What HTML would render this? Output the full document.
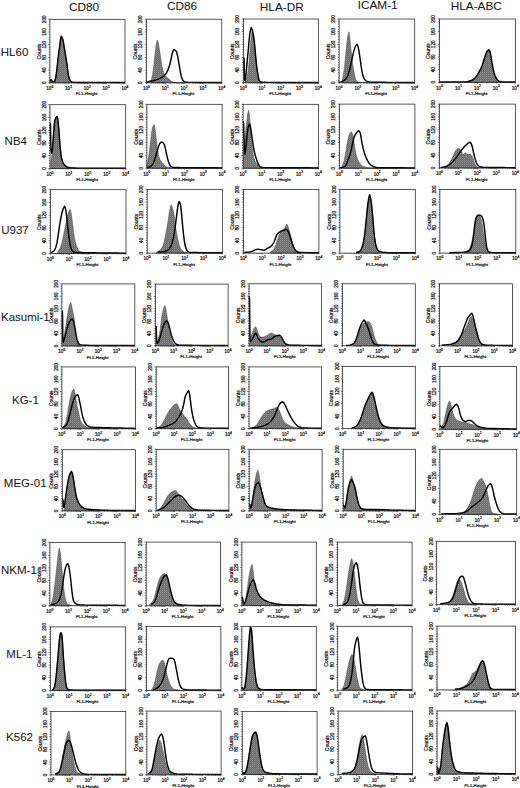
<!DOCTYPE html>
<html><head><meta charset="utf-8"><style>
html,body{margin:0;padding:0;background:#fff;width:520px;height:788px;overflow:hidden}
svg{display:block}
svg text{font-family:"Liberation Sans",sans-serif}
</style></head><body>
<svg width="520" height="788" viewBox="0 0 520 788">
<defs><pattern id="gp" width="2" height="2" patternUnits="userSpaceOnUse"><rect width="2" height="2" fill="#6e6e6e"/><rect width="1" height="1" fill="#8a8a8a"/><rect x="1" y="1" width="1" height="1" fill="#7a7a7a"/></pattern></defs>
<rect width="520" height="788" fill="#fff"/>
<g font-family="Liberation Sans" font-size="11.8" fill="#111" text-anchor="middle">
<text x="84" y="10.5">CD80</text>
<text x="182.1" y="9.7">CD86</text>
<text x="281.8" y="10.9">HLA-DR</text>
<text x="377.7" y="9.4">ICAM-1</text>
<text x="476.3" y="9.9">HLA-ABC</text>
</g>
<g font-family="Liberation Sans" font-size="11.5" fill="#111">
<text x="0.8" y="56">HL60</text>
<text x="4.6" y="145.3">NB4</text>
<text x="1.2" y="233.5">U937</text>
<text x="1" y="321">Kasumi-1</text>
<text x="12" y="403.7">KG-1</text>
<text x="3.8" y="487.3">MEG-01</text>
<text x="1" y="573.7">NKM-1</text>
<text x="6.3" y="657.8">ML-1</text>
<text x="6.1" y="741.3">K562</text>
</g>
<g><path d="M49.9 82.8L49.9 80.26L50.65 80.06L51.4 79.94L51.97 80.89L52.53 81.85L53.66 81.69L54.78 81.21L55.53 78.75L56.28 74.23L57.13 67.23L57.97 59.3L58.82 52.58L59.66 46.29L60.41 39.86L61.16 36.13L62.01 37.23L62.85 39.62L63.7 43.93L64.54 49.46L65.76 56.65L66.99 64.38L67.74 70.6L68.49 75.81L69.33 78.83L70.18 80.58L71.3 81.67L72.43 82.16L75.25 82.36L78.06 82.42L81 82.43L83.93 82.44L86.86 82.44L89.8 82.45L92.73 82.45L95.66 82.46L98.6 82.46L101.53 82.46L104.46 82.47L107.4 82.47L110.33 82.47L113.27 82.47L116.2 82.47L119.13 82.48L122.07 82.48L125 82.48L125 82.8Z" fill="url(#gp)" stroke="#444" stroke-width="0.5"/><path d="M49.9 80.26L50.65 80.06L51.4 79.94L51.97 80.89L52.53 81.85L53.66 81.69L54.78 81.21L55.53 78.75L56.28 74.23L57.13 67.23L57.97 59.3L58.82 52.58L59.66 46.29L60.41 39.86L61.16 36.13L62.01 37.23L62.85 39.62L63.7 43.93L64.54 49.46L65.76 56.65L66.99 64.38L67.74 70.6L68.49 75.81L69.33 78.83L70.18 80.58L71.3 81.67L72.43 82.16L75.25 82.36L78.06 82.42L81 82.43L83.93 82.44L86.86 82.44L89.8 82.45L92.73 82.45L95.66 82.46L98.6 82.46L101.53 82.46L104.46 82.47L107.4 82.47L110.33 82.47L113.27 82.47L116.2 82.47L119.13 82.48L122.07 82.48L125 82.48" fill="none" stroke="#000" stroke-width="1.45" stroke-linejoin="round"/><path d="M146.5 82.8L146.5 82.48L147.91 82.22L149.32 81.85L150.36 81.09L151.39 79.62L152.71 73.52L154.03 63.72L154.97 54.53L155.91 46.23L156.67 42.17L157.42 40.19L158.17 42.27L158.92 46.23L159.87 52.33L160.81 58.95L161.75 64.69L162.69 69.44L163.44 72.21L164.2 74.21L165.23 75.91L166.27 77.08L167.68 78.07L169.09 78.98L170.41 80.36L171.73 81.53L173.23 82.18L174.74 82.48L177.68 82.51L180.62 82.53L183.56 82.55L186.5 82.56L189.44 82.57L192.39 82.58L195.33 82.59L198.27 82.6L201.21 82.6L204.15 82.61L207.09 82.61L210.03 82.61L212.98 82.62L215.92 82.62L218.86 82.63L221.8 82.64L221.8 82.8Z" fill="url(#gp)" stroke="#444" stroke-width="0.5"/><path d="M146.5 82.48L146.78 82.31L147.06 82.16L150.01 81.29L152.96 80.7L155.91 79.94L158.67 78.95L161.43 77.65L164.2 75.8L166.08 73.58L167.96 70.08L169.47 65.45L170.97 59.59L172.1 54.17L173.23 50.36L173.8 49.92L174.36 49.73L175.49 50.38L176.62 51.95L177.84 57.07L179.07 64.36L180.29 71.68L181.51 77.39L182.74 80.13L183.96 81.53L185.94 82.11L187.92 82.32L191 82.36L194.08 82.38L197.16 82.4L200.24 82.42L203.32 82.43L206.4 82.44L209.48 82.45L212.56 82.45L215.64 82.46L218.72 82.47L221.8 82.48" fill="none" stroke="#000" stroke-width="1.45" stroke-linejoin="round"/><path d="M244.9 82.8L244.9 82.16L245.65 81.04L246.4 79.61L247.34 75.9L248.28 70.04L249.12 61.32L249.96 50.9L250.62 42.98L251.28 36.55L251.84 32.9L252.4 31.12L252.87 32.18L253.34 34.31L253.81 37.19L254.28 41.01L255.03 49.28L255.78 57.92L256.62 65.66L257.46 71.95L258.31 77.06L259.15 80.25L260.37 81.85L261.59 82.48L264.58 82.5L267.57 82.52L270.56 82.54L273.55 82.55L276.54 82.57L279.53 82.58L282.52 82.58L285.51 82.59L288.5 82.6L291.49 82.6L294.48 82.6L297.47 82.61L300.46 82.61L303.45 82.61L306.44 82.62L309.43 82.62L312.42 82.63L315.41 82.63L318.4 82.64L318.4 82.8Z" fill="url(#gp)" stroke="#444" stroke-width="0.5"/><path d="M243.4 58.24L243.73 58.24L244.06 58.24L244.29 69.11L244.53 80.25L244.81 80.73L245.09 80.89L245.93 75.44L246.78 65.89L247.62 56.91L248.46 47.71L249.21 39.53L249.96 33.04L250.62 29.38L251.28 27.61L252.03 29.24L252.78 32.4L253.53 36.05L254.28 41.01L255.03 49.09L255.78 57.92L256.62 65.66L257.46 71.95L258.31 77.08L259.15 80.25L260.37 81.74L261.59 82.32L264.58 82.34L267.57 82.36L270.56 82.38L273.55 82.39L276.54 82.41L279.53 82.42L282.52 82.42L285.51 82.43L288.5 82.44L291.49 82.44L294.48 82.44L297.47 82.45L300.46 82.45L303.45 82.45L306.44 82.46L309.43 82.46L312.42 82.47L315.41 82.47L318.4 82.48" fill="none" stroke="#000" stroke-width="1.45" stroke-linejoin="round"/><path d="M341.94 82.8L341.94 82.48L343.16 75.78L344.39 68.13L345.62 55.59L346.85 43.24L347.89 35.66L348.93 31.76L349.87 38L350.82 48.35L351.67 56.06L352.52 63.02L353.37 68.38L354.22 72.91L354.98 76.87L355.73 79.61L356.96 81.42L358.19 82.16L361.33 82.23L364.47 82.29L367.61 82.34L370.75 82.39L373.89 82.42L377.03 82.45L380.17 82.48L383.31 82.5L386.44 82.51L389.58 82.52L392.72 82.54L395.86 82.55L399 82.56L402.14 82.57L405.28 82.58L408.42 82.6L411.56 82.62L414.7 82.64L414.7 82.8Z" fill="url(#gp)" stroke="#444" stroke-width="0.5"/><path d="M339.1 81.52L339.57 81.92L340.05 82.16L342.22 81.57L344.39 80.25L346 78.67L347.61 76.1L349.21 71.23L350.82 64.62L352.05 58.82L353.28 53.13L354.13 49.89L354.98 47.39L356.02 45.24L357.06 44.2L357.91 46.12L358.76 49.94L359.61 55.23L360.46 61.43L361.21 66.75L361.97 71.32L363.01 75.81L364.05 78.65L365.65 80.59L367.26 81.52L369.72 81.98L372.18 82.16L375.21 82.21L378.25 82.26L381.29 82.29L384.32 82.32L387.36 82.35L390.4 82.36L393.44 82.38L396.48 82.39L399.51 82.41L402.55 82.42L405.59 82.43L408.62 82.44L411.66 82.46L414.7 82.48" fill="none" stroke="#000" stroke-width="1.45" stroke-linejoin="round"/><path d="M465.56 82.3L465.56 81.98L467.65 81.54L469.73 81.03L471.34 80.51L472.95 79.77L474.56 78.46L476.17 76.6L477.88 74.02L479.58 70.91L480.82 68.58L482.05 65.84L483.28 62.02L484.51 57.93L485.55 54.75L486.6 52.23L487.64 50.53L488.68 49.7L489.53 50.66L490.39 52.87L491.14 57.28L491.9 62.68L492.94 68.11L493.99 72.49L495.03 75.81L496.07 78.19L497.3 79.97L498.53 81.03L500.24 81.59L501.95 81.98L501.95 82.3Z" fill="url(#gp)" stroke="#444" stroke-width="0.5"/><path d="M439.6 81.98L442.48 81.98L445.37 81.98L448.25 81.98L451.14 81.98L454.02 81.98L456.91 81.98L459.79 81.98L462.68 81.98L465.56 81.98L467.65 81.66L469.73 81.03L471.34 80.51L472.95 79.77L474.56 78.46L476.17 76.6L477.88 74.02L479.58 70.91L480.82 68.58L482.05 65.84L483.28 62.02L484.51 57.93L485.55 54.75L486.6 52.23L487.64 50.53L488.68 49.7L489.53 50.66L490.39 52.87L491.14 57.28L491.9 62.68L492.94 68.11L493.99 72.49L495.03 75.81L496.07 78.19L497.3 79.97L498.53 81.03L500.24 81.71L501.95 81.98L504.64 81.98L507.33 81.98L510.02 81.98L512.71 81.98L515.4 81.98" fill="none" stroke="#000" stroke-width="1.45" stroke-linejoin="round"/><path d="M50.76 168.5L50.76 162.12L51.61 156.47L52.46 149.68L53.03 141.75L53.6 133.09L54.16 125.58L54.73 120.65L55.87 117.61L57 116.5L57.57 118.13L58.14 121.61L58.8 129.05L59.46 138.19L60.22 147.52L60.98 154.78L61.83 159.31L62.68 162.12L63.91 164.28L65.14 165.63L66.37 166.63L67.6 167.22L70.06 167.64L72.52 167.86L75.45 168.07L78.39 168.18L81.34 168.2L84.3 168.22L87.26 168.24L90.22 168.25L93.17 168.26L96.13 168.27L99.09 168.28L102.04 168.29L105 168.3L107.96 168.3L110.91 168.31L113.87 168.31L116.83 168.32L119.79 168.32L122.74 168.33L125.7 168.34L125.7 168.5Z" fill="url(#gp)" stroke="#444" stroke-width="0.5"/><path d="M50 123.2L50.24 123.45L50.47 123.84L50.71 136.17L50.95 149.36L51.32 152.21L51.7 153.19L52.08 152.08L52.46 149.68L53.03 142.2L53.6 133.09L54.16 125.58L54.73 120.65L55.87 117.61L57 116.5L57.57 118.13L58.14 121.61L58.8 129.05L59.46 138.19L60.22 147.52L60.98 154.78L61.83 159.31L62.68 162.12L63.91 164.28L65.14 165.63L66.37 166.63L67.6 167.22L70.06 167.64L72.52 167.86L75.45 168.07L78.39 168.18L81.34 168.2L84.3 168.23L87.26 168.24L90.22 168.26L93.17 168.28L96.13 168.29L99.09 168.3L102.04 168.31L105 168.32L107.96 168.32L110.91 168.33L113.87 168.33L116.83 168.34L119.79 168.34L122.74 168.34L125.7 168.34L125.7 168.26L125.7 168.18" fill="none" stroke="#000" stroke-width="1.45" stroke-linejoin="round"/><path d="M146.9 168.2L146.9 165.64L147.18 164.22L147.46 162.77L148.22 158.84L148.97 154.46L149.81 148.04L150.66 141.04L151.51 133.48L152.35 127.94L153.29 125.47L154.23 124.43L154.89 127.38L155.55 132.74L156.39 140.36L157.24 147.75L158.09 153.19L158.93 157.02L160.15 159.89L161.38 161.81L162.97 163.77L164.57 165.32L165.79 166.48L167.02 167.24L169.18 167.7L171.34 167.88L174.33 167.9L177.31 167.92L180.3 167.94L183.28 167.96L186.27 167.97L189.26 167.98L192.24 167.98L195.23 167.99L198.21 168L201.2 168L204.18 168.01L207.17 168.01L210.16 168.01L213.14 168.02L216.13 168.02L219.11 168.03L222.1 168.04L222.1 168.2Z" fill="url(#gp)" stroke="#444" stroke-width="0.5"/><path d="M146.9 167.56L147.18 167.56L147.46 167.56L149.44 167.1L151.41 165.96L153.1 163.39L154.8 159.25L156.02 155.3L157.24 150.95L158.46 146.63L159.68 143.6L160.91 142.47L162.13 142L163.26 142.76L164.38 144.56L165.32 148.15L166.26 152.86L167.3 157.35L168.33 161.17L169.37 164.1L170.4 165.96L171.62 166.83L172.84 167.24L175.29 167.47L177.73 167.56L180.69 167.61L183.65 167.64L186.61 167.68L189.56 167.71L192.52 167.73L195.48 167.75L198.44 167.76L201.39 167.78L204.35 167.79L207.31 167.8L210.27 167.82L213.23 167.83L216.18 167.84L219.14 167.86L222.1 167.88" fill="none" stroke="#000" stroke-width="1.45" stroke-linejoin="round"/><path d="M243.48 168.2L243.48 155.42L243.66 152.23L243.85 149.35L244.7 140.27L245.55 132.74L246.39 124.94L247.24 118.04L247.9 112.88L248.56 110.05L249.12 112.75L249.69 118.04L250.25 124.96L250.82 132.74L251.48 140.96L252.14 147.75L252.98 153.63L253.83 157.66L255.05 161.16L256.28 163.41L257.97 165.35L259.67 166.6L260.8 167.21L261.93 167.56L264.75 167.79L267.57 167.88L270.56 167.9L273.55 167.92L276.54 167.94L279.53 167.95L282.52 167.96L285.51 167.97L288.5 167.98L291.49 167.99L294.48 167.99L297.47 168L300.46 168L303.45 168.01L306.44 168.01L309.43 168.02L312.42 168.02L315.41 168.03L318.4 168.04L318.4 168.2Z" fill="url(#gp)" stroke="#444" stroke-width="0.5"/><path d="M243.1 121.23L243.38 122.12L243.66 123.47L243.95 135.64L244.23 149.03L244.51 152.87L244.79 154.46L245.64 149.51L246.49 141.04L247.24 133.61L247.99 127.94L248.84 125.26L249.69 124.11L250.54 127.18L251.38 132.74L252.23 138.59L253.08 144.56L253.83 149.07L254.58 152.86L255.43 155.98L256.28 158.61L257.12 161.25L257.97 163.41L259.2 165.65L260.42 166.92L262.02 167.38L263.62 167.56L266.66 167.61L269.71 167.64L272.75 167.68L275.79 167.7L278.84 167.73L281.88 167.75L284.92 167.76L287.97 167.78L291.01 167.79L294.05 167.8L297.1 167.81L300.14 167.81L303.18 167.82L306.23 167.83L309.27 167.84L312.31 167.85L315.36 167.86L318.4 167.88" fill="none" stroke="#000" stroke-width="1.45" stroke-linejoin="round"/><path d="M341.48 168.2L341.48 167.24L342.71 164.64L343.93 161.47L345.15 155.5L346.38 148.33L347.6 141.26L348.82 135.83L350.05 132.97L351.27 131.66L352.12 133L352.97 135.83L353.81 140.62L354.66 146.41L355.41 150.96L356.17 154.74L357.39 158.73L358.61 161.47L360.31 164.03L362 165.64L363.98 166.64L365.95 167.24L368.4 167.68L370.85 167.88L373.79 167.91L376.72 167.93L379.66 167.94L382.6 167.96L385.53 167.97L388.47 167.98L391.41 167.99L394.34 167.99L397.28 168L400.22 168.01L403.15 168.01L406.09 168.02L409.03 168.02L411.96 168.03L414.9 168.04L414.9 168.2Z" fill="url(#gp)" stroke="#444" stroke-width="0.5"/><path d="M339.98 167.88L342.42 167.38L344.87 166.6L346.47 164.04L348.07 159.87L349.67 155.42L351.27 149.93L352.5 143.69L353.72 138.07L354.94 135.23L356.17 133.27L357.39 131.57L358.61 130.7L359.46 131.47L360.31 133.27L361.15 137.72L362 143.2L363.23 148.72L364.45 153.14L366.05 157.53L367.65 160.83L369.25 163.27L370.85 164.99L372.54 166.18L374.24 166.92L376.69 167.47L379.13 167.72L382.11 167.75L385.09 167.77L388.07 167.79L391.06 167.81L394.04 167.82L397.02 167.83L400 167.84L402.98 167.84L405.96 167.85L408.94 167.86L411.92 167.87L414.9 167.88" fill="none" stroke="#000" stroke-width="1.45" stroke-linejoin="round"/><path d="M444.05 168L444.05 167.04L446.05 166.06L448.04 164.81L449.27 163.3L450.51 161.29L451.74 159.03L452.97 156.5L454.3 153.13L455.63 150.43L457.24 148.87L458.85 148.19L460.09 149.31L461.32 151.39L462.18 153.31L463.03 154.58L464.26 153.78L465.5 152.98L466.73 153.78L467.96 154.58L469.2 154.26L470.43 153.94L471.66 155.38L472.9 158.1L474.13 161.67L475.36 164.81L476.6 166.27L477.83 167.04L480.49 167.44L483.14 167.68L483.14 168Z" fill="url(#gp)" stroke="#444" stroke-width="0.5"/><path d="M440.64 167.68L442.85 167.22L445.07 166.75L447.28 166.08L449.75 164.51L452.21 162.25L454.68 159.61L457.15 156.5L458.85 153.97L460.56 151.39L462.18 149.19L463.79 147.23L465.5 145.5L467.2 144.04L468.63 142.8L470.05 142.12L471.09 143.47L472.14 146.27L472.9 149.37L473.65 152.98L474.51 156.58L475.36 159.69L476.41 162.76L477.45 164.81L478.87 166.07L480.3 166.72L482.76 167.17L485.23 167.36L488.25 167.43L491.26 167.48L494.28 167.52L497.3 167.55L500.31 167.57L503.33 167.59L506.35 167.61L509.37 167.63L512.38 167.65L515.4 167.68" fill="none" stroke="#000" stroke-width="1.45" stroke-linejoin="round"/><path d="M57.77 253.5L57.77 251.91L59 250L60.23 247.76L61.46 244.16L62.69 239.46L63.91 233.42L65.14 227.02L65.99 223.3L66.84 219.69L67.6 216.05L68.35 212.99L69.21 210.63L70.06 209.48L70.72 211.19L71.38 214.58L72.13 219.83L72.89 226.07L73.65 232.46L74.4 237.87L75.54 242.74L76.67 246.16L77.9 249.15L79.13 250.95L81.49 252.05L83.85 252.54L86.56 252.78L89.27 252.94L91.98 253.02L95.07 253.08L98.17 253.12L101.26 253.16L104.35 253.19L107.44 253.21L110.54 253.23L113.63 253.25L116.72 253.27L119.81 253.29L122.91 253.31L126 253.34L126 253.5Z" fill="url(#gp)" stroke="#444" stroke-width="0.5"/><path d="M51.16 252.54L52.86 251.63L54.56 250.31L55.79 247.45L57.02 242.65L58.24 234.88L59.47 226.07L60.7 218.76L61.93 212.99L63.25 208.5L64.58 206.29L65.43 208.42L66.28 212.99L66.94 219.02L67.6 226.07L68.45 233.27L69.3 239.46L70.06 244.32L70.81 247.76L72.04 250.57L73.27 251.91L75.35 252.36L77.43 252.54L80.32 252.63L83.2 252.69L86.09 252.74L88.98 252.77L91.87 252.8L94.76 252.83L97.65 252.86L100.48 252.9L103.32 252.93L106.16 252.97L108.99 253L111.82 253.03L114.66 253.06L117.49 253.09L120.33 253.12L123.16 253.15L126 253.18" fill="none" stroke="#000" stroke-width="1.45" stroke-linejoin="round"/><path d="M156.22 253.1L156.22 252.14L157.92 251.45L159.61 250.55L161.3 248.77L162.99 245.76L164.21 241.43L165.44 235.56L166.66 229.42L167.88 222.48L168.73 216.52L169.57 210.99L170.32 207.02L171.08 204.93L171.92 206.31L172.77 209.08L173.61 212.64L174.46 217.37L175.31 224.07L176.15 230.77L177 235.21L177.84 239.06L178.6 242.79L179.35 245.76L180.66 248.72L181.98 250.55L183.2 251.58L184.42 252.14L187.43 252.53L190.44 252.78L190.44 253.1Z" fill="url(#gp)" stroke="#444" stroke-width="0.5"/><path d="M157.92 252.14L160.11 251.96L162.3 251.79L164.5 251.5L167.03 250.69L169.57 248.95L171.36 245.36L173.14 239.06L174.46 231.81L175.78 222.48L176.62 215.5L177.47 209.08L178.31 204.03L179.16 201.42L179.91 202.79L180.66 205.89L181.42 212.37L182.17 220.88L182.83 227.7L183.48 233.96L184.33 240.87L185.18 245.76L186.4 249.33L187.62 251.19L189.31 252.1L191 252.46L193.86 252.53L196.71 252.58L199.57 252.62L202.42 252.65L205.27 252.68L208.13 252.69L210.98 252.71L213.84 252.72L216.69 252.74L219.55 252.76L222.4 252.78" fill="none" stroke="#000" stroke-width="1.45" stroke-linejoin="round"/><path d="M270.46 253.1L270.46 251.83L272.15 250.73L273.85 249.28L275.45 245.75L277.05 241.02L278.28 237.5L279.5 234.34L280.73 231.92L281.95 230.2L283.18 229.41L284.4 228.61L285.63 226.1L286.85 224.16L287.7 225.47L288.55 227.98L289.4 230.94L290.25 234.34L291.1 237.77L291.94 241.02L293.17 245.13L294.39 248.33L295.62 250.52L296.85 251.83L298.45 252.39L300.05 252.78L300.05 253.1Z" fill="url(#gp)" stroke="#444" stroke-width="0.5"/><path d="M244.25 252.46L246.45 252.29L248.65 252.11L250.85 251.83L252.55 251.11L254.24 250.24L255.85 249.62L257.45 249.28L259.05 249.39L260.65 249.6L262.35 249.97L264.05 250.24L265.65 249.5L267.25 248.33L268.85 247.6L270.46 246.74L272.15 245.08L273.85 242.61L275.45 238.33L277.05 234.34L278.28 233.02L279.5 232.11L280.73 231.38L281.95 230.84L283.18 230.53L284.4 230.2L285.25 229.65L286.1 229.25L287.33 230.17L288.55 232.11L289.78 235.37L291 239.43L292.23 243.34L293.45 246.74L294.68 249.26L295.9 250.87L297.98 251.99L300.05 252.46L302.74 252.56L305.44 252.62L308.13 252.66L310.82 252.69L313.51 252.72L316.21 252.74L318.9 252.78" fill="none" stroke="#000" stroke-width="1.45" stroke-linejoin="round"/><path d="M356.3 253.1L356.3 252.46L357.9 252.07L359.5 251.51L360.73 250.15L361.95 247.69L363.09 243.76L364.22 237.81L365.16 230.32L366.1 221.25L366.95 212.46L367.8 204.69L368.74 198.14L369.68 194.81L370.53 197.53L371.38 203.1L372.23 211.3L373.08 221.25L373.83 230.23L374.58 237.81L375.43 243.17L376.28 246.73L377.32 249.41L378.35 250.87L380.43 251.74L382.5 252.14L384.64 252.38L386.77 252.55L388.91 252.62L391.84 252.66L394.77 252.68L397.71 252.7L400.64 252.72L403.57 252.73L406.5 252.74L409.44 252.75L412.37 252.77L415.3 252.78L415.3 253.1Z" fill="url(#gp)" stroke="#444" stroke-width="0.5"/><path d="M356.3 252.46L357.9 252.07L359.5 251.51L360.73 250.15L361.95 247.69L363.09 243.76L364.22 237.81L365.16 230.32L366.1 221.25L366.95 212.46L367.8 204.69L368.74 198.14L369.68 194.81L370.53 197.53L371.38 203.1L372.23 211.3L373.08 221.25L373.83 230.23L374.58 237.81L375.43 243.17L376.28 246.73L377.32 249.41L378.35 250.87L380.43 251.74L382.5 252.14L384.64 252.38L386.77 252.55L388.91 252.62L391.84 252.66L394.77 252.68L397.71 252.7L400.64 252.72L403.57 252.73L406.5 252.74L409.44 252.75L412.37 252.77L415.3 252.78" fill="none" stroke="#000" stroke-width="1.45" stroke-linejoin="round"/><path d="M462.48 253.1L462.48 252.14L464.95 251.63L467.41 250.87L469.03 249.2L470.64 246.09L471.87 241.76L473.11 235.58L473.96 230.07L474.81 224.44L475.57 220.1L476.33 217.11L477.38 215.31L478.42 214.56L479.46 215.33L480.51 217.11L481.46 220.7L482.4 226.03L483.26 231.91L484.11 237.81L485.16 243.44L486.2 247.69L487.05 250.12L487.91 251.51L489.52 252.09L491.13 252.46L491.13 253.1Z" fill="url(#gp)" stroke="#444" stroke-width="0.5"/><path d="M449.39 252.78L452.42 252.68L455.46 252.59L458.5 252.5L461.53 252.36L464.57 252.14L467.22 251.59L469.88 250.23L471.11 248.06L472.35 243.86L473.11 238.96L473.87 232.72L474.72 225.32L475.57 219.66L476.52 216.84L477.47 215.52L478.61 215.28L479.75 215.2L480.7 215.47L481.64 216.15L482.69 218.48L483.73 222.84L484.59 229.63L485.44 237.81L486.1 243.5L486.77 247.69L487.72 250.49L488.67 251.83L490.85 252.42L493.03 252.62L495.88 252.66L498.72 252.69L501.57 252.72L504.41 252.73L507.26 252.74L510.11 252.75L512.95 252.76L515.8 252.78" fill="none" stroke="#000" stroke-width="1.45" stroke-linejoin="round"/><path d="M62.63 345.9L62.63 343.11L63.72 337.87L64.82 332.26L66.09 323.71L67.37 315.52L69.01 306.78L70.65 302.19L71.47 304.72L72.29 309.01L73.02 311.96L73.75 315.52L74.57 322.93L75.39 330.71L76.21 336.01L77.03 339.7L78.3 343.02L79.58 344.66L82.59 345.25L85.59 345.59L85.59 345.9Z" fill="url(#gp)" stroke="#444" stroke-width="0.5"/><path d="M61.9 310.56L62.17 311.03L62.45 311.8L62.67 326.44L62.9 341.25L63.04 341.92L63.18 342.18L64 340.39L64.82 337.22L66.09 332.15L67.37 327.3L68.55 323.88L69.74 321.41L71.01 319.72L72.29 318.93L73.02 320.05L73.75 322.34L74.57 326.09L75.39 330.71L76.21 335.68L77.03 339.7L78.3 343.04L79.58 344.66L82.04 345.12L84.5 345.28L87.46 345.32L90.42 345.36L93.38 345.39L96.33 345.42L99.29 345.44L102.25 345.46L105.21 345.48L108.17 345.49L111.13 345.5L114.09 345.51L117.05 345.52L120.01 345.53L122.96 345.54L125.92 345.55L128.88 345.56L131.84 345.57L134.8 345.59" fill="none" stroke="#000" stroke-width="1.45" stroke-linejoin="round"/><path d="M156.49 345.8L156.49 343.95L158.04 339.56L159.58 334.08L160.76 325.09L161.94 315.88L163.4 308.82L164.85 305.39L165.67 308.03L166.49 312.79L167.3 317.55L168.12 322.66L168.94 327.84L169.76 332.53L170.76 337.18L171.76 340.56L173.03 343.17L174.3 344.57L176.66 345.14L179.03 345.49L179.03 345.8Z" fill="url(#gp)" stroke="#444" stroke-width="0.5"/><path d="M155.4 325.75L155.76 326.36L156.13 327.29L156.49 335.66L156.85 343.33L157.22 343.24L157.58 343.02L158.58 341.49L159.58 339.01L160.76 335.04L161.94 330.68L163.22 326.45L164.49 323.28L165.67 321.59L166.85 320.81L167.94 322.48L169.03 325.75L170.03 329.82L171.03 334.08L172.21 337.77L173.39 340.56L174.67 342.63L175.94 343.95L177.57 344.81L179.21 345.18L182.09 345.23L184.96 345.27L187.84 345.3L190.71 345.33L193.59 345.35L196.46 345.37L199.34 345.39L202.22 345.4L205.09 345.41L207.97 345.42L210.84 345.43L213.72 345.43L216.6 345.44L219.47 345.45L222.35 345.46L225.22 345.48L228.1 345.49" fill="none" stroke="#000" stroke-width="1.45" stroke-linejoin="round"/><path d="M249.82 345.8L249.82 341.46L251.09 336.61L252.36 332.47L253.99 328.54L255.62 326.58L256.44 328.11L257.26 330.61L258.52 334.18L259.79 336.5L261.06 336.95L262.33 337.12L263.51 336.91L264.69 336.5L266.41 335.64L268.13 334.64L269.76 333.66L271.39 333.09L273.02 333.72L274.66 334.64L276.29 335.09L277.92 335.57L279.19 336.18L280.46 337.12L281.63 339.16L282.81 341.46L284.08 343.17L285.35 344.25L287.43 344.88L289.52 345.18L291.75 345.32L293.99 345.4L296.23 345.49L296.23 345.8Z" fill="url(#gp)" stroke="#444" stroke-width="0.5"/><path d="M249.1 296.2L249.33 297.42L249.55 299.3L249.78 319.87L250.01 339.6L250.37 341.02L250.73 341.46L252 339.83L253.27 337.12L254.45 334.6L255.62 333.09L256.44 334.42L257.26 336.5L258.52 338.81L259.79 340.53L261.06 341.58L262.33 342.08L263.51 341.87L264.69 341.46L266.41 340.5L268.13 339.6L269.76 339.31L271.39 338.98L272.57 338.14L273.75 337.12L275.02 336.4L276.29 335.88L277.92 335.46L279.55 335.26L280.55 335.87L281.54 337.12L282.63 339.25L283.72 341.46L284.99 343.2L286.26 344.25L288.7 344.91L291.15 345.18L293.92 345.24L296.69 345.29L299.45 345.33L302.22 345.36L304.99 345.38L307.76 345.4L310.53 345.41L313.3 345.43L316.06 345.45L318.83 345.47L321.6 345.49" fill="none" stroke="#000" stroke-width="1.45" stroke-linejoin="round"/><path d="M353.15 345.8L353.15 344.56L354.43 343.48L355.7 342.08L356.98 338.8L358.26 334.64L359.9 329.56L361.54 325.65L363.18 323.67L364.82 322.55L366.91 321.89L369.01 321.62L370.28 322.88L371.56 325.65L372.38 328.8L373.2 332.47L374.48 336.99L375.75 340.53L376.94 342.86L378.12 344.25L380.31 345L382.5 345.49L382.5 345.8Z" fill="url(#gp)" stroke="#444" stroke-width="0.5"/><path d="M346.04 345.49L347.96 345.36L349.87 345.18L351.51 344.75L353.15 343.94L354.43 342.64L355.7 340.53L356.98 336.86L358.26 332.47L359.44 328.79L360.62 325.65L362.36 321.95L364.09 320.07L365.27 321.48L366.46 324.1L367.73 327.09L369.01 330.61L370.28 334.93L371.56 338.98L372.84 342.06L374.11 343.94L376.12 344.83L378.12 345.18L380.98 345.24L383.84 345.28L386.7 345.32L389.56 345.35L392.42 345.37L395.28 345.39L398.14 345.4L401 345.42L403.86 345.43L406.72 345.44L409.58 345.45L412.44 345.47L415.3 345.49" fill="none" stroke="#000" stroke-width="1.45" stroke-linejoin="round"/><path d="M451.36 345.8L451.36 343.94L453.83 342.85L456.29 341.46L457.93 339.54L459.57 337.12L461.22 334.83L462.86 332.47L464.5 330.17L466.14 327.51L467.33 324.65L468.52 321.62L469.8 318.44L471.07 316.66L471.99 317.13L472.9 318.21L473.99 321.31L475.09 325.65L476.18 329.86L477.28 334.02L478.28 337.65L479.29 340.53L480.47 342.67L481.66 343.94L484.3 344.87L486.95 345.49L486.95 345.8Z" fill="url(#gp)" stroke="#444" stroke-width="0.5"/><path d="M441.51 345.18L443.88 345L446.25 344.81L448.62 344.56L451.36 344.09L454.1 343.32L456.02 342.37L457.93 340.84L459.57 338.53L461.22 335.26L462.4 332.18L463.59 328.75L464.87 325.29L466.14 321.93L466.97 319.73L467.79 317.9L468.79 316.53L469.8 315.42L470.8 314.05L471.8 313.25L472.62 314.71L473.44 317.59L474.27 321.44L475.09 325.65L476.18 330.06L477.28 334.02L478.28 337.65L479.29 340.53L480.47 342.67L481.66 343.94L483.67 344.82L485.67 345.18L488.65 345.26L491.63 345.31L494.62 345.35L497.6 345.38L500.58 345.4L503.56 345.42L506.54 345.44L509.52 345.46L512.5 345.49" fill="none" stroke="#000" stroke-width="1.45" stroke-linejoin="round"/><path d="M63.19 428.7L63.19 427.46L64.48 425.29L65.76 422.52L66.96 416.82L68.16 409.54L69.35 402.23L70.55 396.25L72.2 391.19L73.86 388.84L74.69 391.49L75.52 396.25L76.34 401.19L77.17 406.14L78.28 411.49L79.38 416.03L80.3 419.4L81.22 421.9L82.88 424.39L84.53 425.92L86.19 426.89L87.84 427.46L90.24 427.86L92.63 428.12L95.02 428.24L97.91 428.28L100.8 428.32L103.69 428.36L106.59 428.39L109.48 428.41L112.37 428.43L115.26 428.44L118.15 428.46L121.04 428.47L123.93 428.48L126.83 428.49L129.72 428.51L132.61 428.53L135.5 428.55L135.5 428.7Z" fill="url(#gp)" stroke="#444" stroke-width="0.5"/><path d="M62.45 427.77L64.48 426.62L66.5 424.99L68.16 420.76L69.81 414.49L71.01 409.48L72.2 404.6L73.49 400.22L74.78 397.18L76.25 395.46L77.72 394.71L78.64 397L79.56 401.2L80.39 405.21L81.22 409.54L82.05 413.92L82.88 417.58L84.16 421.08L85.45 423.45L86.65 424.94L87.84 425.92L89.5 426.73L91.16 427.15L93.36 427.31L95.57 427.39L97.78 427.46L100.63 427.56L103.48 427.63L106.34 427.7L109.19 427.77L112.11 427.85L115.04 427.92L117.96 427.99L120.88 428.05L123.81 428.12L126.73 428.19L129.65 428.26L132.58 428.32L135.5 428.39" fill="none" stroke="#000" stroke-width="1.45" stroke-linejoin="round"/><path d="M158.19 428.6L158.19 427.67L159.81 426.4L161.44 424.9L163.07 422.41L164.7 419.35L166.32 416.04L167.95 412.87L169.67 410.2L171.38 407.93L173.01 405.97L174.64 404.54L175.81 403.91L176.99 403.61L178.25 406L179.52 409.47L180.78 411.29L182.05 412.87L183.22 414.41L184.4 415.95L185.66 417.61L186.93 419.35L188.19 421.41L189.46 423.36L191.08 425.34L192.71 426.75L194.34 427.55L195.97 427.98L198.68 428.17L201.39 428.29L201.39 428.6Z" fill="url(#gp)" stroke="#444" stroke-width="0.5"/><path d="M156.56 427.98L158.73 427.8L160.9 427.63L163.07 427.37L165.3 426.79L167.53 425.89L169.76 424.9L172.2 423.85L174.64 422.43L176.26 420.71L177.89 418.42L179.52 415.99L181.14 412.87L182.41 409.27L183.67 404.54L184.49 400.11L185.3 396.21L186.11 394.44L186.93 393.12L187.74 391.55L188.55 390.65L189.1 391.99L189.64 394.66L190.36 400.02L191.08 406.08L191.9 411.54L192.71 415.95L193.71 419.67L194.7 422.43L195.78 424.89L196.87 426.44L198.86 427.54L200.85 427.98L203.61 428.05L206.38 428.11L209.14 428.15L211.91 428.17L214.67 428.2L217.44 428.21L220.2 428.23L222.97 428.25L225.73 428.26L228.5 428.29" fill="none" stroke="#000" stroke-width="1.45" stroke-linejoin="round"/><path d="M253.27 428.6L253.27 427.67L254.9 426.56L256.53 425.21L258.16 422.66L259.79 419.65L261.43 417.03L263.06 414.72L264.69 412.77L266.32 411.32L268.04 410.43L269.76 409.78L271.39 409.31L273.02 408.86L275.11 407.92L277.19 407.31L278.37 408.72L279.55 411.32L280.82 414.53L282.09 417.8L283.27 420.28L284.44 422.12L286.17 423.57L287.89 424.59L289.52 425.44L291.15 426.13L293.6 427.05L296.04 427.67L298.52 427.94L301 428.12L303.48 428.29L303.48 428.6Z" fill="url(#gp)" stroke="#444" stroke-width="0.5"/><path d="M250.01 428.29L252.18 427.99L254.36 427.69L256.53 427.37L258.71 427.02L260.88 426.64L263.06 426.13L265.59 425.14L268.13 423.66L270.12 421.98L272.12 419.65L273.75 417.06L275.38 413.79L276.65 410.53L277.92 407.31L279.19 404.77L280.46 402.99L281.54 402.15L282.63 401.76L283.54 402.5L284.44 403.92L285.44 405.77L286.44 407.93L287.98 411.39L289.52 414.72L291.15 417.67L292.78 420.27L294.41 422.64L296.04 424.59L297.68 426.09L299.31 427.06L301.84 427.69L304.38 427.98L307.25 428.08L310.12 428.14L312.99 428.18L315.86 428.21L318.73 428.25L321.6 428.29" fill="none" stroke="#000" stroke-width="1.45" stroke-linejoin="round"/><path d="M351.77 428.6L351.77 427.98L353.41 427.58L355.04 427.05L356.68 425.74L358.31 423.62L359.94 420.4L361.58 416.16L362.76 412.48L363.94 408.7L365.21 405.26L366.48 402.17L367.66 399.54L368.84 397.19L370.38 393.99L371.92 392.21L372.92 393.9L373.92 397.19L374.83 400.97L375.73 405.27L376.82 410.18L377.91 414.61L379.18 418.89L380.45 422.07L382.09 424.65L383.72 426.11L386.53 426.92L389.35 427.36L391.52 427.63L393.7 427.85L395.88 427.98L398.65 428.05L401.43 428.11L404.2 428.15L406.98 428.19L409.75 428.22L412.53 428.25L415.3 428.29L415.3 428.6Z" fill="url(#gp)" stroke="#444" stroke-width="0.5"/><path d="M351.77 427.98L353.41 427.58L355.04 427.05L356.68 425.74L358.31 423.62L359.94 420.4L361.58 416.16L362.76 412.48L363.94 408.7L365.21 405.26L366.48 402.17L367.66 399.54L368.84 397.19L370.38 393.99L371.92 392.21L372.92 393.9L373.92 397.19L374.83 400.97L375.73 405.27L376.82 410.18L377.91 414.61L379.18 418.89L380.45 422.07L382.09 424.65L383.72 426.11L386.53 426.92L389.35 427.36L391.52 427.63L393.7 427.85L395.88 427.98L398.65 428.05L401.43 428.11L404.2 428.15L406.98 428.19L409.75 428.22L412.53 428.25L415.3 428.29" fill="none" stroke="#000" stroke-width="1.45" stroke-linejoin="round"/><path d="M440.86 429.3L440.86 428.36L442.39 425.38L443.92 421.76L445.17 416.33L446.41 410.15L447.27 406.44L448.13 403.55L448.9 401.86L449.67 401.04L450.53 403.09L451.39 406.69L452.25 410.3L453.11 413.6L454.26 416.57L455.41 418.62L456.66 419.98L457.9 420.82L459.53 421.36L461.16 421.76L462.78 422.26L464.41 422.71L466.14 423.02L467.86 423.33L469.49 423.77L471.11 424.28L473.51 425.03L475.9 425.85L478.39 426.87L480.88 427.73L483.05 428.15L485.22 428.48L487.39 428.67L489.88 428.78L492.37 428.86L494.86 428.92L497.35 428.99L497.35 429.3Z" fill="url(#gp)" stroke="#444" stroke-width="0.5"/><path d="M439.9 425.22L440.28 425.72L440.67 426.16L441.91 427.22L443.16 427.73L444.78 425.68L446.41 421.76L448.04 416.5L449.67 411.72L451.39 409.4L453.11 407.63L454.84 405.44L456.56 404.18L457.71 405.6L458.86 408.58L459.62 411.85L460.39 415.17L461.64 418.26L462.88 420.19L464.12 421.28L465.37 421.76L466.61 421.14L467.86 420.51L469.01 420.51L470.16 420.51L471.4 420.93L472.65 421.76L473.89 422.98L475.14 424.28L476.76 425.54L478.39 426.47L480.5 427.24L482.6 427.73L484.77 428.02L486.95 428.23L489.12 428.36L492.16 428.47L495.2 428.57L498.24 428.65L501.29 428.71L504.33 428.77L507.37 428.82L510.41 428.87L513.46 428.92L516.5 428.99" fill="none" stroke="#000" stroke-width="1.45" stroke-linejoin="round"/><path d="M63.95 510.9L63.95 507.23L64.77 502.44L65.59 497.44L66.42 491.49L67.24 485.81L68.25 480.19L69.25 476.02L70.35 472.91L71.45 471.43L72.27 473.27L73.1 476.93L73.92 481.99L74.74 487.64L75.66 493.09L76.57 497.44L77.86 501.27L79.14 503.86L80.69 505.89L82.25 507.23L84.35 508.39L86.46 509.06L88.59 509.34L90.73 509.53L92.86 509.68L95.7 509.87L98.53 510.06L101.37 510.2L104.21 510.29L107.05 510.34L109.9 510.38L112.74 510.41L115.59 510.44L118.43 510.46L121.28 510.49L124.12 510.51L126.97 510.53L129.81 510.55L132.66 510.57L135.5 510.59L135.5 510.9Z" fill="url(#gp)" stroke="#444" stroke-width="0.5"/><path d="M62.3 498.97L62.67 499.32L63.03 499.88L63.31 503.72L63.58 507.23L63.76 507.23L63.95 507.23L64.77 503.66L65.59 497.44L66.42 491.49L67.24 485.81L68.25 480.19L69.25 476.02L70.35 472.91L71.45 471.43L72.27 473.27L73.1 476.93L73.92 481.99L74.74 487.64L75.66 493.09L76.57 497.44L77.86 501.27L79.14 503.86L80.69 505.89L82.25 507.23L84.35 508.39L86.46 509.06L88.59 509.34L90.73 509.53L92.86 509.68L95.7 509.87L98.53 510.06L101.37 510.2L104.21 510.29L107.05 510.34L109.9 510.38L112.74 510.41L115.59 510.44L118.43 510.46L121.28 510.49L124.12 510.51L126.97 510.53L129.81 510.55L132.66 510.57L135.5 510.59" fill="none" stroke="#000" stroke-width="1.45" stroke-linejoin="round"/><path d="M157.29 510.8L157.29 510.49L159.38 508.97L161.47 507.11L163.11 504.46L164.74 501.27L166.29 498.32L167.83 495.73L169.47 493.75L171.1 492.35L173.38 491.09L175.65 490.5L177.1 491.73L178.56 493.89L179.74 495.57L180.92 497.27L182.55 499.29L184.19 501.27L185.83 503.55L187.46 505.57L189.1 506.96L190.73 508.03L192.37 508.94L194 509.57L196.91 510.1L199.82 510.49L199.82 510.8Z" fill="url(#gp)" stroke="#444" stroke-width="0.5"/><path d="M157.29 510.49L160.2 509.38L163.11 508.03L165.47 506.09L167.83 503.73L169.92 501.76L172.01 499.73L173.65 497.83L175.28 496.35L177.28 495.49L179.28 495.12L180.92 495.84L182.55 497.27L184.19 499.1L185.83 501.27L187.46 503.52L189.1 505.57L190.73 507.16L192.37 508.34L194 509.09L195.64 509.57L198 509.98L200.37 510.19L203.22 510.25L206.07 510.3L208.93 510.34L211.78 510.37L214.63 510.39L217.49 510.41L220.34 510.43L223.19 510.44L226.05 510.47L228.9 510.49" fill="none" stroke="#000" stroke-width="1.45" stroke-linejoin="round"/><path d="M249.93 510.8L249.93 506.19L250.38 507.34L250.84 508.03L251.66 504.7L252.48 498.81L253.76 489.31L255.03 480.67L256.49 473.5L257.95 469.9L258.95 473.86L259.95 480.67L260.77 485.74L261.59 490.5L262.6 495.03L263.6 498.81L264.6 502.27L265.6 504.65L267.24 506.22L268.88 507.11L270.98 507.85L273.07 508.34L275.26 508.73L277.45 509.03L279.64 509.26L282.1 509.47L284.56 509.64L287.02 509.78L289.48 509.88L292.44 509.97L295.41 510.04L298.37 510.11L301.34 510.16L304.31 510.22L307.27 510.26L310.24 510.31L313.2 510.35L316.17 510.39L319.13 510.44L322.1 510.49L322.1 510.8Z" fill="url(#gp)" stroke="#444" stroke-width="0.5"/><path d="M249.2 503.73L249.56 504.14L249.93 504.65L250.38 506.55L250.84 508.03L251.66 505.33L252.48 500.65L253.76 493.33L255.03 487.43L256.49 484.03L257.95 482.51L258.95 483.5L259.95 485.59L260.77 488.21L261.59 491.43L262.6 495.16L263.6 498.81L264.6 502.61L265.6 505.26L267.24 506.68L268.88 507.42L270.98 507.96L273.07 508.34L275.26 508.71L277.45 509.02L279.64 509.26L282.1 509.47L284.56 509.64L287.02 509.78L289.48 509.88L292.44 509.97L295.41 510.04L298.37 510.11L301.34 510.16L304.31 510.22L307.27 510.26L310.24 510.31L313.2 510.35L316.17 510.39L319.13 510.44L322.1 510.49" fill="none" stroke="#000" stroke-width="1.45" stroke-linejoin="round"/><path d="M343.92 510.8L343.92 507.11L344.37 507.69L344.83 508.03L345.64 505.43L346.45 500.65L347.45 493.9L348.44 487.43L350.07 479.64L351.7 475.75L352.51 478.42L353.32 482.51L354.14 484.91L354.95 487.43L355.76 491.44L356.58 495.73L357.57 500.15L358.56 503.73L359.56 506.44L360.55 508.03L362.63 508.92L364.71 509.26L367.31 509.37L369.91 509.43L372.52 509.47L375.12 509.51L377.72 509.57L380.43 509.66L383.15 509.77L385.86 509.89L388.57 510.01L391.28 510.11L393.99 510.19L396.68 510.24L399.37 510.28L402.06 510.32L404.75 510.36L407.43 510.39L410.12 510.42L412.81 510.46L415.5 510.49L415.5 510.8Z" fill="url(#gp)" stroke="#444" stroke-width="0.5"/><path d="M343.2 504.65L343.56 505.24L343.92 505.88L344.37 507.18L344.83 508.03L345.64 505.43L346.45 500.65L347.45 493.61L348.44 487.43L350.07 482.11L351.7 479.74L352.51 480.96L353.32 483.12L354.14 485.04L354.95 487.43L355.76 491.37L356.58 495.73L357.57 500.15L358.56 503.73L359.56 506.44L360.55 508.03L362.63 508.92L364.71 509.26L367.31 509.37L369.91 509.43L372.52 509.47L375.12 509.51L377.72 509.57L380.43 509.66L383.15 509.77L385.86 509.89L388.57 510.01L391.28 510.11L393.99 510.19L396.68 510.24L399.37 510.28L402.06 510.32L404.75 510.36L407.43 510.39L410.12 510.42L412.81 510.46L415.5 510.49" fill="none" stroke="#000" stroke-width="1.45" stroke-linejoin="round"/><path d="M459.29 514.3L459.29 513.65L461.79 512.81L464.28 511.7L466.3 509.77L468.32 506.82L470.04 503.26L471.77 498.7L473.02 494.72L474.27 490.57L475.42 486.96L476.57 484.07L479.07 480.06L481.56 478.22L482.43 479.14L483.29 480.82L484.06 482.33L484.83 484.07L485.69 486.27L486.56 488.95L487.42 492.7L488.28 497.07L489.05 501.25L489.82 505.2L490.68 509.11L491.55 511.7L492.8 513.04L494.04 513.65L495.77 513.85L497.5 513.97L497.5 514.3Z" fill="url(#gp)" stroke="#444" stroke-width="0.5"/><path d="M441.24 513.97L444.25 513.88L447.26 513.8L450.27 513.73L453.28 513.63L456.28 513.51L459.29 513.32L461.53 513.02L463.77 512.47L466.01 511.7L468.41 509.99L470.81 507.8L472.92 506.17L475.04 504.55L477.05 502.98L479.07 501.3L480.7 499.86L482.33 498.05L484.06 494.61L485.79 490.57L487.04 487.87L488.28 485.7L489.44 484.39L490.59 483.75L491.45 484.92L492.32 487.32L493.18 491.13L494.04 495.45L495.2 499.82L496.35 503.57L497.6 507.26L498.84 510.07L500.09 511.91L501.34 513L503.45 513.7L505.56 513.97L508.35 513.97L511.13 513.97L513.92 513.97L516.7 513.97" fill="none" stroke="#000" stroke-width="1.45" stroke-linejoin="round"/><path d="M51.22 605.7L51.22 604.12L52.16 600.76L53.1 596.87L54.13 590.27L55.16 582.04L56.2 572.23L57.23 562.48L58.27 553.14L59.3 547.96L60.15 551.9L60.99 559.32L61.84 567.92L62.68 577.31L63.44 585.18L64.19 591.82L65.03 597.06L65.88 600.65L66.82 603.14L67.76 604.44L70.11 605.04L72.46 605.38L72.46 605.7Z" fill="url(#gp)" stroke="#444" stroke-width="0.5"/><path d="M50.65 604.75L53.57 604.12L56.48 603.18L58.08 601.74L59.68 599.07L60.9 594.9L62.12 588.66L63.15 581.23L64.19 573.83L65.03 569.59L65.88 566.58L66.82 564.43L67.76 563.42L68.61 565.49L69.45 569.73L70.3 575.96L71.14 583.62L71.9 590.92L72.65 596.87L73.49 600.51L74.34 602.55L75.94 603.85L77.54 604.44L79.73 604.77L81.92 604.98L84.12 605.07L87.04 605.12L89.97 605.16L92.9 605.19L95.83 605.22L98.75 605.24L101.68 605.26L104.61 605.28L107.54 605.29L110.46 605.31L113.39 605.32L116.32 605.33L119.25 605.35L122.17 605.36L125.1 605.38" fill="none" stroke="#000" stroke-width="1.45" stroke-linejoin="round"/><path d="M149.72 605.8L149.72 604.53L151.39 602.85L153.06 600.7L154.27 597.58L155.47 593.38L156.68 588.36L157.89 583.5L159.09 579.79L160.3 577.13L162.34 574.49L164.38 573.31L165.21 573.92L166.05 575.22L166.88 577.37L167.72 580.32L168.65 584.31L169.57 588.6L170.59 593.17L171.61 596.88L172.91 599.71L174.21 601.66L175.79 603.46L177.36 604.53L180.33 605.1L183.3 605.48L183.3 605.8Z" fill="url(#gp)" stroke="#444" stroke-width="0.5"/><path d="M151.39 604.53L153.06 603.3L154.73 601.66L156.31 597.39L157.89 591.79L159.56 586.43L161.23 581.91L163.64 577.02L166.05 574.59L166.98 575.98L167.9 578.73L169.02 583.36L170.13 588.6L171.34 593.47L172.54 597.52L173.75 600.63L174.95 602.62L176.99 603.89L179.03 604.53L181.69 604.93L184.35 605.21L187.01 605.32L190.05 605.35L193.08 605.38L196.12 605.4L199.15 605.41L202.19 605.42L205.22 605.43L208.26 605.44L211.29 605.45L214.33 605.46L217.36 605.47L220.4 605.48" fill="none" stroke="#000" stroke-width="1.45" stroke-linejoin="round"/><path d="M242.64 605.5L242.64 599.16L243.02 601.42L243.39 602.96L243.85 603.42L244.32 603.6L245.16 601.32L245.99 596.94L246.83 591.56L247.67 585.53L248.69 578.49L249.71 572.53L250.92 567.06L252.13 564.29L252.87 568.76L253.62 575.7L254.46 581.17L255.29 585.53L256.41 589.41L257.52 592.19L259.11 594.96L260.69 596.94L262.73 598.76L264.78 600.11L267.2 601.38L269.61 602.33L271.85 602.99L274.08 603.52L276.31 603.91L278.73 604.25L281.15 604.54L283.56 604.75L285.98 604.87L289.01 604.93L292.05 604.97L295.08 605.01L298.11 605.04L301.14 605.07L304.17 605.09L307.2 605.11L310.24 605.13L313.27 605.15L316.3 605.18L316.3 605.5Z" fill="url(#gp)" stroke="#444" stroke-width="0.5"/><path d="M241.9 596.94L242.27 597.34L242.64 597.89L243.11 600.9L243.57 603.6L243.95 603.83L244.32 603.91L245.53 601.41L246.74 596.94L248.04 591.82L249.34 587.11L251.2 582.25L253.06 579.82L253.9 580.87L254.73 582.99L255.48 585.75L256.22 588.7L257.25 591.57L258.27 593.77L259.85 596.16L261.43 597.89L263.48 599.53L265.52 600.75L267.57 601.64L269.61 602.33L271.85 602.97L274.08 603.51L276.31 603.91L278.73 604.25L281.15 604.54L283.56 604.75L285.98 604.87L289.01 604.93L292.05 604.97L295.08 605.01L298.11 605.04L301.14 605.07L304.17 605.09L307.2 605.11L310.24 605.13L313.27 605.15L316.3 605.18" fill="none" stroke="#000" stroke-width="1.45" stroke-linejoin="round"/><path d="M341.88 605.5L341.88 604.87L343.1 602.79L344.31 600.11L345.52 593.86L346.74 585.53L347.95 576.95L349.17 569.05L350.38 562.21L351.59 558.58L352.43 560.41L353.27 564.29L354.11 570.76L354.95 578.87L355.7 585.93L356.45 592.19L357.29 597.57L358.13 601.06L359.34 603.19L360.56 604.23L362.98 604.81L365.41 605.18L365.41 605.5Z" fill="url(#gp)" stroke="#444" stroke-width="0.5"/><path d="M343.38 604.87L345.43 603.71L347.48 602.01L348.7 598.89L349.91 593.77L351.13 586.12L352.34 577.29L353.18 571.31L354.02 566.83L355.14 563.95L356.26 562.71L357.2 564.72L358.13 569.05L358.97 575.8L359.81 583.94L360.65 591.15L361.49 596.94L362.42 601.28L363.36 603.6L365.69 604.56L368.03 604.87L370.97 604.92L373.9 604.96L376.84 605L379.78 605.02L382.72 605.05L385.66 605.07L388.59 605.08L391.53 605.09L394.47 605.11L397.41 605.12L400.35 605.13L403.29 605.14L406.22 605.15L409.16 605.16L412.1 605.18" fill="none" stroke="#000" stroke-width="1.45" stroke-linejoin="round"/><path d="M446.93 604.65L446.93 604.02L448.6 603.07L450.28 601.8L451.46 599.72L452.64 596.73L453.92 592.85L455.19 588.5L456.18 584.71L457.16 581.84L458.44 580.28L459.72 579.63L460.7 581.09L461.69 583.74L462.77 586.72L463.85 590.08L464.84 593.5L465.82 596.73L466.9 599.73L467.98 601.8L469.46 603.05L470.93 603.7L473.49 604.08L476.05 604.33L476.05 604.65Z" fill="url(#gp)" stroke="#444" stroke-width="0.5"/><path d="M440.24 603.7L443 603.36L445.75 603.02L448.5 602.43L450.57 601.01L452.64 598.31L454.31 594.06L455.98 588.5L457.26 584.12L458.54 580.26L459.52 578.09L460.51 576.78L461.59 576.32L462.67 576.14L463.46 577.34L464.25 579.63L465.03 582.29L465.82 585.33L466.9 589.6L467.98 593.56L469.16 597.17L470.34 599.9L471.82 602.16L473.3 603.38L475.75 603.84L478.21 604.02L481.31 604.07L484.41 604.12L487.51 604.16L490.61 604.19L493.71 604.21L496.81 604.23L499.91 604.25L503 604.26L506.1 604.28L509.2 604.29L512.3 604.31L515.4 604.33" fill="none" stroke="#000" stroke-width="1.45" stroke-linejoin="round"/><path d="M52.28 690.5L52.28 690.18L53.41 688.88L54.54 687L55.29 683.14L56.05 677.14L56.89 668.73L57.74 659.02L58.59 648.27L59.44 639.3L60.09 634.82L60.75 632.62L61.32 633.35L61.88 635.17L62.45 641.56L63.01 650.75L63.67 660.19L64.33 668.88L64.99 676.22L65.65 681.91L66.31 685.96L66.97 688.27L68.19 689.42L69.41 689.86L72.49 690.05L75.56 690.15L78.64 690.18L81.58 690.18L84.52 690.18L87.46 690.18L90.4 690.18L93.34 690.18L96.29 690.18L99.23 690.18L102.17 690.18L105.11 690.18L108.05 690.18L110.99 690.18L113.93 690.18L116.88 690.18L119.82 690.18L122.76 690.18L125.7 690.18L125.7 690.5Z" fill="url(#gp)" stroke="#444" stroke-width="0.5"/><path d="M52.28 690.18L53.41 688.88L54.54 687L55.29 683.14L56.05 677.14L56.89 668.73L57.74 659.02L58.59 648.27L59.44 639.3L60.09 634.82L60.75 632.62L61.32 633.35L61.88 635.17L62.45 641.56L63.01 650.75L63.67 660.19L64.33 668.88L64.99 676.22L65.65 681.91L66.31 685.96L66.97 688.27L68.19 689.42L69.41 689.86L72.49 690.05L75.56 690.15L78.64 690.18L81.58 690.18L84.52 690.18L87.46 690.18L90.4 690.18L93.34 690.18L96.29 690.18L99.23 690.18L102.17 690.18L105.11 690.18L108.05 690.18L110.99 690.18L113.93 690.18L116.88 690.18L119.82 690.18L122.76 690.18L125.7 690.18" fill="none" stroke="#000" stroke-width="1.45" stroke-linejoin="round"/><path d="M151.34 690.5L151.34 689.86L152.54 688.15L153.75 686.02L155.06 681.18L156.36 675.14L157.57 669.66L158.78 665.22L159.99 662.64L161.19 661.06L162.12 660.4L163.05 660.1L163.89 661.51L164.73 664.26L165.56 667.87L166.4 671.94L167.43 676.43L168.45 680.26L169.66 683.63L170.87 686.02L172.54 688.08L174.21 689.22L177.1 689.8L179.98 690.18L179.98 690.5Z" fill="url(#gp)" stroke="#444" stroke-width="0.5"/><path d="M153.01 689.86L155.43 688.88L157.85 687.62L159.52 685.96L161.19 683.46L162.78 679.91L164.36 675.14L165.56 670.25L166.77 665.22L167.89 660.96L169.01 658.5L170.4 658.26L171.8 658.18L173 658.62L174.21 659.78L175.05 662.57L175.89 666.82L176.82 671.8L177.75 676.74L178.77 681.52L179.79 685.06L181.1 687.57L182.4 688.9L184.82 689.59L187.23 689.86L190.29 689.92L193.36 689.98L196.42 690.02L199.48 690.05L202.54 690.07L205.6 690.09L208.66 690.1L211.72 690.12L214.78 690.13L217.84 690.15L220.9 690.18" fill="none" stroke="#000" stroke-width="1.45" stroke-linejoin="round"/><path d="M241.9 690.2L241.9 687.65L242.27 687.8L242.64 687.97L243.3 688.7L243.95 689.24L244.69 687.4L245.43 683.51L246.27 676.48L247.11 666.95L247.94 655.51L248.78 644.02L249.62 633.15L250.46 627.14L251.01 628.19L251.57 630.64L252.22 638.45L252.87 648.8L253.71 659.36L254.55 668.54L255.39 676.22L256.22 681.92L257.06 685.55L257.9 687.65L259.11 688.75L260.31 689.24L263.2 689.6L266.08 689.72L269.03 689.74L271.99 689.76L274.94 689.78L277.9 689.79L280.85 689.81L283.8 689.81L286.76 689.82L289.71 689.83L292.67 689.84L295.62 689.84L298.58 689.85L301.53 689.85L304.48 689.85L307.44 689.86L310.39 689.87L313.35 689.87L316.3 689.88L316.3 690.2Z" fill="url(#gp)" stroke="#444" stroke-width="0.5"/><path d="M241.9 687.65L242.27 687.8L242.64 687.97L243.3 688.7L243.95 689.24L244.69 687.4L245.43 683.51L246.27 676.48L247.11 666.95L247.94 655.51L248.78 644.02L249.62 633.15L250.46 627.14L251.01 628.19L251.57 630.64L252.22 638.45L252.87 648.8L253.71 659.36L254.55 668.54L255.39 676.22L256.22 681.92L257.06 685.55L257.9 687.65L259.11 688.75L260.31 689.24L263.2 689.6L266.08 689.72L269.03 689.74L271.99 689.76L274.94 689.78L277.9 689.79L280.85 689.81L283.8 689.81L286.76 689.82L289.71 689.83L292.67 689.84L295.62 689.84L298.58 689.85L301.53 689.85L304.48 689.85L307.44 689.86L310.39 689.87L313.35 689.87L316.3 689.88" fill="none" stroke="#000" stroke-width="1.45" stroke-linejoin="round"/><path d="M341.79 690.2L341.79 689.24L343 687.41L344.21 685.09L345.42 680.01L346.63 673.59L347.84 667.46L349.05 662.08L350.44 657.03L351.84 654.42L352.67 655.19L353.51 656.97L354.25 660.51L355 665.28L355.83 670.3L356.67 675.18L357.51 679.76L358.35 683.49L359.37 686.78L360.39 688.6L363 689.41L365.6 689.88L365.6 690.2Z" fill="url(#gp)" stroke="#444" stroke-width="0.5"/><path d="M343.47 689.24L345.88 688.36L348.3 687L349.51 684.58L350.72 680.3L351.74 674.69L352.77 666.88L353.6 657.47L354.44 648.66L355.28 643.71L356.11 640.36L356.86 638.21L357.6 637.16L358.25 640L358.9 645.47L359.65 653.45L360.39 662.08L361.23 670.07L362.07 676.78L362.9 682.37L363.74 686.05L364.95 688.28L366.16 689.24L369.07 689.52L371.99 689.67L374.9 689.72L377.76 689.75L380.62 689.77L383.48 689.78L386.35 689.8L389.21 689.81L392.07 689.82L394.93 689.83L397.79 689.84L400.65 689.84L403.52 689.85L406.38 689.86L409.24 689.87L412.1 689.88" fill="none" stroke="#000" stroke-width="1.45" stroke-linejoin="round"/><path d="M456.48 689.9L456.48 689.26L459.02 688.54L461.57 687.67L464.02 686.37L466.46 684.48L468.13 682.46L469.79 679.69L471.06 676.44L472.33 673.63L473.41 672.74L474.49 672.04L475.47 671.32L476.45 670.44L477.72 668.23L478.99 665.66L480.65 662.4L482.32 660.55L483.39 662.29L484.47 665.66L485.45 669.36L486.43 673.63L487.41 677.99L488.39 681.92L489.46 685.41L490.54 687.67L492.2 688.8L493.87 689.58L493.87 689.9Z" fill="url(#gp)" stroke="#444" stroke-width="0.5"/><path d="M454.91 689.26L457.13 688.98L459.35 688.7L461.57 688.3L464.02 687.37L466.46 686.07L468.52 684.94L470.57 683.52L472.24 681.92L473.9 679.69L475.17 676.94L476.45 673.63L477.72 670.44L478.99 667.25L480.07 664.42L481.14 662.15L481.93 661.08L482.71 660.55L483.59 661.95L484.47 664.7L485.45 668.78L486.43 673.63L487.41 678.58L488.39 682.88L489.46 686.31L490.54 688.3L492.2 689.12L493.87 689.42L496.94 689.47L500.02 689.5L503.1 689.52L506.17 689.54L509.25 689.55L512.32 689.56L515.4 689.58" fill="none" stroke="#000" stroke-width="1.45" stroke-linejoin="round"/><path d="M55.86 774.9L55.86 774.26L57.55 772.94L59.23 771.09L60.44 767.36L61.66 761.88L62.87 755.55L64.09 748.87L65.31 742.68L66.52 737.43L67.74 733.05L68.95 730.77L69.79 735.03L70.64 742.2L71.48 748.25L72.32 753.94L73.07 758.19L73.81 761.88L74.66 765.66L75.5 768.55L76.71 771.15L77.93 772.68L80.36 773.81L82.79 774.58L82.79 774.9Z" fill="url(#gp)" stroke="#444" stroke-width="0.5"/><path d="M55.11 774.26L57.17 773.24L59.23 771.73L60.44 768.61L61.66 763.79L62.87 758.07L64.09 752.04L65.31 746.23L66.52 742.2L67.55 740.86L68.58 740.29L69.61 741.21L70.64 743.15L71.85 747.03L73.07 752.04L74.28 757.14L75.5 761.88L76.71 765.6L77.93 768.55L79.14 770.86L80.36 772.36L82.42 773.43L84.47 773.95L87.03 774.2L89.58 774.35L92.14 774.42L95.2 774.45L98.26 774.48L101.32 774.5L104.38 774.51L107.44 774.52L110.5 774.53L113.56 774.54L116.62 774.55L119.68 774.56L122.74 774.57L125.8 774.58" fill="none" stroke="#000" stroke-width="1.45" stroke-linejoin="round"/><path d="M148.2 774.8L148.2 774.16L149.87 772.83L151.54 770.98L152.74 767.16L153.95 761.74L155.15 755.86L156.36 750.28L158.03 743.61L159.7 740.08L160.91 742.38L162.11 746.77L163.22 751.57L164.34 756.96L165.26 761.42L166.19 765.25L167.4 768.7L168.6 770.98L170.27 772.61L171.94 773.53L174.26 774.08L176.58 774.48L176.58 774.8Z" fill="url(#gp)" stroke="#444" stroke-width="0.5"/><path d="M147.83 774.16L149.68 772.87L151.54 770.98L152.74 766.6L153.95 760.15L155.15 753.3L156.36 746.77L157.57 741.59L158.77 737.85L160.16 735.24L161.55 734.03L162.3 735.27L163.04 737.85L163.78 741.78L164.52 746.77L165.36 752.8L166.19 758.56L167.03 763.31L167.86 766.84L169.07 769.86L170.27 771.62L172.31 772.87L174.35 773.53L176.86 773.96L179.36 774.16L182.34 774.21L185.32 774.26L188.31 774.29L191.29 774.32L194.27 774.35L197.25 774.36L200.23 774.38L203.21 774.39L206.19 774.41L209.18 774.42L212.16 774.43L215.14 774.44L218.12 774.46L221.1 774.48" fill="none" stroke="#000" stroke-width="1.45" stroke-linejoin="round"/><path d="M242.3 774.4L242.3 773.14L242.67 772.95L243.05 772.83L243.89 773.14L244.73 773.46L245.95 771.3L247.16 766.85L248.47 759.39L249.78 750.5L251 742.5L252.21 736.66L253.8 733.34L255.39 731.94L256.23 733.12L257.07 735.72L257.91 740.81L258.76 747.35L259.6 753.18L260.44 758.67L261.19 763.33L261.94 766.85L263.24 770.18L264.55 771.88L266.98 772.73L269.42 773.14L271.6 773.44L273.78 773.66L275.96 773.77L278.9 773.82L281.84 773.86L284.78 773.89L287.71 773.92L290.65 773.95L293.59 773.96L296.53 773.98L299.47 773.99L302.41 774.01L305.35 774.02L308.28 774.03L311.22 774.05L314.16 774.07L317.1 774.09L317.1 774.4Z" fill="url(#gp)" stroke="#444" stroke-width="0.5"/><path d="M242.3 773.14L242.67 772.95L243.05 772.83L243.89 773.14L244.73 773.46L245.95 771.3L247.16 766.85L248.47 759.39L249.78 750.5L251 742.5L252.21 736.66L253.8 733.34L255.39 731.94L256.23 733.12L257.07 735.72L257.91 740.81L258.76 747.35L259.6 753.18L260.44 758.67L261.19 763.33L261.94 766.85L263.24 770.18L264.55 771.88L266.98 772.73L269.42 773.14L271.6 773.44L273.78 773.66L275.96 773.77L278.9 773.82L281.84 773.86L284.78 773.89L287.71 773.92L290.65 773.95L293.59 773.96L296.53 773.98L299.47 773.99L302.41 774.01L305.35 774.02L308.28 774.03L311.22 774.05L314.16 774.07L317.1 774.09" fill="none" stroke="#000" stroke-width="1.45" stroke-linejoin="round"/><path d="M349.9 774.4L349.9 773.45L351.57 772.52L353.25 771.24L354.45 768.9L355.66 765.22L356.68 760.87L357.7 755.41L358.73 748.64L359.75 742.43L360.95 737.16L362.16 734.52L363 736.67L363.83 740.85L364.67 746.25L365.51 752.25L366.34 757.53L367.18 762.06L368.2 766.35L369.22 769.34L370.61 771.59L372.01 772.82L374.61 773.58L377.21 774.08L377.21 774.4Z" fill="url(#gp)" stroke="#444" stroke-width="0.5"/><path d="M341.73 773.45L344.45 773.2L347.18 772.94L349.9 772.5L351.95 771.44L353.99 769.34L355.38 766.48L356.77 762.06L357.89 756.76L359 750.66L360.03 745.13L361.05 740.85L362.07 738.74L363.09 737.37L364.11 736.31L365.13 735.79L365.97 737.7L366.81 741.48L367.64 746.54L368.48 752.25L369.5 758.42L370.52 763.64L371.54 767.73L372.56 770.29L374.33 771.82L376.09 772.5L378.82 772.81L381.54 772.99L384.27 773.13L386.87 773.29L389.47 773.43L392.07 773.57L394.67 773.68L397.27 773.77L400.31 773.85L403.36 773.91L406.41 773.97L409.45 774.02L412.5 774.08" fill="none" stroke="#000" stroke-width="1.45" stroke-linejoin="round"/><path d="M437.1 774.1L437.1 767.15L437.49 767.69L437.88 768.41L438.27 770.87L438.67 772.84L439.74 770.49L440.82 765.25L441.6 757.87L442.39 749.14L443.46 740.03L444.54 732.7L445.71 726.03L446.89 722.59L447.57 724.82L448.26 729.23L449.04 736.27L449.82 744.08L450.7 751.2L451.59 757.04L452.56 761.72L453.54 765.25L454.62 768.37L455.7 770.31L457.36 771.34L459.02 771.89L461.96 772.51L464.9 772.84L467.34 772.95L469.79 773.03L472.24 773.09L474.68 773.15L477.7 773.23L480.71 773.3L483.73 773.36L486.74 773.42L489.76 773.47L492.96 773.52L496.17 773.56L499.37 773.6L502.58 773.64L505.78 773.67L508.99 773.71L512.19 773.75L515.4 773.78L515.4 774.1Z" fill="url(#gp)" stroke="#444" stroke-width="0.5"/><path d="M437.1 767.15L437.49 767.69L437.88 768.41L438.27 770.87L438.67 772.84L439.74 770.49L440.82 765.25L441.6 757.87L442.39 749.14L443.46 740.03L444.54 732.7L445.71 726.03L446.89 722.59L447.57 724.82L448.26 729.23L449.04 736.27L449.82 744.08L450.7 751.2L451.59 757.04L452.56 761.72L453.54 765.25L454.62 768.37L455.7 770.31L457.36 771.34L459.02 771.89L461.96 772.51L464.9 772.84L467.34 772.95L469.79 773.03L472.24 773.09L474.68 773.15L477.7 773.23L480.71 773.3L483.73 773.36L486.74 773.42L489.76 773.47L492.96 773.52L496.17 773.56L499.37 773.6L502.58 773.64L505.78 773.67L508.99 773.71L512.19 773.75L515.4 773.78" fill="none" stroke="#000" stroke-width="1.45" stroke-linejoin="round"/></g>
<g fill="none" stroke="#222" stroke-width="0.75"><rect x="49.9" y="19.3" width="75.1" height="63.5"/><rect x="146.5" y="19.2" width="75.3" height="63.6"/><rect x="243.4" y="19" width="75" height="63.8"/><rect x="339.1" y="19" width="75.6" height="63.8"/><rect x="439.6" y="19" width="75.8" height="63.3"/><rect x="50" y="104.7" width="75.7" height="63.8"/><rect x="146.9" y="104.3" width="75.2" height="63.9"/><rect x="243.1" y="104.3" width="75.3" height="63.9"/><rect x="339.6" y="104.1" width="75.3" height="64.1"/><rect x="439.5" y="104.1" width="75.9" height="63.9"/><rect x="50.4" y="189.7" width="75.6" height="63.8"/><rect x="147.2" y="189.3" width="75.2" height="63.8"/><rect x="243.5" y="189.5" width="75.4" height="63.6"/><rect x="339.9" y="189.4" width="75.4" height="63.7"/><rect x="439.9" y="189.4" width="75.9" height="63.7"/><rect x="61.9" y="283.9" width="72.9" height="62"/><rect x="155.4" y="284.1" width="72.7" height="61.7"/><rect x="249.1" y="283.8" width="72.5" height="62"/><rect x="342.4" y="283.8" width="72.9" height="62"/><rect x="439.5" y="283.8" width="73" height="62"/><rect x="61.9" y="366.9" width="73.6" height="61.8"/><rect x="156.2" y="366.9" width="72.3" height="61.7"/><rect x="249.1" y="366.9" width="72.5" height="61.7"/><rect x="342.7" y="366.4" width="72.6" height="62.2"/><rect x="439.9" y="366.5" width="76.6" height="62.8"/><rect x="62.3" y="449.7" width="73.2" height="61.2"/><rect x="156.2" y="449.3" width="72.7" height="61.5"/><rect x="249.2" y="449.3" width="72.9" height="61.5"/><rect x="343.2" y="449.3" width="72.3" height="61.5"/><rect x="439.9" y="449.3" width="76.8" height="65"/><rect x="49.9" y="542.6" width="75.2" height="63.1"/><rect x="146.2" y="542.1" width="74.2" height="63.7"/><rect x="241.9" y="542.1" width="74.4" height="63.4"/><rect x="337.4" y="542.1" width="74.7" height="63.4"/><rect x="436.7" y="541.3" width="78.7" height="63.35"/><rect x="50.4" y="626.9" width="75.3" height="63.6"/><rect x="146.5" y="626.5" width="74.4" height="64"/><rect x="241.9" y="626.5" width="74.4" height="63.7"/><rect x="337.7" y="626.3" width="74.4" height="63.9"/><rect x="437.1" y="626.1" width="78.3" height="63.8"/><rect x="51" y="711.4" width="74.8" height="63.5"/><rect x="146.9" y="711.1" width="74.2" height="63.7"/><rect x="242.3" y="711.5" width="74.8" height="62.9"/><rect x="338.2" y="711.1" width="74.3" height="63.3"/><rect x="437.1" y="710.9" width="78.3" height="63.2"/></g>
<g font-family="Liberation Sans" fill="#111" stroke="#111" stroke-width="0.22"><path d="M49.9 82.8h-1.7M49.9 80.26h-1.1M49.9 77.72h-1.1M49.9 75.18h-1.1M49.9 72.64h-1.1M49.9 70.1h-1.7M49.9 67.56h-1.1M49.9 65.02h-1.1M49.9 62.48h-1.1M49.9 59.94h-1.1M49.9 57.4h-1.7M49.9 54.86h-1.1M49.9 52.32h-1.1M49.9 49.78h-1.1M49.9 47.24h-1.1M49.9 44.7h-1.7M49.9 42.16h-1.1M49.9 39.62h-1.1M49.9 37.08h-1.1M49.9 34.54h-1.1M49.9 32h-1.7M49.9 29.46h-1.1M49.9 26.92h-1.1M49.9 24.38h-1.1M49.9 21.84h-1.1M49.9 19.3h-1.7M49.9 82.8v1.3M55.55 82.8v0.8M58.86 82.8v0.8M61.2 82.8v0.8M63.02 82.8v0.8M64.51 82.8v0.8M65.77 82.8v0.8M66.86 82.8v0.8M67.82 82.8v0.8M68.67 82.8v1.3M74.33 82.8v0.8M77.63 82.8v0.8M79.98 82.8v0.8M81.8 82.8v0.8M83.28 82.8v0.8M84.54 82.8v0.8M85.63 82.8v0.8M86.59 82.8v0.8M87.45 82.8v1.3M93.1 82.8v0.8M96.41 82.8v0.8M98.75 82.8v0.8M100.57 82.8v0.8M102.06 82.8v0.8M103.32 82.8v0.8M104.41 82.8v0.8M105.37 82.8v0.8M106.22 82.8v1.3M111.88 82.8v0.8M115.18 82.8v0.8M117.53 82.8v0.8M119.35 82.8v0.8M120.83 82.8v0.8M122.09 82.8v0.8M123.18 82.8v0.8M124.14 82.8v0.8M125 82.8v1.3" stroke="#222" stroke-width="0.65" fill="none"/><text transform="translate(45.7 82.8) rotate(-90)" text-anchor="middle" font-size="4.6">0</text><text transform="translate(45.7 70.1) rotate(-90)" text-anchor="middle" font-size="4.6">40</text><text transform="translate(45.7 57.4) rotate(-90)" text-anchor="middle" font-size="4.6">80</text><text transform="translate(45.7 44.7) rotate(-90)" text-anchor="middle" font-size="4.6">120</text><text transform="translate(45.7 32) rotate(-90)" text-anchor="middle" font-size="4.6">160</text><text transform="translate(45.7 19.3) rotate(-90)" text-anchor="middle" font-size="4.6">200</text><text transform="translate(40.5 51.55) rotate(-90)" text-anchor="middle" font-size="5">Counts</text><text x="48.8" y="90.1" font-size="4.5" text-anchor="middle">10</text><text x="51.5" y="87.8" font-size="3.2">0</text><text x="67.58" y="90.1" font-size="4.5" text-anchor="middle">10</text><text x="70.27" y="87.8" font-size="3.2">1</text><text x="86.35" y="90.1" font-size="4.5" text-anchor="middle">10</text><text x="89.05" y="87.8" font-size="3.2">2</text><text x="105.12" y="90.1" font-size="4.5" text-anchor="middle">10</text><text x="107.82" y="87.8" font-size="3.2">3</text><text x="123.9" y="90.1" font-size="4.5" text-anchor="middle">10</text><text x="126.6" y="87.8" font-size="3.2">4</text><text x="86.7" y="95.4" font-size="4.4" text-anchor="middle">FL1-Height</text><path d="M146.5 82.8h-1.7M146.5 80.26h-1.1M146.5 77.71h-1.1M146.5 75.17h-1.1M146.5 72.62h-1.1M146.5 70.08h-1.7M146.5 67.54h-1.1M146.5 64.99h-1.1M146.5 62.45h-1.1M146.5 59.9h-1.1M146.5 57.36h-1.7M146.5 54.82h-1.1M146.5 52.27h-1.1M146.5 49.73h-1.1M146.5 47.18h-1.1M146.5 44.64h-1.7M146.5 42.1h-1.1M146.5 39.55h-1.1M146.5 37.01h-1.1M146.5 34.46h-1.1M146.5 31.92h-1.7M146.5 29.38h-1.1M146.5 26.83h-1.1M146.5 24.29h-1.1M146.5 21.74h-1.1M146.5 19.2h-1.7M146.5 82.8v1.3M152.17 82.8v0.8M155.48 82.8v0.8M157.83 82.8v0.8M159.66 82.8v0.8M161.15 82.8v0.8M162.41 82.8v0.8M163.5 82.8v0.8M164.46 82.8v0.8M165.32 82.8v1.3M170.99 82.8v0.8M174.31 82.8v0.8M176.66 82.8v0.8M178.48 82.8v0.8M179.97 82.8v0.8M181.23 82.8v0.8M182.33 82.8v0.8M183.29 82.8v0.8M184.15 82.8v1.3M189.82 82.8v0.8M193.13 82.8v0.8M195.48 82.8v0.8M197.31 82.8v0.8M198.8 82.8v0.8M200.06 82.8v0.8M201.15 82.8v0.8M202.11 82.8v0.8M202.98 82.8v1.3M208.64 82.8v0.8M211.96 82.8v0.8M214.31 82.8v0.8M216.13 82.8v0.8M217.62 82.8v0.8M218.88 82.8v0.8M219.98 82.8v0.8M220.94 82.8v0.8M221.8 82.8v1.3" stroke="#222" stroke-width="0.65" fill="none"/><text transform="translate(142.3 82.8) rotate(-90)" text-anchor="middle" font-size="4.6">0</text><text transform="translate(142.3 70.08) rotate(-90)" text-anchor="middle" font-size="4.6">40</text><text transform="translate(142.3 57.36) rotate(-90)" text-anchor="middle" font-size="4.6">80</text><text transform="translate(142.3 44.64) rotate(-90)" text-anchor="middle" font-size="4.6">120</text><text transform="translate(142.3 31.92) rotate(-90)" text-anchor="middle" font-size="4.6">160</text><text transform="translate(142.3 19.2) rotate(-90)" text-anchor="middle" font-size="4.6">200</text><text transform="translate(137.1 51.5) rotate(-90)" text-anchor="middle" font-size="5">Counts</text><text x="145.4" y="90.1" font-size="4.5" text-anchor="middle">10</text><text x="148.1" y="87.8" font-size="3.2">0</text><text x="164.22" y="90.1" font-size="4.5" text-anchor="middle">10</text><text x="166.92" y="87.8" font-size="3.2">1</text><text x="183.05" y="90.1" font-size="4.5" text-anchor="middle">10</text><text x="185.75" y="87.8" font-size="3.2">2</text><text x="201.88" y="90.1" font-size="4.5" text-anchor="middle">10</text><text x="204.58" y="87.8" font-size="3.2">3</text><text x="220.7" y="90.1" font-size="4.5" text-anchor="middle">10</text><text x="223.4" y="87.8" font-size="3.2">4</text><text x="183.4" y="95.4" font-size="4.4" text-anchor="middle">FL1-Height</text><path d="M243.4 82.8h-1.7M243.4 80.25h-1.1M243.4 77.7h-1.1M243.4 75.14h-1.1M243.4 72.59h-1.1M243.4 70.04h-1.7M243.4 67.49h-1.1M243.4 64.94h-1.1M243.4 62.38h-1.1M243.4 59.83h-1.1M243.4 57.28h-1.7M243.4 54.73h-1.1M243.4 52.18h-1.1M243.4 49.62h-1.1M243.4 47.07h-1.1M243.4 44.52h-1.7M243.4 41.97h-1.1M243.4 39.42h-1.1M243.4 36.86h-1.1M243.4 34.31h-1.1M243.4 31.76h-1.7M243.4 29.21h-1.1M243.4 26.66h-1.1M243.4 24.1h-1.1M243.4 21.55h-1.1M243.4 19h-1.7M243.4 82.8v1.3M249.04 82.8v0.8M252.35 82.8v0.8M254.69 82.8v0.8M256.51 82.8v0.8M257.99 82.8v0.8M259.25 82.8v0.8M260.33 82.8v0.8M261.29 82.8v0.8M262.15 82.8v1.3M267.79 82.8v0.8M271.1 82.8v0.8M273.44 82.8v0.8M275.26 82.8v0.8M276.74 82.8v0.8M278 82.8v0.8M279.08 82.8v0.8M280.04 82.8v0.8M280.9 82.8v1.3M286.54 82.8v0.8M289.85 82.8v0.8M292.19 82.8v0.8M294.01 82.8v0.8M295.49 82.8v0.8M296.75 82.8v0.8M297.83 82.8v0.8M298.79 82.8v0.8M299.65 82.8v1.3M305.29 82.8v0.8M308.6 82.8v0.8M310.94 82.8v0.8M312.76 82.8v0.8M314.24 82.8v0.8M315.5 82.8v0.8M316.58 82.8v0.8M317.54 82.8v0.8M318.4 82.8v1.3" stroke="#222" stroke-width="0.65" fill="none"/><text transform="translate(239.2 82.8) rotate(-90)" text-anchor="middle" font-size="4.6">0</text><text transform="translate(239.2 70.04) rotate(-90)" text-anchor="middle" font-size="4.6">40</text><text transform="translate(239.2 57.28) rotate(-90)" text-anchor="middle" font-size="4.6">80</text><text transform="translate(239.2 44.52) rotate(-90)" text-anchor="middle" font-size="4.6">120</text><text transform="translate(239.2 31.76) rotate(-90)" text-anchor="middle" font-size="4.6">160</text><text transform="translate(239.2 19) rotate(-90)" text-anchor="middle" font-size="4.6">200</text><text transform="translate(234 51.4) rotate(-90)" text-anchor="middle" font-size="5">Counts</text><text x="242.3" y="90.1" font-size="4.5" text-anchor="middle">10</text><text x="245" y="87.8" font-size="3.2">0</text><text x="261.05" y="90.1" font-size="4.5" text-anchor="middle">10</text><text x="263.75" y="87.8" font-size="3.2">1</text><text x="279.8" y="90.1" font-size="4.5" text-anchor="middle">10</text><text x="282.5" y="87.8" font-size="3.2">2</text><text x="298.55" y="90.1" font-size="4.5" text-anchor="middle">10</text><text x="301.25" y="87.8" font-size="3.2">3</text><text x="317.3" y="90.1" font-size="4.5" text-anchor="middle">10</text><text x="320" y="87.8" font-size="3.2">4</text><text x="280.15" y="95.4" font-size="4.4" text-anchor="middle">FL1-Height</text><path d="M339.1 82.8h-1.7M339.1 80.25h-1.1M339.1 77.7h-1.1M339.1 75.14h-1.1M339.1 72.59h-1.1M339.1 70.04h-1.7M339.1 67.49h-1.1M339.1 64.94h-1.1M339.1 62.38h-1.1M339.1 59.83h-1.1M339.1 57.28h-1.7M339.1 54.73h-1.1M339.1 52.18h-1.1M339.1 49.62h-1.1M339.1 47.07h-1.1M339.1 44.52h-1.7M339.1 41.97h-1.1M339.1 39.42h-1.1M339.1 36.86h-1.1M339.1 34.31h-1.1M339.1 31.76h-1.7M339.1 29.21h-1.1M339.1 26.66h-1.1M339.1 24.1h-1.1M339.1 21.55h-1.1M339.1 19h-1.7M339.1 82.8v1.3M344.79 82.8v0.8M348.12 82.8v0.8M350.48 82.8v0.8M352.31 82.8v0.8M353.81 82.8v0.8M355.07 82.8v0.8M356.17 82.8v0.8M357.14 82.8v0.8M358 82.8v1.3M363.69 82.8v0.8M367.02 82.8v0.8M369.38 82.8v0.8M371.21 82.8v0.8M372.71 82.8v0.8M373.97 82.8v0.8M375.07 82.8v0.8M376.04 82.8v0.8M376.9 82.8v1.3M382.59 82.8v0.8M385.92 82.8v0.8M388.28 82.8v0.8M390.11 82.8v0.8M391.61 82.8v0.8M392.87 82.8v0.8M393.97 82.8v0.8M394.94 82.8v0.8M395.8 82.8v1.3M401.49 82.8v0.8M404.82 82.8v0.8M407.18 82.8v0.8M409.01 82.8v0.8M410.51 82.8v0.8M411.77 82.8v0.8M412.87 82.8v0.8M413.84 82.8v0.8M414.7 82.8v1.3" stroke="#222" stroke-width="0.65" fill="none"/><text transform="translate(334.9 82.8) rotate(-90)" text-anchor="middle" font-size="4.6">0</text><text transform="translate(334.9 70.04) rotate(-90)" text-anchor="middle" font-size="4.6">40</text><text transform="translate(334.9 57.28) rotate(-90)" text-anchor="middle" font-size="4.6">80</text><text transform="translate(334.9 44.52) rotate(-90)" text-anchor="middle" font-size="4.6">120</text><text transform="translate(334.9 31.76) rotate(-90)" text-anchor="middle" font-size="4.6">160</text><text transform="translate(334.9 19) rotate(-90)" text-anchor="middle" font-size="4.6">200</text><text transform="translate(329.7 51.4) rotate(-90)" text-anchor="middle" font-size="5">Counts</text><text x="338" y="90.1" font-size="4.5" text-anchor="middle">10</text><text x="340.7" y="87.8" font-size="3.2">0</text><text x="356.9" y="90.1" font-size="4.5" text-anchor="middle">10</text><text x="359.6" y="87.8" font-size="3.2">1</text><text x="375.8" y="90.1" font-size="4.5" text-anchor="middle">10</text><text x="378.5" y="87.8" font-size="3.2">2</text><text x="394.7" y="90.1" font-size="4.5" text-anchor="middle">10</text><text x="397.4" y="87.8" font-size="3.2">3</text><text x="413.6" y="90.1" font-size="4.5" text-anchor="middle">10</text><text x="416.3" y="87.8" font-size="3.2">4</text><text x="376.14" y="95.4" font-size="4.4" text-anchor="middle">FL1-Height</text><path d="M439.6 82.3h-1.7M439.6 79.77h-1.1M439.6 77.24h-1.1M439.6 74.7h-1.1M439.6 72.17h-1.1M439.6 69.64h-1.7M439.6 67.11h-1.1M439.6 64.58h-1.1M439.6 62.04h-1.1M439.6 59.51h-1.1M439.6 56.98h-1.7M439.6 54.45h-1.1M439.6 51.92h-1.1M439.6 49.38h-1.1M439.6 46.85h-1.1M439.6 44.32h-1.7M439.6 41.79h-1.1M439.6 39.26h-1.1M439.6 36.72h-1.1M439.6 34.19h-1.1M439.6 31.66h-1.7M439.6 29.13h-1.1M439.6 26.6h-1.1M439.6 24.06h-1.1M439.6 21.53h-1.1M439.6 19h-1.7M439.6 82.3v1.3M445.3 82.3v0.8M448.64 82.3v0.8M451.01 82.3v0.8M452.85 82.3v0.8M454.35 82.3v0.8M455.61 82.3v0.8M456.71 82.3v0.8M457.68 82.3v0.8M458.55 82.3v1.3M464.25 82.3v0.8M467.59 82.3v0.8M469.96 82.3v0.8M471.8 82.3v0.8M473.3 82.3v0.8M474.56 82.3v0.8M475.66 82.3v0.8M476.63 82.3v0.8M477.5 82.3v1.3M483.2 82.3v0.8M486.54 82.3v0.8M488.91 82.3v0.8M490.75 82.3v0.8M492.25 82.3v0.8M493.51 82.3v0.8M494.61 82.3v0.8M495.58 82.3v0.8M496.45 82.3v1.3M502.15 82.3v0.8M505.49 82.3v0.8M507.86 82.3v0.8M509.7 82.3v0.8M511.2 82.3v0.8M512.46 82.3v0.8M513.56 82.3v0.8M514.53 82.3v0.8M515.4 82.3v1.3" stroke="#222" stroke-width="0.65" fill="none"/><text transform="translate(435.4 82.3) rotate(-90)" text-anchor="middle" font-size="4.6">0</text><text transform="translate(435.4 69.64) rotate(-90)" text-anchor="middle" font-size="4.6">40</text><text transform="translate(435.4 56.98) rotate(-90)" text-anchor="middle" font-size="4.6">80</text><text transform="translate(435.4 44.32) rotate(-90)" text-anchor="middle" font-size="4.6">120</text><text transform="translate(435.4 31.66) rotate(-90)" text-anchor="middle" font-size="4.6">160</text><text transform="translate(435.4 19) rotate(-90)" text-anchor="middle" font-size="4.6">200</text><text transform="translate(430.2 51.15) rotate(-90)" text-anchor="middle" font-size="5">Counts</text><text x="438.5" y="89.6" font-size="4.5" text-anchor="middle">10</text><text x="441.2" y="87.3" font-size="3.2">0</text><text x="457.45" y="89.6" font-size="4.5" text-anchor="middle">10</text><text x="460.15" y="87.3" font-size="3.2">1</text><text x="476.4" y="89.6" font-size="4.5" text-anchor="middle">10</text><text x="479.1" y="87.3" font-size="3.2">2</text><text x="495.35" y="89.6" font-size="4.5" text-anchor="middle">10</text><text x="498.05" y="87.3" font-size="3.2">3</text><text x="514.3" y="89.6" font-size="4.5" text-anchor="middle">10</text><text x="517" y="87.3" font-size="3.2">4</text><text x="476.74" y="94.9" font-size="4.4" text-anchor="middle">FL1-Height</text><path d="M50 168.5h-1.7M50 165.95h-1.1M50 163.4h-1.1M50 160.84h-1.1M50 158.29h-1.1M50 155.74h-1.7M50 153.19h-1.1M50 150.64h-1.1M50 148.08h-1.1M50 145.53h-1.1M50 142.98h-1.7M50 140.43h-1.1M50 137.88h-1.1M50 135.32h-1.1M50 132.77h-1.1M50 130.22h-1.7M50 127.67h-1.1M50 125.12h-1.1M50 122.56h-1.1M50 120.01h-1.1M50 117.46h-1.7M50 114.91h-1.1M50 112.36h-1.1M50 109.8h-1.1M50 107.25h-1.1M50 104.7h-1.7M50 168.5v1.3M55.7 168.5v0.8M59.03 168.5v0.8M61.39 168.5v0.8M63.23 168.5v0.8M64.73 168.5v0.8M65.99 168.5v0.8M67.09 168.5v0.8M68.06 168.5v0.8M68.92 168.5v1.3M74.62 168.5v0.8M77.95 168.5v0.8M80.32 168.5v0.8M82.15 168.5v0.8M83.65 168.5v0.8M84.92 168.5v0.8M86.02 168.5v0.8M86.98 168.5v0.8M87.85 168.5v1.3M93.55 168.5v0.8M96.88 168.5v0.8M99.24 168.5v0.8M101.08 168.5v0.8M102.58 168.5v0.8M103.84 168.5v0.8M104.94 168.5v0.8M105.91 168.5v0.8M106.78 168.5v1.3M112.47 168.5v0.8M115.8 168.5v0.8M118.17 168.5v0.8M120 168.5v0.8M121.5 168.5v0.8M122.77 168.5v0.8M123.87 168.5v0.8M124.83 168.5v0.8M125.7 168.5v1.3" stroke="#222" stroke-width="0.65" fill="none"/><text transform="translate(45.8 168.5) rotate(-90)" text-anchor="middle" font-size="4.6">0</text><text transform="translate(45.8 155.74) rotate(-90)" text-anchor="middle" font-size="4.6">40</text><text transform="translate(45.8 142.98) rotate(-90)" text-anchor="middle" font-size="4.6">80</text><text transform="translate(45.8 130.22) rotate(-90)" text-anchor="middle" font-size="4.6">120</text><text transform="translate(45.8 117.46) rotate(-90)" text-anchor="middle" font-size="4.6">160</text><text transform="translate(45.8 104.7) rotate(-90)" text-anchor="middle" font-size="4.6">200</text><text transform="translate(40.6 137.1) rotate(-90)" text-anchor="middle" font-size="5">Counts</text><text x="48.9" y="175.8" font-size="4.5" text-anchor="middle">10</text><text x="51.6" y="173.5" font-size="3.2">0</text><text x="67.83" y="175.8" font-size="4.5" text-anchor="middle">10</text><text x="70.52" y="173.5" font-size="3.2">1</text><text x="86.75" y="175.8" font-size="4.5" text-anchor="middle">10</text><text x="89.45" y="173.5" font-size="3.2">2</text><text x="105.68" y="175.8" font-size="4.5" text-anchor="middle">10</text><text x="108.38" y="173.5" font-size="3.2">3</text><text x="124.6" y="175.8" font-size="4.5" text-anchor="middle">10</text><text x="127.3" y="173.5" font-size="3.2">4</text><text x="87.09" y="181.1" font-size="4.4" text-anchor="middle">FL1-Height</text><path d="M146.9 168.2h-1.7M146.9 165.64h-1.1M146.9 163.09h-1.1M146.9 160.53h-1.1M146.9 157.98h-1.1M146.9 155.42h-1.7M146.9 152.86h-1.1M146.9 150.31h-1.1M146.9 147.75h-1.1M146.9 145.2h-1.1M146.9 142.64h-1.7M146.9 140.08h-1.1M146.9 137.53h-1.1M146.9 134.97h-1.1M146.9 132.42h-1.1M146.9 129.86h-1.7M146.9 127.3h-1.1M146.9 124.75h-1.1M146.9 122.19h-1.1M146.9 119.64h-1.1M146.9 117.08h-1.7M146.9 114.52h-1.1M146.9 111.97h-1.1M146.9 109.41h-1.1M146.9 106.86h-1.1M146.9 104.3h-1.7M146.9 168.2v1.3M152.56 168.2v0.8M155.87 168.2v0.8M158.22 168.2v0.8M160.04 168.2v0.8M161.53 168.2v0.8M162.79 168.2v0.8M163.88 168.2v0.8M164.84 168.2v0.8M165.7 168.2v1.3M171.36 168.2v0.8M174.67 168.2v0.8M177.02 168.2v0.8M178.84 168.2v0.8M180.33 168.2v0.8M181.59 168.2v0.8M182.68 168.2v0.8M183.64 168.2v0.8M184.5 168.2v1.3M190.16 168.2v0.8M193.47 168.2v0.8M195.82 168.2v0.8M197.64 168.2v0.8M199.13 168.2v0.8M200.39 168.2v0.8M201.48 168.2v0.8M202.44 168.2v0.8M203.3 168.2v1.3M208.96 168.2v0.8M212.27 168.2v0.8M214.62 168.2v0.8M216.44 168.2v0.8M217.93 168.2v0.8M219.19 168.2v0.8M220.28 168.2v0.8M221.24 168.2v0.8M222.1 168.2v1.3" stroke="#222" stroke-width="0.65" fill="none"/><text transform="translate(142.7 168.2) rotate(-90)" text-anchor="middle" font-size="4.6">0</text><text transform="translate(142.7 155.42) rotate(-90)" text-anchor="middle" font-size="4.6">40</text><text transform="translate(142.7 142.64) rotate(-90)" text-anchor="middle" font-size="4.6">80</text><text transform="translate(142.7 129.86) rotate(-90)" text-anchor="middle" font-size="4.6">120</text><text transform="translate(142.7 117.08) rotate(-90)" text-anchor="middle" font-size="4.6">160</text><text transform="translate(142.7 104.3) rotate(-90)" text-anchor="middle" font-size="4.6">200</text><text transform="translate(137.5 136.75) rotate(-90)" text-anchor="middle" font-size="5">Counts</text><text x="145.8" y="175.5" font-size="4.5" text-anchor="middle">10</text><text x="148.5" y="173.2" font-size="3.2">0</text><text x="164.6" y="175.5" font-size="4.5" text-anchor="middle">10</text><text x="167.3" y="173.2" font-size="3.2">1</text><text x="183.4" y="175.5" font-size="4.5" text-anchor="middle">10</text><text x="186.1" y="173.2" font-size="3.2">2</text><text x="202.2" y="175.5" font-size="4.5" text-anchor="middle">10</text><text x="204.9" y="173.2" font-size="3.2">3</text><text x="221" y="175.5" font-size="4.5" text-anchor="middle">10</text><text x="223.7" y="173.2" font-size="3.2">4</text><text x="183.75" y="180.8" font-size="4.4" text-anchor="middle">FL1-Height</text><path d="M243.1 168.2h-1.7M243.1 165.64h-1.1M243.1 163.09h-1.1M243.1 160.53h-1.1M243.1 157.98h-1.1M243.1 155.42h-1.7M243.1 152.86h-1.1M243.1 150.31h-1.1M243.1 147.75h-1.1M243.1 145.2h-1.1M243.1 142.64h-1.7M243.1 140.08h-1.1M243.1 137.53h-1.1M243.1 134.97h-1.1M243.1 132.42h-1.1M243.1 129.86h-1.7M243.1 127.3h-1.1M243.1 124.75h-1.1M243.1 122.19h-1.1M243.1 119.64h-1.1M243.1 117.08h-1.7M243.1 114.52h-1.1M243.1 111.97h-1.1M243.1 109.41h-1.1M243.1 106.86h-1.1M243.1 104.3h-1.7M243.1 168.2v1.3M248.77 168.2v0.8M252.08 168.2v0.8M254.43 168.2v0.8M256.26 168.2v0.8M257.75 168.2v0.8M259.01 168.2v0.8M260.1 168.2v0.8M261.06 168.2v0.8M261.93 168.2v1.3M267.59 168.2v0.8M270.91 168.2v0.8M273.26 168.2v0.8M275.08 168.2v0.8M276.57 168.2v0.8M277.83 168.2v0.8M278.93 168.2v0.8M279.89 168.2v0.8M280.75 168.2v1.3M286.42 168.2v0.8M289.73 168.2v0.8M292.08 168.2v0.8M293.91 168.2v0.8M295.4 168.2v0.8M296.66 168.2v0.8M297.75 168.2v0.8M298.71 168.2v0.8M299.57 168.2v1.3M305.24 168.2v0.8M308.56 168.2v0.8M310.91 168.2v0.8M312.73 168.2v0.8M314.22 168.2v0.8M315.48 168.2v0.8M316.58 168.2v0.8M317.54 168.2v0.8M318.4 168.2v1.3" stroke="#222" stroke-width="0.65" fill="none"/><text transform="translate(238.9 168.2) rotate(-90)" text-anchor="middle" font-size="4.6">0</text><text transform="translate(238.9 155.42) rotate(-90)" text-anchor="middle" font-size="4.6">40</text><text transform="translate(238.9 142.64) rotate(-90)" text-anchor="middle" font-size="4.6">80</text><text transform="translate(238.9 129.86) rotate(-90)" text-anchor="middle" font-size="4.6">120</text><text transform="translate(238.9 117.08) rotate(-90)" text-anchor="middle" font-size="4.6">160</text><text transform="translate(238.9 104.3) rotate(-90)" text-anchor="middle" font-size="4.6">200</text><text transform="translate(233.7 136.75) rotate(-90)" text-anchor="middle" font-size="5">Counts</text><text x="242" y="175.5" font-size="4.5" text-anchor="middle">10</text><text x="244.7" y="173.2" font-size="3.2">0</text><text x="260.82" y="175.5" font-size="4.5" text-anchor="middle">10</text><text x="263.53" y="173.2" font-size="3.2">1</text><text x="279.65" y="175.5" font-size="4.5" text-anchor="middle">10</text><text x="282.35" y="173.2" font-size="3.2">2</text><text x="298.47" y="175.5" font-size="4.5" text-anchor="middle">10</text><text x="301.18" y="173.2" font-size="3.2">3</text><text x="317.3" y="175.5" font-size="4.5" text-anchor="middle">10</text><text x="320" y="173.2" font-size="3.2">4</text><text x="280" y="180.8" font-size="4.4" text-anchor="middle">FL1-Height</text><path d="M339.6 168.2h-1.7M339.6 165.64h-1.1M339.6 163.07h-1.1M339.6 160.51h-1.1M339.6 157.94h-1.1M339.6 155.38h-1.7M339.6 152.82h-1.1M339.6 150.25h-1.1M339.6 147.69h-1.1M339.6 145.12h-1.1M339.6 142.56h-1.7M339.6 140h-1.1M339.6 137.43h-1.1M339.6 134.87h-1.1M339.6 132.3h-1.1M339.6 129.74h-1.7M339.6 127.18h-1.1M339.6 124.61h-1.1M339.6 122.05h-1.1M339.6 119.48h-1.1M339.6 116.92h-1.7M339.6 114.36h-1.1M339.6 111.79h-1.1M339.6 109.23h-1.1M339.6 106.66h-1.1M339.6 104.1h-1.7M339.6 168.2v1.3M345.27 168.2v0.8M348.58 168.2v0.8M350.93 168.2v0.8M352.76 168.2v0.8M354.25 168.2v0.8M355.51 168.2v0.8M356.6 168.2v0.8M357.56 168.2v0.8M358.43 168.2v1.3M364.09 168.2v0.8M367.41 168.2v0.8M369.76 168.2v0.8M371.58 168.2v0.8M373.07 168.2v0.8M374.33 168.2v0.8M375.43 168.2v0.8M376.39 168.2v0.8M377.25 168.2v1.3M382.92 168.2v0.8M386.23 168.2v0.8M388.58 168.2v0.8M390.41 168.2v0.8M391.9 168.2v0.8M393.16 168.2v0.8M394.25 168.2v0.8M395.21 168.2v0.8M396.07 168.2v1.3M401.74 168.2v0.8M405.06 168.2v0.8M407.41 168.2v0.8M409.23 168.2v0.8M410.72 168.2v0.8M411.98 168.2v0.8M413.08 168.2v0.8M414.04 168.2v0.8M414.9 168.2v1.3" stroke="#222" stroke-width="0.65" fill="none"/><text transform="translate(335.4 168.2) rotate(-90)" text-anchor="middle" font-size="4.6">0</text><text transform="translate(335.4 155.38) rotate(-90)" text-anchor="middle" font-size="4.6">40</text><text transform="translate(335.4 142.56) rotate(-90)" text-anchor="middle" font-size="4.6">80</text><text transform="translate(335.4 129.74) rotate(-90)" text-anchor="middle" font-size="4.6">120</text><text transform="translate(335.4 116.92) rotate(-90)" text-anchor="middle" font-size="4.6">160</text><text transform="translate(335.4 104.1) rotate(-90)" text-anchor="middle" font-size="4.6">200</text><text transform="translate(330.2 136.65) rotate(-90)" text-anchor="middle" font-size="5">Counts</text><text x="338.5" y="175.5" font-size="4.5" text-anchor="middle">10</text><text x="341.2" y="173.2" font-size="3.2">0</text><text x="357.32" y="175.5" font-size="4.5" text-anchor="middle">10</text><text x="360.03" y="173.2" font-size="3.2">1</text><text x="376.15" y="175.5" font-size="4.5" text-anchor="middle">10</text><text x="378.85" y="173.2" font-size="3.2">2</text><text x="394.97" y="175.5" font-size="4.5" text-anchor="middle">10</text><text x="397.68" y="173.2" font-size="3.2">3</text><text x="413.8" y="175.5" font-size="4.5" text-anchor="middle">10</text><text x="416.5" y="173.2" font-size="3.2">4</text><text x="376.5" y="180.8" font-size="4.4" text-anchor="middle">FL1-Height</text><path d="M439.5 168h-1.7M439.5 165.44h-1.1M439.5 162.89h-1.1M439.5 160.33h-1.1M439.5 157.78h-1.1M439.5 155.22h-1.7M439.5 152.66h-1.1M439.5 150.11h-1.1M439.5 147.55h-1.1M439.5 145h-1.1M439.5 142.44h-1.7M439.5 139.88h-1.1M439.5 137.33h-1.1M439.5 134.77h-1.1M439.5 132.22h-1.1M439.5 129.66h-1.7M439.5 127.1h-1.1M439.5 124.55h-1.1M439.5 121.99h-1.1M439.5 119.44h-1.1M439.5 116.88h-1.7M439.5 114.32h-1.1M439.5 111.77h-1.1M439.5 109.21h-1.1M439.5 106.66h-1.1M439.5 104.1h-1.7M439.5 168v1.3M445.21 168v0.8M448.55 168v0.8M450.92 168v0.8M452.76 168v0.8M454.27 168v0.8M455.54 168v0.8M456.64 168v0.8M457.61 168v0.8M458.48 168v1.3M464.19 168v0.8M467.53 168v0.8M469.9 168v0.8M471.74 168v0.8M473.24 168v0.8M474.51 168v0.8M475.61 168v0.8M476.58 168v0.8M477.45 168v1.3M483.16 168v0.8M486.5 168v0.8M488.87 168v0.8M490.71 168v0.8M492.22 168v0.8M493.49 168v0.8M494.59 168v0.8M495.56 168v0.8M496.42 168v1.3M502.14 168v0.8M505.48 168v0.8M507.85 168v0.8M509.69 168v0.8M511.19 168v0.8M512.46 168v0.8M513.56 168v0.8M514.53 168v0.8M515.4 168v1.3" stroke="#222" stroke-width="0.65" fill="none"/><text transform="translate(435.3 168) rotate(-90)" text-anchor="middle" font-size="4.6">0</text><text transform="translate(435.3 155.22) rotate(-90)" text-anchor="middle" font-size="4.6">40</text><text transform="translate(435.3 142.44) rotate(-90)" text-anchor="middle" font-size="4.6">80</text><text transform="translate(435.3 129.66) rotate(-90)" text-anchor="middle" font-size="4.6">120</text><text transform="translate(435.3 116.88) rotate(-90)" text-anchor="middle" font-size="4.6">160</text><text transform="translate(435.3 104.1) rotate(-90)" text-anchor="middle" font-size="4.6">200</text><text transform="translate(430.1 136.55) rotate(-90)" text-anchor="middle" font-size="5">Counts</text><text x="438.4" y="175.3" font-size="4.5" text-anchor="middle">10</text><text x="441.1" y="173" font-size="3.2">0</text><text x="457.38" y="175.3" font-size="4.5" text-anchor="middle">10</text><text x="460.08" y="173" font-size="3.2">1</text><text x="476.35" y="175.3" font-size="4.5" text-anchor="middle">10</text><text x="479.05" y="173" font-size="3.2">2</text><text x="495.32" y="175.3" font-size="4.5" text-anchor="middle">10</text><text x="498.02" y="173" font-size="3.2">3</text><text x="514.3" y="175.3" font-size="4.5" text-anchor="middle">10</text><text x="517" y="173" font-size="3.2">4</text><text x="476.69" y="180.6" font-size="4.4" text-anchor="middle">FL1-Height</text><path d="M50.4 253.5h-1.7M50.4 250.95h-1.1M50.4 248.4h-1.1M50.4 245.84h-1.1M50.4 243.29h-1.1M50.4 240.74h-1.7M50.4 238.19h-1.1M50.4 235.64h-1.1M50.4 233.08h-1.1M50.4 230.53h-1.1M50.4 227.98h-1.7M50.4 225.43h-1.1M50.4 222.88h-1.1M50.4 220.32h-1.1M50.4 217.77h-1.1M50.4 215.22h-1.7M50.4 212.67h-1.1M50.4 210.12h-1.1M50.4 207.56h-1.1M50.4 205.01h-1.1M50.4 202.46h-1.7M50.4 199.91h-1.1M50.4 197.36h-1.1M50.4 194.8h-1.1M50.4 192.25h-1.1M50.4 189.7h-1.7M50.4 253.5v1.3M56.09 253.5v0.8M59.42 253.5v0.8M61.78 253.5v0.8M63.61 253.5v0.8M65.11 253.5v0.8M66.37 253.5v0.8M67.47 253.5v0.8M68.44 253.5v0.8M69.3 253.5v1.3M74.99 253.5v0.8M78.32 253.5v0.8M80.68 253.5v0.8M82.51 253.5v0.8M84.01 253.5v0.8M85.27 253.5v0.8M86.37 253.5v0.8M87.34 253.5v0.8M88.2 253.5v1.3M93.89 253.5v0.8M97.22 253.5v0.8M99.58 253.5v0.8M101.41 253.5v0.8M102.91 253.5v0.8M104.17 253.5v0.8M105.27 253.5v0.8M106.24 253.5v0.8M107.1 253.5v1.3M112.79 253.5v0.8M116.12 253.5v0.8M118.48 253.5v0.8M120.31 253.5v0.8M121.81 253.5v0.8M123.07 253.5v0.8M124.17 253.5v0.8M125.14 253.5v0.8M126 253.5v1.3" stroke="#222" stroke-width="0.65" fill="none"/><text transform="translate(46.2 253.5) rotate(-90)" text-anchor="middle" font-size="4.6">0</text><text transform="translate(46.2 240.74) rotate(-90)" text-anchor="middle" font-size="4.6">40</text><text transform="translate(46.2 227.98) rotate(-90)" text-anchor="middle" font-size="4.6">80</text><text transform="translate(46.2 215.22) rotate(-90)" text-anchor="middle" font-size="4.6">120</text><text transform="translate(46.2 202.46) rotate(-90)" text-anchor="middle" font-size="4.6">160</text><text transform="translate(46.2 189.7) rotate(-90)" text-anchor="middle" font-size="4.6">200</text><text transform="translate(41 222.1) rotate(-90)" text-anchor="middle" font-size="5">Counts</text><text x="49.3" y="260.8" font-size="4.5" text-anchor="middle">10</text><text x="52" y="258.5" font-size="3.2">0</text><text x="68.2" y="260.8" font-size="4.5" text-anchor="middle">10</text><text x="70.9" y="258.5" font-size="3.2">1</text><text x="87.1" y="260.8" font-size="4.5" text-anchor="middle">10</text><text x="89.8" y="258.5" font-size="3.2">2</text><text x="106" y="260.8" font-size="4.5" text-anchor="middle">10</text><text x="108.7" y="258.5" font-size="3.2">3</text><text x="124.9" y="260.8" font-size="4.5" text-anchor="middle">10</text><text x="127.6" y="258.5" font-size="3.2">4</text><text x="87.44" y="266.1" font-size="4.4" text-anchor="middle">FL1-Height</text><path d="M147.2 253.1h-1.7M147.2 250.55h-1.1M147.2 248h-1.1M147.2 245.44h-1.1M147.2 242.89h-1.1M147.2 240.34h-1.7M147.2 237.79h-1.1M147.2 235.24h-1.1M147.2 232.68h-1.1M147.2 230.13h-1.1M147.2 227.58h-1.7M147.2 225.03h-1.1M147.2 222.48h-1.1M147.2 219.92h-1.1M147.2 217.37h-1.1M147.2 214.82h-1.7M147.2 212.27h-1.1M147.2 209.72h-1.1M147.2 207.16h-1.1M147.2 204.61h-1.1M147.2 202.06h-1.7M147.2 199.51h-1.1M147.2 196.96h-1.1M147.2 194.4h-1.1M147.2 191.85h-1.1M147.2 189.3h-1.7M147.2 253.1v1.3M152.86 253.1v0.8M156.17 253.1v0.8M158.52 253.1v0.8M160.34 253.1v0.8M161.83 253.1v0.8M163.09 253.1v0.8M164.18 253.1v0.8M165.14 253.1v0.8M166 253.1v1.3M171.66 253.1v0.8M174.97 253.1v0.8M177.32 253.1v0.8M179.14 253.1v0.8M180.63 253.1v0.8M181.89 253.1v0.8M182.98 253.1v0.8M183.94 253.1v0.8M184.8 253.1v1.3M190.46 253.1v0.8M193.77 253.1v0.8M196.12 253.1v0.8M197.94 253.1v0.8M199.43 253.1v0.8M200.69 253.1v0.8M201.78 253.1v0.8M202.74 253.1v0.8M203.6 253.1v1.3M209.26 253.1v0.8M212.57 253.1v0.8M214.92 253.1v0.8M216.74 253.1v0.8M218.23 253.1v0.8M219.49 253.1v0.8M220.58 253.1v0.8M221.54 253.1v0.8M222.4 253.1v1.3" stroke="#222" stroke-width="0.65" fill="none"/><text transform="translate(143 253.1) rotate(-90)" text-anchor="middle" font-size="4.6">0</text><text transform="translate(143 240.34) rotate(-90)" text-anchor="middle" font-size="4.6">40</text><text transform="translate(143 227.58) rotate(-90)" text-anchor="middle" font-size="4.6">80</text><text transform="translate(143 214.82) rotate(-90)" text-anchor="middle" font-size="4.6">120</text><text transform="translate(143 202.06) rotate(-90)" text-anchor="middle" font-size="4.6">160</text><text transform="translate(143 189.3) rotate(-90)" text-anchor="middle" font-size="4.6">200</text><text transform="translate(137.8 221.7) rotate(-90)" text-anchor="middle" font-size="5">Counts</text><text x="146.1" y="260.4" font-size="4.5" text-anchor="middle">10</text><text x="148.8" y="258.1" font-size="3.2">0</text><text x="164.9" y="260.4" font-size="4.5" text-anchor="middle">10</text><text x="167.6" y="258.1" font-size="3.2">1</text><text x="183.7" y="260.4" font-size="4.5" text-anchor="middle">10</text><text x="186.4" y="258.1" font-size="3.2">2</text><text x="202.5" y="260.4" font-size="4.5" text-anchor="middle">10</text><text x="205.2" y="258.1" font-size="3.2">3</text><text x="221.3" y="260.4" font-size="4.5" text-anchor="middle">10</text><text x="224" y="258.1" font-size="3.2">4</text><text x="184.05" y="265.7" font-size="4.4" text-anchor="middle">FL1-Height</text><path d="M243.5 253.1h-1.7M243.5 250.56h-1.1M243.5 248.01h-1.1M243.5 245.47h-1.1M243.5 242.92h-1.1M243.5 240.38h-1.7M243.5 237.84h-1.1M243.5 235.29h-1.1M243.5 232.75h-1.1M243.5 230.2h-1.1M243.5 227.66h-1.7M243.5 225.12h-1.1M243.5 222.57h-1.1M243.5 220.03h-1.1M243.5 217.48h-1.1M243.5 214.94h-1.7M243.5 212.4h-1.1M243.5 209.85h-1.1M243.5 207.31h-1.1M243.5 204.76h-1.1M243.5 202.22h-1.7M243.5 199.68h-1.1M243.5 197.13h-1.1M243.5 194.59h-1.1M243.5 192.04h-1.1M243.5 189.5h-1.7M243.5 253.1v1.3M249.17 253.1v0.8M252.49 253.1v0.8M254.85 253.1v0.8M256.68 253.1v0.8M258.17 253.1v0.8M259.43 253.1v0.8M260.52 253.1v0.8M261.49 253.1v0.8M262.35 253.1v1.3M268.02 253.1v0.8M271.34 253.1v0.8M273.7 253.1v0.8M275.53 253.1v0.8M277.02 253.1v0.8M278.28 253.1v0.8M279.37 253.1v0.8M280.34 253.1v0.8M281.2 253.1v1.3M286.87 253.1v0.8M290.19 253.1v0.8M292.55 253.1v0.8M294.38 253.1v0.8M295.87 253.1v0.8M297.13 253.1v0.8M298.22 253.1v0.8M299.19 253.1v0.8M300.05 253.1v1.3M305.72 253.1v0.8M309.04 253.1v0.8M311.4 253.1v0.8M313.23 253.1v0.8M314.72 253.1v0.8M315.98 253.1v0.8M317.07 253.1v0.8M318.04 253.1v0.8M318.9 253.1v1.3" stroke="#222" stroke-width="0.65" fill="none"/><text transform="translate(239.3 253.1) rotate(-90)" text-anchor="middle" font-size="4.6">0</text><text transform="translate(239.3 240.38) rotate(-90)" text-anchor="middle" font-size="4.6">40</text><text transform="translate(239.3 227.66) rotate(-90)" text-anchor="middle" font-size="4.6">80</text><text transform="translate(239.3 214.94) rotate(-90)" text-anchor="middle" font-size="4.6">120</text><text transform="translate(239.3 202.22) rotate(-90)" text-anchor="middle" font-size="4.6">160</text><text transform="translate(239.3 189.5) rotate(-90)" text-anchor="middle" font-size="4.6">200</text><text transform="translate(234.1 221.8) rotate(-90)" text-anchor="middle" font-size="5">Counts</text><text x="242.4" y="260.4" font-size="4.5" text-anchor="middle">10</text><text x="245.1" y="258.1" font-size="3.2">0</text><text x="261.25" y="260.4" font-size="4.5" text-anchor="middle">10</text><text x="263.95" y="258.1" font-size="3.2">1</text><text x="280.1" y="260.4" font-size="4.5" text-anchor="middle">10</text><text x="282.8" y="258.1" font-size="3.2">2</text><text x="298.95" y="260.4" font-size="4.5" text-anchor="middle">10</text><text x="301.65" y="258.1" font-size="3.2">3</text><text x="317.8" y="260.4" font-size="4.5" text-anchor="middle">10</text><text x="320.5" y="258.1" font-size="3.2">4</text><text x="280.45" y="265.7" font-size="4.4" text-anchor="middle">FL1-Height</text><path d="M339.9 253.1h-1.7M339.9 250.55h-1.1M339.9 248h-1.1M339.9 245.46h-1.1M339.9 242.91h-1.1M339.9 240.36h-1.7M339.9 237.81h-1.1M339.9 235.26h-1.1M339.9 232.72h-1.1M339.9 230.17h-1.1M339.9 227.62h-1.7M339.9 225.07h-1.1M339.9 222.52h-1.1M339.9 219.98h-1.1M339.9 217.43h-1.1M339.9 214.88h-1.7M339.9 212.33h-1.1M339.9 209.78h-1.1M339.9 207.24h-1.1M339.9 204.69h-1.1M339.9 202.14h-1.7M339.9 199.59h-1.1M339.9 197.04h-1.1M339.9 194.5h-1.1M339.9 191.95h-1.1M339.9 189.4h-1.7M339.9 253.1v1.3M345.57 253.1v0.8M348.89 253.1v0.8M351.25 253.1v0.8M353.08 253.1v0.8M354.57 253.1v0.8M355.83 253.1v0.8M356.92 253.1v0.8M357.89 253.1v0.8M358.75 253.1v1.3M364.42 253.1v0.8M367.74 253.1v0.8M370.1 253.1v0.8M371.93 253.1v0.8M373.42 253.1v0.8M374.68 253.1v0.8M375.77 253.1v0.8M376.74 253.1v0.8M377.6 253.1v1.3M383.27 253.1v0.8M386.59 253.1v0.8M388.95 253.1v0.8M390.78 253.1v0.8M392.27 253.1v0.8M393.53 253.1v0.8M394.62 253.1v0.8M395.59 253.1v0.8M396.45 253.1v1.3M402.12 253.1v0.8M405.44 253.1v0.8M407.8 253.1v0.8M409.63 253.1v0.8M411.12 253.1v0.8M412.38 253.1v0.8M413.47 253.1v0.8M414.44 253.1v0.8M415.3 253.1v1.3" stroke="#222" stroke-width="0.65" fill="none"/><text transform="translate(335.7 253.1) rotate(-90)" text-anchor="middle" font-size="4.6">0</text><text transform="translate(335.7 240.36) rotate(-90)" text-anchor="middle" font-size="4.6">40</text><text transform="translate(335.7 227.62) rotate(-90)" text-anchor="middle" font-size="4.6">80</text><text transform="translate(335.7 214.88) rotate(-90)" text-anchor="middle" font-size="4.6">120</text><text transform="translate(335.7 202.14) rotate(-90)" text-anchor="middle" font-size="4.6">160</text><text transform="translate(335.7 189.4) rotate(-90)" text-anchor="middle" font-size="4.6">200</text><text transform="translate(330.5 221.75) rotate(-90)" text-anchor="middle" font-size="5">Counts</text><text x="338.8" y="260.4" font-size="4.5" text-anchor="middle">10</text><text x="341.5" y="258.1" font-size="3.2">0</text><text x="357.65" y="260.4" font-size="4.5" text-anchor="middle">10</text><text x="360.35" y="258.1" font-size="3.2">1</text><text x="376.5" y="260.4" font-size="4.5" text-anchor="middle">10</text><text x="379.2" y="258.1" font-size="3.2">2</text><text x="395.35" y="260.4" font-size="4.5" text-anchor="middle">10</text><text x="398.05" y="258.1" font-size="3.2">3</text><text x="414.2" y="260.4" font-size="4.5" text-anchor="middle">10</text><text x="416.9" y="258.1" font-size="3.2">4</text><text x="376.85" y="265.7" font-size="4.4" text-anchor="middle">FL1-Height</text><path d="M439.9 253.1h-1.7M439.9 250.55h-1.1M439.9 248h-1.1M439.9 245.46h-1.1M439.9 242.91h-1.1M439.9 240.36h-1.7M439.9 237.81h-1.1M439.9 235.26h-1.1M439.9 232.72h-1.1M439.9 230.17h-1.1M439.9 227.62h-1.7M439.9 225.07h-1.1M439.9 222.52h-1.1M439.9 219.98h-1.1M439.9 217.43h-1.1M439.9 214.88h-1.7M439.9 212.33h-1.1M439.9 209.78h-1.1M439.9 207.24h-1.1M439.9 204.69h-1.1M439.9 202.14h-1.7M439.9 199.59h-1.1M439.9 197.04h-1.1M439.9 194.5h-1.1M439.9 191.95h-1.1M439.9 189.4h-1.7M439.9 253.1v1.3M445.61 253.1v0.8M448.95 253.1v0.8M451.32 253.1v0.8M453.16 253.1v0.8M454.67 253.1v0.8M455.94 253.1v0.8M457.04 253.1v0.8M458.01 253.1v0.8M458.88 253.1v1.3M464.59 253.1v0.8M467.93 253.1v0.8M470.3 253.1v0.8M472.14 253.1v0.8M473.64 253.1v0.8M474.91 253.1v0.8M476.01 253.1v0.8M476.98 253.1v0.8M477.85 253.1v1.3M483.56 253.1v0.8M486.9 253.1v0.8M489.27 253.1v0.8M491.11 253.1v0.8M492.62 253.1v0.8M493.89 253.1v0.8M494.99 253.1v0.8M495.96 253.1v0.8M496.82 253.1v1.3M502.54 253.1v0.8M505.88 253.1v0.8M508.25 253.1v0.8M510.09 253.1v0.8M511.59 253.1v0.8M512.86 253.1v0.8M513.96 253.1v0.8M514.93 253.1v0.8M515.8 253.1v1.3" stroke="#222" stroke-width="0.65" fill="none"/><text transform="translate(435.7 253.1) rotate(-90)" text-anchor="middle" font-size="4.6">0</text><text transform="translate(435.7 240.36) rotate(-90)" text-anchor="middle" font-size="4.6">40</text><text transform="translate(435.7 227.62) rotate(-90)" text-anchor="middle" font-size="4.6">80</text><text transform="translate(435.7 214.88) rotate(-90)" text-anchor="middle" font-size="4.6">120</text><text transform="translate(435.7 202.14) rotate(-90)" text-anchor="middle" font-size="4.6">160</text><text transform="translate(435.7 189.4) rotate(-90)" text-anchor="middle" font-size="4.6">200</text><text transform="translate(430.5 221.75) rotate(-90)" text-anchor="middle" font-size="5">Counts</text><text x="438.8" y="260.4" font-size="4.5" text-anchor="middle">10</text><text x="441.5" y="258.1" font-size="3.2">0</text><text x="457.77" y="260.4" font-size="4.5" text-anchor="middle">10</text><text x="460.48" y="258.1" font-size="3.2">1</text><text x="476.75" y="260.4" font-size="4.5" text-anchor="middle">10</text><text x="479.45" y="258.1" font-size="3.2">2</text><text x="495.72" y="260.4" font-size="4.5" text-anchor="middle">10</text><text x="498.42" y="258.1" font-size="3.2">3</text><text x="514.7" y="260.4" font-size="4.5" text-anchor="middle">10</text><text x="517.4" y="258.1" font-size="3.2">4</text><text x="477.09" y="265.7" font-size="4.4" text-anchor="middle">FL1-Height</text><path d="M61.9 345.9h-1.7M61.9 343.42h-1.1M61.9 340.94h-1.1M61.9 338.46h-1.1M61.9 335.98h-1.1M61.9 333.5h-1.7M61.9 331.02h-1.1M61.9 328.54h-1.1M61.9 326.06h-1.1M61.9 323.58h-1.1M61.9 321.1h-1.7M61.9 318.62h-1.1M61.9 316.14h-1.1M61.9 313.66h-1.1M61.9 311.18h-1.1M61.9 308.7h-1.7M61.9 306.22h-1.1M61.9 303.74h-1.1M61.9 301.26h-1.1M61.9 298.78h-1.1M61.9 296.3h-1.7M61.9 293.82h-1.1M61.9 291.34h-1.1M61.9 288.86h-1.1M61.9 286.38h-1.1M61.9 283.9h-1.7M61.9 345.9v1.3M67.39 345.9v0.8M70.6 345.9v0.8M72.87 345.9v0.8M74.64 345.9v0.8M76.08 345.9v0.8M77.3 345.9v0.8M78.36 345.9v0.8M79.29 345.9v0.8M80.12 345.9v1.3M85.61 345.9v0.8M88.82 345.9v0.8M91.1 345.9v0.8M92.86 345.9v0.8M94.31 345.9v0.8M95.53 345.9v0.8M96.58 345.9v0.8M97.52 345.9v0.8M98.35 345.9v1.3M103.84 345.9v0.8M107.05 345.9v0.8M109.32 345.9v0.8M111.09 345.9v0.8M112.53 345.9v0.8M113.75 345.9v0.8M114.81 345.9v0.8M115.74 345.9v0.8M116.58 345.9v1.3M122.06 345.9v0.8M125.27 345.9v0.8M127.55 345.9v0.8M129.31 345.9v0.8M130.76 345.9v0.8M131.98 345.9v0.8M133.03 345.9v0.8M133.97 345.9v0.8M134.8 345.9v1.3" stroke="#222" stroke-width="0.65" fill="none"/><text transform="translate(57.7 345.9) rotate(-90)" text-anchor="middle" font-size="4.6">0</text><text transform="translate(57.7 333.5) rotate(-90)" text-anchor="middle" font-size="4.6">40</text><text transform="translate(57.7 321.1) rotate(-90)" text-anchor="middle" font-size="4.6">80</text><text transform="translate(57.7 308.7) rotate(-90)" text-anchor="middle" font-size="4.6">120</text><text transform="translate(57.7 296.3) rotate(-90)" text-anchor="middle" font-size="4.6">160</text><text transform="translate(57.7 283.9) rotate(-90)" text-anchor="middle" font-size="4.6">200</text><text transform="translate(52.5 315.4) rotate(-90)" text-anchor="middle" font-size="5">Counts</text><text x="60.8" y="353.2" font-size="4.5" text-anchor="middle">10</text><text x="63.5" y="350.9" font-size="3.2">0</text><text x="79.03" y="353.2" font-size="4.5" text-anchor="middle">10</text><text x="81.72" y="350.9" font-size="3.2">1</text><text x="97.25" y="353.2" font-size="4.5" text-anchor="middle">10</text><text x="99.95" y="350.9" font-size="3.2">2</text><text x="115.48" y="353.2" font-size="4.5" text-anchor="middle">10</text><text x="118.17" y="350.9" font-size="3.2">3</text><text x="133.7" y="353.2" font-size="4.5" text-anchor="middle">10</text><text x="136.4" y="350.9" font-size="3.2">4</text><text x="97.62" y="358.5" font-size="4.4" text-anchor="middle">FL1-Height</text><path d="M155.4 345.8h-1.7M155.4 343.33h-1.1M155.4 340.86h-1.1M155.4 338.4h-1.1M155.4 335.93h-1.1M155.4 333.46h-1.7M155.4 330.99h-1.1M155.4 328.52h-1.1M155.4 326.06h-1.1M155.4 323.59h-1.1M155.4 321.12h-1.7M155.4 318.65h-1.1M155.4 316.18h-1.1M155.4 313.72h-1.1M155.4 311.25h-1.1M155.4 308.78h-1.7M155.4 306.31h-1.1M155.4 303.84h-1.1M155.4 301.38h-1.1M155.4 298.91h-1.1M155.4 296.44h-1.7M155.4 293.97h-1.1M155.4 291.5h-1.1M155.4 289.04h-1.1M155.4 286.57h-1.1M155.4 284.1h-1.7M155.4 345.8v1.3M160.87 345.8v0.8M164.07 345.8v0.8M166.34 345.8v0.8M168.1 345.8v0.8M169.54 345.8v0.8M170.76 345.8v0.8M171.81 345.8v0.8M172.74 345.8v0.8M173.57 345.8v1.3M179.05 345.8v0.8M182.25 345.8v0.8M184.52 345.8v0.8M186.28 345.8v0.8M187.72 345.8v0.8M188.93 345.8v0.8M189.99 345.8v0.8M190.92 345.8v0.8M191.75 345.8v1.3M197.22 345.8v0.8M200.42 345.8v0.8M202.69 345.8v0.8M204.45 345.8v0.8M205.89 345.8v0.8M207.11 345.8v0.8M208.16 345.8v0.8M209.09 345.8v0.8M209.93 345.8v1.3M215.4 345.8v0.8M218.6 345.8v0.8M220.87 345.8v0.8M222.63 345.8v0.8M224.07 345.8v0.8M225.28 345.8v0.8M226.34 345.8v0.8M227.27 345.8v0.8M228.1 345.8v1.3" stroke="#222" stroke-width="0.65" fill="none"/><text transform="translate(151.2 345.8) rotate(-90)" text-anchor="middle" font-size="4.6">0</text><text transform="translate(151.2 333.46) rotate(-90)" text-anchor="middle" font-size="4.6">40</text><text transform="translate(151.2 321.12) rotate(-90)" text-anchor="middle" font-size="4.6">80</text><text transform="translate(151.2 308.78) rotate(-90)" text-anchor="middle" font-size="4.6">120</text><text transform="translate(151.2 296.44) rotate(-90)" text-anchor="middle" font-size="4.6">160</text><text transform="translate(151.2 284.1) rotate(-90)" text-anchor="middle" font-size="4.6">200</text><text transform="translate(146 315.45) rotate(-90)" text-anchor="middle" font-size="5">Counts</text><text x="154.3" y="353.1" font-size="4.5" text-anchor="middle">10</text><text x="157" y="350.8" font-size="3.2">0</text><text x="172.47" y="353.1" font-size="4.5" text-anchor="middle">10</text><text x="175.17" y="350.8" font-size="3.2">1</text><text x="190.65" y="353.1" font-size="4.5" text-anchor="middle">10</text><text x="193.35" y="350.8" font-size="3.2">2</text><text x="208.83" y="353.1" font-size="4.5" text-anchor="middle">10</text><text x="211.53" y="350.8" font-size="3.2">3</text><text x="227" y="353.1" font-size="4.5" text-anchor="middle">10</text><text x="229.7" y="350.8" font-size="3.2">4</text><text x="191.02" y="358.4" font-size="4.4" text-anchor="middle">FL1-Height</text><path d="M249.1 345.8h-1.7M249.1 343.32h-1.1M249.1 340.84h-1.1M249.1 338.36h-1.1M249.1 335.88h-1.1M249.1 333.4h-1.7M249.1 330.92h-1.1M249.1 328.44h-1.1M249.1 325.96h-1.1M249.1 323.48h-1.1M249.1 321h-1.7M249.1 318.52h-1.1M249.1 316.04h-1.1M249.1 313.56h-1.1M249.1 311.08h-1.1M249.1 308.6h-1.7M249.1 306.12h-1.1M249.1 303.64h-1.1M249.1 301.16h-1.1M249.1 298.68h-1.1M249.1 296.2h-1.7M249.1 293.72h-1.1M249.1 291.24h-1.1M249.1 288.76h-1.1M249.1 286.28h-1.1M249.1 283.8h-1.7M249.1 345.8v1.3M254.56 345.8v0.8M257.75 345.8v0.8M260.01 345.8v0.8M261.77 345.8v0.8M263.2 345.8v0.8M264.42 345.8v0.8M265.47 345.8v0.8M266.4 345.8v0.8M267.23 345.8v1.3M272.68 345.8v0.8M275.87 345.8v0.8M278.14 345.8v0.8M279.89 345.8v0.8M281.33 345.8v0.8M282.54 345.8v0.8M283.59 345.8v0.8M284.52 345.8v0.8M285.35 345.8v1.3M290.81 345.8v0.8M294 345.8v0.8M296.26 345.8v0.8M298.02 345.8v0.8M299.45 345.8v0.8M300.67 345.8v0.8M301.72 345.8v0.8M302.65 345.8v0.8M303.48 345.8v1.3M308.93 345.8v0.8M312.12 345.8v0.8M314.39 345.8v0.8M316.14 345.8v0.8M317.58 345.8v0.8M318.79 345.8v0.8M319.84 345.8v0.8M320.77 345.8v0.8M321.6 345.8v1.3" stroke="#222" stroke-width="0.65" fill="none"/><text transform="translate(244.9 345.8) rotate(-90)" text-anchor="middle" font-size="4.6">0</text><text transform="translate(244.9 333.4) rotate(-90)" text-anchor="middle" font-size="4.6">40</text><text transform="translate(244.9 321) rotate(-90)" text-anchor="middle" font-size="4.6">80</text><text transform="translate(244.9 308.6) rotate(-90)" text-anchor="middle" font-size="4.6">120</text><text transform="translate(244.9 296.2) rotate(-90)" text-anchor="middle" font-size="4.6">160</text><text transform="translate(244.9 283.8) rotate(-90)" text-anchor="middle" font-size="4.6">200</text><text transform="translate(239.7 315.3) rotate(-90)" text-anchor="middle" font-size="5">Counts</text><text x="248" y="353.1" font-size="4.5" text-anchor="middle">10</text><text x="250.7" y="350.8" font-size="3.2">0</text><text x="266.12" y="353.1" font-size="4.5" text-anchor="middle">10</text><text x="268.83" y="350.8" font-size="3.2">1</text><text x="284.25" y="353.1" font-size="4.5" text-anchor="middle">10</text><text x="286.95" y="350.8" font-size="3.2">2</text><text x="302.38" y="353.1" font-size="4.5" text-anchor="middle">10</text><text x="305.08" y="350.8" font-size="3.2">3</text><text x="320.5" y="353.1" font-size="4.5" text-anchor="middle">10</text><text x="323.2" y="350.8" font-size="3.2">4</text><text x="284.62" y="358.4" font-size="4.4" text-anchor="middle">FL1-Height</text><path d="M342.4 345.8h-1.7M342.4 343.32h-1.1M342.4 340.84h-1.1M342.4 338.36h-1.1M342.4 335.88h-1.1M342.4 333.4h-1.7M342.4 330.92h-1.1M342.4 328.44h-1.1M342.4 325.96h-1.1M342.4 323.48h-1.1M342.4 321h-1.7M342.4 318.52h-1.1M342.4 316.04h-1.1M342.4 313.56h-1.1M342.4 311.08h-1.1M342.4 308.6h-1.7M342.4 306.12h-1.1M342.4 303.64h-1.1M342.4 301.16h-1.1M342.4 298.68h-1.1M342.4 296.2h-1.7M342.4 293.72h-1.1M342.4 291.24h-1.1M342.4 288.76h-1.1M342.4 286.28h-1.1M342.4 283.8h-1.7M342.4 345.8v1.3M347.89 345.8v0.8M351.1 345.8v0.8M353.37 345.8v0.8M355.14 345.8v0.8M356.58 345.8v0.8M357.8 345.8v0.8M358.86 345.8v0.8M359.79 345.8v0.8M360.62 345.8v1.3M366.11 345.8v0.8M369.32 345.8v0.8M371.6 345.8v0.8M373.36 345.8v0.8M374.81 345.8v0.8M376.03 345.8v0.8M377.08 345.8v0.8M378.02 345.8v0.8M378.85 345.8v1.3M384.34 345.8v0.8M387.55 345.8v0.8M389.82 345.8v0.8M391.59 345.8v0.8M393.03 345.8v0.8M394.25 345.8v0.8M395.31 345.8v0.8M396.24 345.8v0.8M397.07 345.8v1.3M402.56 345.8v0.8M405.77 345.8v0.8M408.05 345.8v0.8M409.81 345.8v0.8M411.26 345.8v0.8M412.48 345.8v0.8M413.53 345.8v0.8M414.47 345.8v0.8M415.3 345.8v1.3" stroke="#222" stroke-width="0.65" fill="none"/><text transform="translate(338.2 345.8) rotate(-90)" text-anchor="middle" font-size="4.6">0</text><text transform="translate(338.2 333.4) rotate(-90)" text-anchor="middle" font-size="4.6">40</text><text transform="translate(338.2 321) rotate(-90)" text-anchor="middle" font-size="4.6">80</text><text transform="translate(338.2 308.6) rotate(-90)" text-anchor="middle" font-size="4.6">120</text><text transform="translate(338.2 296.2) rotate(-90)" text-anchor="middle" font-size="4.6">160</text><text transform="translate(338.2 283.8) rotate(-90)" text-anchor="middle" font-size="4.6">200</text><text transform="translate(333 315.3) rotate(-90)" text-anchor="middle" font-size="5">Counts</text><text x="341.3" y="353.1" font-size="4.5" text-anchor="middle">10</text><text x="344" y="350.8" font-size="3.2">0</text><text x="359.52" y="353.1" font-size="4.5" text-anchor="middle">10</text><text x="362.23" y="350.8" font-size="3.2">1</text><text x="377.75" y="353.1" font-size="4.5" text-anchor="middle">10</text><text x="380.45" y="350.8" font-size="3.2">2</text><text x="395.97" y="353.1" font-size="4.5" text-anchor="middle">10</text><text x="398.68" y="350.8" font-size="3.2">3</text><text x="414.2" y="353.1" font-size="4.5" text-anchor="middle">10</text><text x="416.9" y="350.8" font-size="3.2">4</text><text x="378.12" y="358.4" font-size="4.4" text-anchor="middle">FL1-Height</text><path d="M439.5 345.8h-1.7M439.5 343.32h-1.1M439.5 340.84h-1.1M439.5 338.36h-1.1M439.5 335.88h-1.1M439.5 333.4h-1.7M439.5 330.92h-1.1M439.5 328.44h-1.1M439.5 325.96h-1.1M439.5 323.48h-1.1M439.5 321h-1.7M439.5 318.52h-1.1M439.5 316.04h-1.1M439.5 313.56h-1.1M439.5 311.08h-1.1M439.5 308.6h-1.7M439.5 306.12h-1.1M439.5 303.64h-1.1M439.5 301.16h-1.1M439.5 298.68h-1.1M439.5 296.2h-1.7M439.5 293.72h-1.1M439.5 291.24h-1.1M439.5 288.76h-1.1M439.5 286.28h-1.1M439.5 283.8h-1.7M439.5 345.8v1.3M444.99 345.8v0.8M448.21 345.8v0.8M450.49 345.8v0.8M452.26 345.8v0.8M453.7 345.8v0.8M454.92 345.8v0.8M455.98 345.8v0.8M456.91 345.8v0.8M457.75 345.8v1.3M463.24 345.8v0.8M466.46 345.8v0.8M468.74 345.8v0.8M470.51 345.8v0.8M471.95 345.8v0.8M473.17 345.8v0.8M474.23 345.8v0.8M475.16 345.8v0.8M476 345.8v1.3M481.49 345.8v0.8M484.71 345.8v0.8M486.99 345.8v0.8M488.76 345.8v0.8M490.2 345.8v0.8M491.42 345.8v0.8M492.48 345.8v0.8M493.41 345.8v0.8M494.25 345.8v1.3M499.74 345.8v0.8M502.96 345.8v0.8M505.24 345.8v0.8M507.01 345.8v0.8M508.45 345.8v0.8M509.67 345.8v0.8M510.73 345.8v0.8M511.66 345.8v0.8M512.5 345.8v1.3" stroke="#222" stroke-width="0.65" fill="none"/><text transform="translate(435.3 345.8) rotate(-90)" text-anchor="middle" font-size="4.6">0</text><text transform="translate(435.3 333.4) rotate(-90)" text-anchor="middle" font-size="4.6">40</text><text transform="translate(435.3 321) rotate(-90)" text-anchor="middle" font-size="4.6">80</text><text transform="translate(435.3 308.6) rotate(-90)" text-anchor="middle" font-size="4.6">120</text><text transform="translate(435.3 296.2) rotate(-90)" text-anchor="middle" font-size="4.6">160</text><text transform="translate(435.3 283.8) rotate(-90)" text-anchor="middle" font-size="4.6">200</text><text transform="translate(430.1 315.3) rotate(-90)" text-anchor="middle" font-size="5">Counts</text><text x="438.4" y="353.1" font-size="4.5" text-anchor="middle">10</text><text x="441.1" y="350.8" font-size="3.2">0</text><text x="456.65" y="353.1" font-size="4.5" text-anchor="middle">10</text><text x="459.35" y="350.8" font-size="3.2">1</text><text x="474.9" y="353.1" font-size="4.5" text-anchor="middle">10</text><text x="477.6" y="350.8" font-size="3.2">2</text><text x="493.15" y="353.1" font-size="4.5" text-anchor="middle">10</text><text x="495.85" y="350.8" font-size="3.2">3</text><text x="511.4" y="353.1" font-size="4.5" text-anchor="middle">10</text><text x="514.1" y="350.8" font-size="3.2">4</text><text x="475.27" y="358.4" font-size="4.4" text-anchor="middle">FL1-Height</text><path d="M61.9 428.7h-1.7M61.9 426.23h-1.1M61.9 423.76h-1.1M61.9 421.28h-1.1M61.9 418.81h-1.1M61.9 416.34h-1.7M61.9 413.87h-1.1M61.9 411.4h-1.1M61.9 408.92h-1.1M61.9 406.45h-1.1M61.9 403.98h-1.7M61.9 401.51h-1.1M61.9 399.04h-1.1M61.9 396.56h-1.1M61.9 394.09h-1.1M61.9 391.62h-1.7M61.9 389.15h-1.1M61.9 386.68h-1.1M61.9 384.2h-1.1M61.9 381.73h-1.1M61.9 379.26h-1.7M61.9 376.79h-1.1M61.9 374.32h-1.1M61.9 371.84h-1.1M61.9 369.37h-1.1M61.9 366.9h-1.7M61.9 428.7v1.3M67.44 428.7v0.8M70.68 428.7v0.8M72.98 428.7v0.8M74.76 428.7v0.8M76.22 428.7v0.8M77.45 428.7v0.8M78.52 428.7v0.8M79.46 428.7v0.8M80.3 428.7v1.3M85.84 428.7v0.8M89.08 428.7v0.8M91.38 428.7v0.8M93.16 428.7v0.8M94.62 428.7v0.8M95.85 428.7v0.8M96.92 428.7v0.8M97.86 428.7v0.8M98.7 428.7v1.3M104.24 428.7v0.8M107.48 428.7v0.8M109.78 428.7v0.8M111.56 428.7v0.8M113.02 428.7v0.8M114.25 428.7v0.8M115.32 428.7v0.8M116.26 428.7v0.8M117.1 428.7v1.3M122.64 428.7v0.8M125.88 428.7v0.8M128.18 428.7v0.8M129.96 428.7v0.8M131.42 428.7v0.8M132.65 428.7v0.8M133.72 428.7v0.8M134.66 428.7v0.8M135.5 428.7v1.3" stroke="#222" stroke-width="0.65" fill="none"/><text transform="translate(57.7 428.7) rotate(-90)" text-anchor="middle" font-size="4.6">0</text><text transform="translate(57.7 416.34) rotate(-90)" text-anchor="middle" font-size="4.6">40</text><text transform="translate(57.7 403.98) rotate(-90)" text-anchor="middle" font-size="4.6">80</text><text transform="translate(57.7 391.62) rotate(-90)" text-anchor="middle" font-size="4.6">120</text><text transform="translate(57.7 379.26) rotate(-90)" text-anchor="middle" font-size="4.6">160</text><text transform="translate(57.7 366.9) rotate(-90)" text-anchor="middle" font-size="4.6">200</text><text transform="translate(52.5 398.3) rotate(-90)" text-anchor="middle" font-size="5">Counts</text><text x="60.8" y="436" font-size="4.5" text-anchor="middle">10</text><text x="63.5" y="433.7" font-size="3.2">0</text><text x="79.2" y="436" font-size="4.5" text-anchor="middle">10</text><text x="81.9" y="433.7" font-size="3.2">1</text><text x="97.6" y="436" font-size="4.5" text-anchor="middle">10</text><text x="100.3" y="433.7" font-size="3.2">2</text><text x="116" y="436" font-size="4.5" text-anchor="middle">10</text><text x="118.7" y="433.7" font-size="3.2">3</text><text x="134.4" y="436" font-size="4.5" text-anchor="middle">10</text><text x="137.1" y="433.7" font-size="3.2">4</text><text x="97.96" y="441.3" font-size="4.4" text-anchor="middle">FL1-Height</text><path d="M156.2 428.6h-1.7M156.2 426.13h-1.1M156.2 423.66h-1.1M156.2 421.2h-1.1M156.2 418.73h-1.1M156.2 416.26h-1.7M156.2 413.79h-1.1M156.2 411.32h-1.1M156.2 408.86h-1.1M156.2 406.39h-1.1M156.2 403.92h-1.7M156.2 401.45h-1.1M156.2 398.98h-1.1M156.2 396.52h-1.1M156.2 394.05h-1.1M156.2 391.58h-1.7M156.2 389.11h-1.1M156.2 386.64h-1.1M156.2 384.18h-1.1M156.2 381.71h-1.1M156.2 379.24h-1.7M156.2 376.77h-1.1M156.2 374.3h-1.1M156.2 371.84h-1.1M156.2 369.37h-1.1M156.2 366.9h-1.7M156.2 428.6v1.3M161.64 428.6v0.8M164.82 428.6v0.8M167.08 428.6v0.8M168.83 428.6v0.8M170.27 428.6v0.8M171.48 428.6v0.8M172.52 428.6v0.8M173.45 428.6v0.8M174.27 428.6v1.3M179.72 428.6v0.8M182.9 428.6v0.8M185.16 428.6v0.8M186.91 428.6v0.8M188.34 428.6v0.8M189.55 428.6v0.8M190.6 428.6v0.8M191.52 428.6v0.8M192.35 428.6v1.3M197.79 428.6v0.8M200.97 428.6v0.8M203.23 428.6v0.8M204.98 428.6v0.8M206.42 428.6v0.8M207.63 428.6v0.8M208.67 428.6v0.8M209.6 428.6v0.8M210.43 428.6v1.3M215.87 428.6v0.8M219.05 428.6v0.8M221.31 428.6v0.8M223.06 428.6v0.8M224.49 428.6v0.8M225.7 428.6v0.8M226.75 428.6v0.8M227.67 428.6v0.8M228.5 428.6v1.3" stroke="#222" stroke-width="0.65" fill="none"/><text transform="translate(152 428.6) rotate(-90)" text-anchor="middle" font-size="4.6">0</text><text transform="translate(152 416.26) rotate(-90)" text-anchor="middle" font-size="4.6">40</text><text transform="translate(152 403.92) rotate(-90)" text-anchor="middle" font-size="4.6">80</text><text transform="translate(152 391.58) rotate(-90)" text-anchor="middle" font-size="4.6">120</text><text transform="translate(152 379.24) rotate(-90)" text-anchor="middle" font-size="4.6">160</text><text transform="translate(152 366.9) rotate(-90)" text-anchor="middle" font-size="4.6">200</text><text transform="translate(146.8 398.25) rotate(-90)" text-anchor="middle" font-size="5">Counts</text><text x="155.1" y="435.9" font-size="4.5" text-anchor="middle">10</text><text x="157.8" y="433.6" font-size="3.2">0</text><text x="173.17" y="435.9" font-size="4.5" text-anchor="middle">10</text><text x="175.87" y="433.6" font-size="3.2">1</text><text x="191.25" y="435.9" font-size="4.5" text-anchor="middle">10</text><text x="193.95" y="433.6" font-size="3.2">2</text><text x="209.33" y="435.9" font-size="4.5" text-anchor="middle">10</text><text x="212.03" y="433.6" font-size="3.2">3</text><text x="227.4" y="435.9" font-size="4.5" text-anchor="middle">10</text><text x="230.1" y="433.6" font-size="3.2">4</text><text x="191.63" y="441.2" font-size="4.4" text-anchor="middle">FL1-Height</text><path d="M249.1 428.6h-1.7M249.1 426.13h-1.1M249.1 423.66h-1.1M249.1 421.2h-1.1M249.1 418.73h-1.1M249.1 416.26h-1.7M249.1 413.79h-1.1M249.1 411.32h-1.1M249.1 408.86h-1.1M249.1 406.39h-1.1M249.1 403.92h-1.7M249.1 401.45h-1.1M249.1 398.98h-1.1M249.1 396.52h-1.1M249.1 394.05h-1.1M249.1 391.58h-1.7M249.1 389.11h-1.1M249.1 386.64h-1.1M249.1 384.18h-1.1M249.1 381.71h-1.1M249.1 379.24h-1.7M249.1 376.77h-1.1M249.1 374.3h-1.1M249.1 371.84h-1.1M249.1 369.37h-1.1M249.1 366.9h-1.7M249.1 428.6v1.3M254.56 428.6v0.8M257.75 428.6v0.8M260.01 428.6v0.8M261.77 428.6v0.8M263.2 428.6v0.8M264.42 428.6v0.8M265.47 428.6v0.8M266.4 428.6v0.8M267.23 428.6v1.3M272.68 428.6v0.8M275.87 428.6v0.8M278.14 428.6v0.8M279.89 428.6v0.8M281.33 428.6v0.8M282.54 428.6v0.8M283.59 428.6v0.8M284.52 428.6v0.8M285.35 428.6v1.3M290.81 428.6v0.8M294 428.6v0.8M296.26 428.6v0.8M298.02 428.6v0.8M299.45 428.6v0.8M300.67 428.6v0.8M301.72 428.6v0.8M302.65 428.6v0.8M303.48 428.6v1.3M308.93 428.6v0.8M312.12 428.6v0.8M314.39 428.6v0.8M316.14 428.6v0.8M317.58 428.6v0.8M318.79 428.6v0.8M319.84 428.6v0.8M320.77 428.6v0.8M321.6 428.6v1.3" stroke="#222" stroke-width="0.65" fill="none"/><text transform="translate(244.9 428.6) rotate(-90)" text-anchor="middle" font-size="4.6">0</text><text transform="translate(244.9 416.26) rotate(-90)" text-anchor="middle" font-size="4.6">40</text><text transform="translate(244.9 403.92) rotate(-90)" text-anchor="middle" font-size="4.6">80</text><text transform="translate(244.9 391.58) rotate(-90)" text-anchor="middle" font-size="4.6">120</text><text transform="translate(244.9 379.24) rotate(-90)" text-anchor="middle" font-size="4.6">160</text><text transform="translate(244.9 366.9) rotate(-90)" text-anchor="middle" font-size="4.6">200</text><text transform="translate(239.7 398.25) rotate(-90)" text-anchor="middle" font-size="5">Counts</text><text x="248" y="435.9" font-size="4.5" text-anchor="middle">10</text><text x="250.7" y="433.6" font-size="3.2">0</text><text x="266.12" y="435.9" font-size="4.5" text-anchor="middle">10</text><text x="268.83" y="433.6" font-size="3.2">1</text><text x="284.25" y="435.9" font-size="4.5" text-anchor="middle">10</text><text x="286.95" y="433.6" font-size="3.2">2</text><text x="302.38" y="435.9" font-size="4.5" text-anchor="middle">10</text><text x="305.08" y="433.6" font-size="3.2">3</text><text x="320.5" y="435.9" font-size="4.5" text-anchor="middle">10</text><text x="323.2" y="433.6" font-size="3.2">4</text><text x="284.62" y="441.2" font-size="4.4" text-anchor="middle">FL1-Height</text><path d="M342.7 428.6h-1.7M342.7 426.11h-1.1M342.7 423.62h-1.1M342.7 421.14h-1.1M342.7 418.65h-1.1M342.7 416.16h-1.7M342.7 413.67h-1.1M342.7 411.18h-1.1M342.7 408.7h-1.1M342.7 406.21h-1.1M342.7 403.72h-1.7M342.7 401.23h-1.1M342.7 398.74h-1.1M342.7 396.26h-1.1M342.7 393.77h-1.1M342.7 391.28h-1.7M342.7 388.79h-1.1M342.7 386.3h-1.1M342.7 383.82h-1.1M342.7 381.33h-1.1M342.7 378.84h-1.7M342.7 376.35h-1.1M342.7 373.86h-1.1M342.7 371.38h-1.1M342.7 368.89h-1.1M342.7 366.4h-1.7M342.7 428.6v1.3M348.16 428.6v0.8M351.36 428.6v0.8M353.63 428.6v0.8M355.39 428.6v0.8M356.82 428.6v0.8M358.04 428.6v0.8M359.09 428.6v0.8M360.02 428.6v0.8M360.85 428.6v1.3M366.31 428.6v0.8M369.51 428.6v0.8M371.78 428.6v0.8M373.54 428.6v0.8M374.97 428.6v0.8M376.19 428.6v0.8M377.24 428.6v0.8M378.17 428.6v0.8M379 428.6v1.3M384.46 428.6v0.8M387.66 428.6v0.8M389.93 428.6v0.8M391.69 428.6v0.8M393.12 428.6v0.8M394.34 428.6v0.8M395.39 428.6v0.8M396.32 428.6v0.8M397.15 428.6v1.3M402.61 428.6v0.8M405.81 428.6v0.8M408.08 428.6v0.8M409.84 428.6v0.8M411.27 428.6v0.8M412.49 428.6v0.8M413.54 428.6v0.8M414.47 428.6v0.8M415.3 428.6v1.3" stroke="#222" stroke-width="0.65" fill="none"/><text transform="translate(338.5 428.6) rotate(-90)" text-anchor="middle" font-size="4.6">0</text><text transform="translate(338.5 416.16) rotate(-90)" text-anchor="middle" font-size="4.6">40</text><text transform="translate(338.5 403.72) rotate(-90)" text-anchor="middle" font-size="4.6">80</text><text transform="translate(338.5 391.28) rotate(-90)" text-anchor="middle" font-size="4.6">120</text><text transform="translate(338.5 378.84) rotate(-90)" text-anchor="middle" font-size="4.6">160</text><text transform="translate(338.5 366.4) rotate(-90)" text-anchor="middle" font-size="4.6">200</text><text transform="translate(333.3 398) rotate(-90)" text-anchor="middle" font-size="5">Counts</text><text x="341.6" y="435.9" font-size="4.5" text-anchor="middle">10</text><text x="344.3" y="433.6" font-size="3.2">0</text><text x="359.75" y="435.9" font-size="4.5" text-anchor="middle">10</text><text x="362.45" y="433.6" font-size="3.2">1</text><text x="377.9" y="435.9" font-size="4.5" text-anchor="middle">10</text><text x="380.6" y="433.6" font-size="3.2">2</text><text x="396.05" y="435.9" font-size="4.5" text-anchor="middle">10</text><text x="398.75" y="433.6" font-size="3.2">3</text><text x="414.2" y="435.9" font-size="4.5" text-anchor="middle">10</text><text x="416.9" y="433.6" font-size="3.2">4</text><text x="378.27" y="441.2" font-size="4.4" text-anchor="middle">FL1-Height</text><path d="M439.9 429.3h-1.7M439.9 426.79h-1.1M439.9 424.28h-1.1M439.9 421.76h-1.1M439.9 419.25h-1.1M439.9 416.74h-1.7M439.9 414.23h-1.1M439.9 411.72h-1.1M439.9 409.2h-1.1M439.9 406.69h-1.1M439.9 404.18h-1.7M439.9 401.67h-1.1M439.9 399.16h-1.1M439.9 396.64h-1.1M439.9 394.13h-1.1M439.9 391.62h-1.7M439.9 389.11h-1.1M439.9 386.6h-1.1M439.9 384.08h-1.1M439.9 381.57h-1.1M439.9 379.06h-1.7M439.9 376.55h-1.1M439.9 374.04h-1.1M439.9 371.52h-1.1M439.9 369.01h-1.1M439.9 366.5h-1.7M439.9 429.3v1.3M445.66 429.3v0.8M449.04 429.3v0.8M451.43 429.3v0.8M453.29 429.3v0.8M454.8 429.3v0.8M456.08 429.3v0.8M457.19 429.3v0.8M458.17 429.3v0.8M459.05 429.3v1.3M464.81 429.3v0.8M468.19 429.3v0.8M470.58 429.3v0.8M472.44 429.3v0.8M473.95 429.3v0.8M475.23 429.3v0.8M476.34 429.3v0.8M477.32 429.3v0.8M478.2 429.3v1.3M483.96 429.3v0.8M487.34 429.3v0.8M489.73 429.3v0.8M491.59 429.3v0.8M493.1 429.3v0.8M494.38 429.3v0.8M495.49 429.3v0.8M496.47 429.3v0.8M497.35 429.3v1.3M503.11 429.3v0.8M506.49 429.3v0.8M508.88 429.3v0.8M510.74 429.3v0.8M512.25 429.3v0.8M513.53 429.3v0.8M514.64 429.3v0.8M515.62 429.3v0.8M516.5 429.3v1.3" stroke="#222" stroke-width="0.65" fill="none"/><text transform="translate(435.7 429.3) rotate(-90)" text-anchor="middle" font-size="4.6">0</text><text transform="translate(435.7 416.74) rotate(-90)" text-anchor="middle" font-size="4.6">40</text><text transform="translate(435.7 404.18) rotate(-90)" text-anchor="middle" font-size="4.6">80</text><text transform="translate(435.7 391.62) rotate(-90)" text-anchor="middle" font-size="4.6">120</text><text transform="translate(435.7 379.06) rotate(-90)" text-anchor="middle" font-size="4.6">160</text><text transform="translate(435.7 366.5) rotate(-90)" text-anchor="middle" font-size="4.6">200</text><text transform="translate(430.5 398.4) rotate(-90)" text-anchor="middle" font-size="5">Counts</text><text x="438.8" y="436.6" font-size="4.5" text-anchor="middle">10</text><text x="441.5" y="434.3" font-size="3.2">0</text><text x="457.95" y="436.6" font-size="4.5" text-anchor="middle">10</text><text x="460.65" y="434.3" font-size="3.2">1</text><text x="477.1" y="436.6" font-size="4.5" text-anchor="middle">10</text><text x="479.8" y="434.3" font-size="3.2">2</text><text x="496.25" y="436.6" font-size="4.5" text-anchor="middle">10</text><text x="498.95" y="434.3" font-size="3.2">3</text><text x="515.4" y="436.6" font-size="4.5" text-anchor="middle">10</text><text x="518.1" y="434.3" font-size="3.2">4</text><text x="477.43" y="441.9" font-size="4.4" text-anchor="middle">FL1-Height</text><path d="M62.3 510.9h-1.7M62.3 508.45h-1.1M62.3 506h-1.1M62.3 503.56h-1.1M62.3 501.11h-1.1M62.3 498.66h-1.7M62.3 496.21h-1.1M62.3 493.76h-1.1M62.3 491.32h-1.1M62.3 488.87h-1.1M62.3 486.42h-1.7M62.3 483.97h-1.1M62.3 481.52h-1.1M62.3 479.08h-1.1M62.3 476.63h-1.1M62.3 474.18h-1.7M62.3 471.73h-1.1M62.3 469.28h-1.1M62.3 466.84h-1.1M62.3 464.39h-1.1M62.3 461.94h-1.7M62.3 459.49h-1.1M62.3 457.04h-1.1M62.3 454.6h-1.1M62.3 452.15h-1.1M62.3 449.7h-1.7M62.3 510.9v1.3M67.81 510.9v0.8M71.03 510.9v0.8M73.32 510.9v0.8M75.09 510.9v0.8M76.54 510.9v0.8M77.77 510.9v0.8M78.83 510.9v0.8M79.76 510.9v0.8M80.6 510.9v1.3M86.11 510.9v0.8M89.33 510.9v0.8M91.62 510.9v0.8M93.39 510.9v0.8M94.84 510.9v0.8M96.07 510.9v0.8M97.13 510.9v0.8M98.06 510.9v0.8M98.9 510.9v1.3M104.41 510.9v0.8M107.63 510.9v0.8M109.92 510.9v0.8M111.69 510.9v0.8M113.14 510.9v0.8M114.37 510.9v0.8M115.43 510.9v0.8M116.36 510.9v0.8M117.2 510.9v1.3M122.71 510.9v0.8M125.93 510.9v0.8M128.22 510.9v0.8M129.99 510.9v0.8M131.44 510.9v0.8M132.67 510.9v0.8M133.73 510.9v0.8M134.66 510.9v0.8M135.5 510.9v1.3" stroke="#222" stroke-width="0.65" fill="none"/><text transform="translate(58.1 510.9) rotate(-90)" text-anchor="middle" font-size="4.6">0</text><text transform="translate(58.1 498.66) rotate(-90)" text-anchor="middle" font-size="4.6">40</text><text transform="translate(58.1 486.42) rotate(-90)" text-anchor="middle" font-size="4.6">80</text><text transform="translate(58.1 474.18) rotate(-90)" text-anchor="middle" font-size="4.6">120</text><text transform="translate(58.1 461.94) rotate(-90)" text-anchor="middle" font-size="4.6">160</text><text transform="translate(58.1 449.7) rotate(-90)" text-anchor="middle" font-size="4.6">200</text><text transform="translate(52.9 480.8) rotate(-90)" text-anchor="middle" font-size="5">Counts</text><text x="61.2" y="518.2" font-size="4.5" text-anchor="middle">10</text><text x="63.9" y="515.9" font-size="3.2">0</text><text x="79.5" y="518.2" font-size="4.5" text-anchor="middle">10</text><text x="82.2" y="515.9" font-size="3.2">1</text><text x="97.8" y="518.2" font-size="4.5" text-anchor="middle">10</text><text x="100.5" y="515.9" font-size="3.2">2</text><text x="116.1" y="518.2" font-size="4.5" text-anchor="middle">10</text><text x="118.8" y="515.9" font-size="3.2">3</text><text x="134.4" y="518.2" font-size="4.5" text-anchor="middle">10</text><text x="137.1" y="515.9" font-size="3.2">4</text><text x="98.17" y="523.5" font-size="4.4" text-anchor="middle">FL1-Height</text><path d="M156.2 510.8h-1.7M156.2 508.34h-1.1M156.2 505.88h-1.1M156.2 503.42h-1.1M156.2 500.96h-1.1M156.2 498.5h-1.7M156.2 496.04h-1.1M156.2 493.58h-1.1M156.2 491.12h-1.1M156.2 488.66h-1.1M156.2 486.2h-1.7M156.2 483.74h-1.1M156.2 481.28h-1.1M156.2 478.82h-1.1M156.2 476.36h-1.1M156.2 473.9h-1.7M156.2 471.44h-1.1M156.2 468.98h-1.1M156.2 466.52h-1.1M156.2 464.06h-1.1M156.2 461.6h-1.7M156.2 459.14h-1.1M156.2 456.68h-1.1M156.2 454.22h-1.1M156.2 451.76h-1.1M156.2 449.3h-1.7M156.2 510.8v1.3M161.67 510.8v0.8M164.87 510.8v0.8M167.14 510.8v0.8M168.9 510.8v0.8M170.34 510.8v0.8M171.56 510.8v0.8M172.61 510.8v0.8M173.54 510.8v0.8M174.38 510.8v1.3M179.85 510.8v0.8M183.05 510.8v0.8M185.32 510.8v0.8M187.08 510.8v0.8M188.52 510.8v0.8M189.73 510.8v0.8M190.79 510.8v0.8M191.72 510.8v0.8M192.55 510.8v1.3M198.02 510.8v0.8M201.22 510.8v0.8M203.49 510.8v0.8M205.25 510.8v0.8M206.69 510.8v0.8M207.91 510.8v0.8M208.96 510.8v0.8M209.89 510.8v0.8M210.72 510.8v1.3M216.2 510.8v0.8M219.4 510.8v0.8M221.67 510.8v0.8M223.43 510.8v0.8M224.87 510.8v0.8M226.08 510.8v0.8M227.14 510.8v0.8M228.07 510.8v0.8M228.9 510.8v1.3" stroke="#222" stroke-width="0.65" fill="none"/><text transform="translate(152 510.8) rotate(-90)" text-anchor="middle" font-size="4.6">0</text><text transform="translate(152 498.5) rotate(-90)" text-anchor="middle" font-size="4.6">40</text><text transform="translate(152 486.2) rotate(-90)" text-anchor="middle" font-size="4.6">80</text><text transform="translate(152 473.9) rotate(-90)" text-anchor="middle" font-size="4.6">120</text><text transform="translate(152 461.6) rotate(-90)" text-anchor="middle" font-size="4.6">160</text><text transform="translate(152 449.3) rotate(-90)" text-anchor="middle" font-size="4.6">200</text><text transform="translate(146.8 480.55) rotate(-90)" text-anchor="middle" font-size="5">Counts</text><text x="155.1" y="518.1" font-size="4.5" text-anchor="middle">10</text><text x="157.8" y="515.8" font-size="3.2">0</text><text x="173.28" y="518.1" font-size="4.5" text-anchor="middle">10</text><text x="175.97" y="515.8" font-size="3.2">1</text><text x="191.45" y="518.1" font-size="4.5" text-anchor="middle">10</text><text x="194.15" y="515.8" font-size="3.2">2</text><text x="209.62" y="518.1" font-size="4.5" text-anchor="middle">10</text><text x="212.32" y="515.8" font-size="3.2">3</text><text x="227.8" y="518.1" font-size="4.5" text-anchor="middle">10</text><text x="230.5" y="515.8" font-size="3.2">4</text><text x="191.82" y="523.4" font-size="4.4" text-anchor="middle">FL1-Height</text><path d="M249.2 510.8h-1.7M249.2 508.34h-1.1M249.2 505.88h-1.1M249.2 503.42h-1.1M249.2 500.96h-1.1M249.2 498.5h-1.7M249.2 496.04h-1.1M249.2 493.58h-1.1M249.2 491.12h-1.1M249.2 488.66h-1.1M249.2 486.2h-1.7M249.2 483.74h-1.1M249.2 481.28h-1.1M249.2 478.82h-1.1M249.2 476.36h-1.1M249.2 473.9h-1.7M249.2 471.44h-1.1M249.2 468.98h-1.1M249.2 466.52h-1.1M249.2 464.06h-1.1M249.2 461.6h-1.7M249.2 459.14h-1.1M249.2 456.68h-1.1M249.2 454.22h-1.1M249.2 451.76h-1.1M249.2 449.3h-1.7M249.2 510.8v1.3M254.69 510.8v0.8M257.9 510.8v0.8M260.17 510.8v0.8M261.94 510.8v0.8M263.38 510.8v0.8M264.6 510.8v0.8M265.66 510.8v0.8M266.59 510.8v0.8M267.43 510.8v1.3M272.91 510.8v0.8M276.12 510.8v0.8M278.4 510.8v0.8M280.16 510.8v0.8M281.61 510.8v0.8M282.83 510.8v0.8M283.88 510.8v0.8M284.82 510.8v0.8M285.65 510.8v1.3M291.14 510.8v0.8M294.35 510.8v0.8M296.62 510.8v0.8M298.39 510.8v0.8M299.83 510.8v0.8M301.05 510.8v0.8M302.11 510.8v0.8M303.04 510.8v0.8M303.88 510.8v1.3M309.36 510.8v0.8M312.57 510.8v0.8M314.85 510.8v0.8M316.61 510.8v0.8M318.06 510.8v0.8M319.28 510.8v0.8M320.33 510.8v0.8M321.27 510.8v0.8M322.1 510.8v1.3" stroke="#222" stroke-width="0.65" fill="none"/><text transform="translate(245 510.8) rotate(-90)" text-anchor="middle" font-size="4.6">0</text><text transform="translate(245 498.5) rotate(-90)" text-anchor="middle" font-size="4.6">40</text><text transform="translate(245 486.2) rotate(-90)" text-anchor="middle" font-size="4.6">80</text><text transform="translate(245 473.9) rotate(-90)" text-anchor="middle" font-size="4.6">120</text><text transform="translate(245 461.6) rotate(-90)" text-anchor="middle" font-size="4.6">160</text><text transform="translate(245 449.3) rotate(-90)" text-anchor="middle" font-size="4.6">200</text><text transform="translate(239.8 480.55) rotate(-90)" text-anchor="middle" font-size="5">Counts</text><text x="248.1" y="518.1" font-size="4.5" text-anchor="middle">10</text><text x="250.8" y="515.8" font-size="3.2">0</text><text x="266.32" y="518.1" font-size="4.5" text-anchor="middle">10</text><text x="269.03" y="515.8" font-size="3.2">1</text><text x="284.55" y="518.1" font-size="4.5" text-anchor="middle">10</text><text x="287.25" y="515.8" font-size="3.2">2</text><text x="302.77" y="518.1" font-size="4.5" text-anchor="middle">10</text><text x="305.48" y="515.8" font-size="3.2">3</text><text x="321" y="518.1" font-size="4.5" text-anchor="middle">10</text><text x="323.7" y="515.8" font-size="3.2">4</text><text x="284.92" y="523.4" font-size="4.4" text-anchor="middle">FL1-Height</text><path d="M343.2 510.8h-1.7M343.2 508.34h-1.1M343.2 505.88h-1.1M343.2 503.42h-1.1M343.2 500.96h-1.1M343.2 498.5h-1.7M343.2 496.04h-1.1M343.2 493.58h-1.1M343.2 491.12h-1.1M343.2 488.66h-1.1M343.2 486.2h-1.7M343.2 483.74h-1.1M343.2 481.28h-1.1M343.2 478.82h-1.1M343.2 476.36h-1.1M343.2 473.9h-1.7M343.2 471.44h-1.1M343.2 468.98h-1.1M343.2 466.52h-1.1M343.2 464.06h-1.1M343.2 461.6h-1.7M343.2 459.14h-1.1M343.2 456.68h-1.1M343.2 454.22h-1.1M343.2 451.76h-1.1M343.2 449.3h-1.7M343.2 510.8v1.3M348.64 510.8v0.8M351.82 510.8v0.8M354.08 510.8v0.8M355.83 510.8v0.8M357.27 510.8v0.8M358.48 510.8v0.8M359.52 510.8v0.8M360.45 510.8v0.8M361.27 510.8v1.3M366.72 510.8v0.8M369.9 510.8v0.8M372.16 510.8v0.8M373.91 510.8v0.8M375.34 510.8v0.8M376.55 510.8v0.8M377.6 510.8v0.8M378.52 510.8v0.8M379.35 510.8v1.3M384.79 510.8v0.8M387.97 510.8v0.8M390.23 510.8v0.8M391.98 510.8v0.8M393.42 510.8v0.8M394.63 510.8v0.8M395.67 510.8v0.8M396.6 510.8v0.8M397.43 510.8v1.3M402.87 510.8v0.8M406.05 510.8v0.8M408.31 510.8v0.8M410.06 510.8v0.8M411.49 510.8v0.8M412.7 510.8v0.8M413.75 510.8v0.8M414.67 510.8v0.8M415.5 510.8v1.3" stroke="#222" stroke-width="0.65" fill="none"/><text transform="translate(339 510.8) rotate(-90)" text-anchor="middle" font-size="4.6">0</text><text transform="translate(339 498.5) rotate(-90)" text-anchor="middle" font-size="4.6">40</text><text transform="translate(339 486.2) rotate(-90)" text-anchor="middle" font-size="4.6">80</text><text transform="translate(339 473.9) rotate(-90)" text-anchor="middle" font-size="4.6">120</text><text transform="translate(339 461.6) rotate(-90)" text-anchor="middle" font-size="4.6">160</text><text transform="translate(339 449.3) rotate(-90)" text-anchor="middle" font-size="4.6">200</text><text transform="translate(333.8 480.55) rotate(-90)" text-anchor="middle" font-size="5">Counts</text><text x="342.1" y="518.1" font-size="4.5" text-anchor="middle">10</text><text x="344.8" y="515.8" font-size="3.2">0</text><text x="360.17" y="518.1" font-size="4.5" text-anchor="middle">10</text><text x="362.88" y="515.8" font-size="3.2">1</text><text x="378.25" y="518.1" font-size="4.5" text-anchor="middle">10</text><text x="380.95" y="515.8" font-size="3.2">2</text><text x="396.32" y="518.1" font-size="4.5" text-anchor="middle">10</text><text x="399.03" y="515.8" font-size="3.2">3</text><text x="414.4" y="518.1" font-size="4.5" text-anchor="middle">10</text><text x="417.1" y="515.8" font-size="3.2">4</text><text x="378.63" y="523.4" font-size="4.4" text-anchor="middle">FL1-Height</text><path d="M439.9 514.3h-1.7M439.9 511.7h-1.1M439.9 509.1h-1.1M439.9 506.5h-1.1M439.9 503.9h-1.1M439.9 501.3h-1.7M439.9 498.7h-1.1M439.9 496.1h-1.1M439.9 493.5h-1.1M439.9 490.9h-1.1M439.9 488.3h-1.7M439.9 485.7h-1.1M439.9 483.1h-1.1M439.9 480.5h-1.1M439.9 477.9h-1.1M439.9 475.3h-1.7M439.9 472.7h-1.1M439.9 470.1h-1.1M439.9 467.5h-1.1M439.9 464.9h-1.1M439.9 462.3h-1.7M439.9 459.7h-1.1M439.9 457.1h-1.1M439.9 454.5h-1.1M439.9 451.9h-1.1M439.9 449.3h-1.7M439.9 514.3v1.3M445.68 514.3v0.8M449.06 514.3v0.8M451.46 514.3v0.8M453.32 514.3v0.8M454.84 514.3v0.8M456.13 514.3v0.8M457.24 514.3v0.8M458.22 514.3v0.8M459.1 514.3v1.3M464.88 514.3v0.8M468.26 514.3v0.8M470.66 514.3v0.8M472.52 514.3v0.8M474.04 514.3v0.8M475.33 514.3v0.8M476.44 514.3v0.8M477.42 514.3v0.8M478.3 514.3v1.3M484.08 514.3v0.8M487.46 514.3v0.8M489.86 514.3v0.8M491.72 514.3v0.8M493.24 514.3v0.8M494.53 514.3v0.8M495.64 514.3v0.8M496.62 514.3v0.8M497.5 514.3v1.3M503.28 514.3v0.8M506.66 514.3v0.8M509.06 514.3v0.8M510.92 514.3v0.8M512.44 514.3v0.8M513.73 514.3v0.8M514.84 514.3v0.8M515.82 514.3v0.8M516.7 514.3v1.3" stroke="#222" stroke-width="0.65" fill="none"/><text transform="translate(435.7 514.3) rotate(-90)" text-anchor="middle" font-size="4.6">0</text><text transform="translate(435.7 501.3) rotate(-90)" text-anchor="middle" font-size="4.6">40</text><text transform="translate(435.7 488.3) rotate(-90)" text-anchor="middle" font-size="4.6">80</text><text transform="translate(435.7 475.3) rotate(-90)" text-anchor="middle" font-size="4.6">120</text><text transform="translate(435.7 462.3) rotate(-90)" text-anchor="middle" font-size="4.6">160</text><text transform="translate(435.7 449.3) rotate(-90)" text-anchor="middle" font-size="4.6">200</text><text transform="translate(430.5 482.3) rotate(-90)" text-anchor="middle" font-size="5">Counts</text><text x="438.8" y="521.6" font-size="4.5" text-anchor="middle">10</text><text x="441.5" y="519.3" font-size="3.2">0</text><text x="458" y="521.6" font-size="4.5" text-anchor="middle">10</text><text x="460.7" y="519.3" font-size="3.2">1</text><text x="477.2" y="521.6" font-size="4.5" text-anchor="middle">10</text><text x="479.9" y="519.3" font-size="3.2">2</text><text x="496.4" y="521.6" font-size="4.5" text-anchor="middle">10</text><text x="499.1" y="519.3" font-size="3.2">3</text><text x="515.6" y="521.6" font-size="4.5" text-anchor="middle">10</text><text x="518.3" y="519.3" font-size="3.2">4</text><text x="477.53" y="526.9" font-size="4.4" text-anchor="middle">FL1-Height</text><path d="M49.9 605.7h-1.7M49.9 603.18h-1.1M49.9 600.65h-1.1M49.9 598.13h-1.1M49.9 595.6h-1.1M49.9 593.08h-1.7M49.9 590.56h-1.1M49.9 588.03h-1.1M49.9 585.51h-1.1M49.9 582.98h-1.1M49.9 580.46h-1.7M49.9 577.94h-1.1M49.9 575.41h-1.1M49.9 572.89h-1.1M49.9 570.36h-1.1M49.9 567.84h-1.7M49.9 565.32h-1.1M49.9 562.79h-1.1M49.9 560.27h-1.1M49.9 557.74h-1.1M49.9 555.22h-1.7M49.9 552.7h-1.1M49.9 550.17h-1.1M49.9 547.65h-1.1M49.9 545.12h-1.1M49.9 542.6h-1.7M49.9 605.7v1.3M55.56 605.7v0.8M58.87 605.7v0.8M61.22 605.7v0.8M63.04 605.7v0.8M64.53 605.7v0.8M65.79 605.7v0.8M66.88 605.7v0.8M67.84 605.7v0.8M68.7 605.7v1.3M74.36 605.7v0.8M77.67 605.7v0.8M80.02 605.7v0.8M81.84 605.7v0.8M83.33 605.7v0.8M84.59 605.7v0.8M85.68 605.7v0.8M86.64 605.7v0.8M87.5 605.7v1.3M93.16 605.7v0.8M96.47 605.7v0.8M98.82 605.7v0.8M100.64 605.7v0.8M102.13 605.7v0.8M103.39 605.7v0.8M104.48 605.7v0.8M105.44 605.7v0.8M106.3 605.7v1.3M111.96 605.7v0.8M115.27 605.7v0.8M117.62 605.7v0.8M119.44 605.7v0.8M120.93 605.7v0.8M122.19 605.7v0.8M123.28 605.7v0.8M124.24 605.7v0.8M125.1 605.7v1.3" stroke="#222" stroke-width="0.65" fill="none"/><text transform="translate(45.7 605.7) rotate(-90)" text-anchor="middle" font-size="4.6">0</text><text transform="translate(45.7 593.08) rotate(-90)" text-anchor="middle" font-size="4.6">40</text><text transform="translate(45.7 580.46) rotate(-90)" text-anchor="middle" font-size="4.6">80</text><text transform="translate(45.7 567.84) rotate(-90)" text-anchor="middle" font-size="4.6">120</text><text transform="translate(45.7 555.22) rotate(-90)" text-anchor="middle" font-size="4.6">160</text><text transform="translate(45.7 542.6) rotate(-90)" text-anchor="middle" font-size="4.6">200</text><text transform="translate(40.5 574.65) rotate(-90)" text-anchor="middle" font-size="5">Counts</text><text x="48.8" y="613" font-size="4.5" text-anchor="middle">10</text><text x="51.5" y="610.7" font-size="3.2">0</text><text x="67.6" y="613" font-size="4.5" text-anchor="middle">10</text><text x="70.3" y="610.7" font-size="3.2">1</text><text x="86.4" y="613" font-size="4.5" text-anchor="middle">10</text><text x="89.1" y="610.7" font-size="3.2">2</text><text x="105.2" y="613" font-size="4.5" text-anchor="middle">10</text><text x="107.9" y="610.7" font-size="3.2">3</text><text x="124" y="613" font-size="4.5" text-anchor="middle">10</text><text x="126.7" y="610.7" font-size="3.2">4</text><text x="86.75" y="618.3" font-size="4.4" text-anchor="middle">FL1-Height</text><path d="M146.2 605.8h-1.7M146.2 603.25h-1.1M146.2 600.7h-1.1M146.2 598.16h-1.1M146.2 595.61h-1.1M146.2 593.06h-1.7M146.2 590.51h-1.1M146.2 587.96h-1.1M146.2 585.42h-1.1M146.2 582.87h-1.1M146.2 580.32h-1.7M146.2 577.77h-1.1M146.2 575.22h-1.1M146.2 572.68h-1.1M146.2 570.13h-1.1M146.2 567.58h-1.7M146.2 565.03h-1.1M146.2 562.48h-1.1M146.2 559.94h-1.1M146.2 557.39h-1.1M146.2 554.84h-1.7M146.2 552.29h-1.1M146.2 549.74h-1.1M146.2 547.2h-1.1M146.2 544.65h-1.1M146.2 542.1h-1.7M146.2 605.8v1.3M151.78 605.8v0.8M155.05 605.8v0.8M157.37 605.8v0.8M159.17 605.8v0.8M160.63 605.8v0.8M161.88 605.8v0.8M162.95 605.8v0.8M163.9 605.8v0.8M164.75 605.8v1.3M170.33 605.8v0.8M173.6 605.8v0.8M175.92 605.8v0.8M177.72 605.8v0.8M179.18 605.8v0.8M180.43 605.8v0.8M181.5 605.8v0.8M182.45 605.8v0.8M183.3 605.8v1.3M188.88 605.8v0.8M192.15 605.8v0.8M194.47 605.8v0.8M196.27 605.8v0.8M197.73 605.8v0.8M198.98 605.8v0.8M200.05 605.8v0.8M201 605.8v0.8M201.85 605.8v1.3M207.43 605.8v0.8M210.7 605.8v0.8M213.02 605.8v0.8M214.82 605.8v0.8M216.28 605.8v0.8M217.53 605.8v0.8M218.6 605.8v0.8M219.55 605.8v0.8M220.4 605.8v1.3" stroke="#222" stroke-width="0.65" fill="none"/><text transform="translate(142 605.8) rotate(-90)" text-anchor="middle" font-size="4.6">0</text><text transform="translate(142 593.06) rotate(-90)" text-anchor="middle" font-size="4.6">40</text><text transform="translate(142 580.32) rotate(-90)" text-anchor="middle" font-size="4.6">80</text><text transform="translate(142 567.58) rotate(-90)" text-anchor="middle" font-size="4.6">120</text><text transform="translate(142 554.84) rotate(-90)" text-anchor="middle" font-size="4.6">160</text><text transform="translate(142 542.1) rotate(-90)" text-anchor="middle" font-size="4.6">200</text><text transform="translate(136.8 574.45) rotate(-90)" text-anchor="middle" font-size="5">Counts</text><text x="145.1" y="613.1" font-size="4.5" text-anchor="middle">10</text><text x="147.8" y="610.8" font-size="3.2">0</text><text x="163.65" y="613.1" font-size="4.5" text-anchor="middle">10</text><text x="166.35" y="610.8" font-size="3.2">1</text><text x="182.2" y="613.1" font-size="4.5" text-anchor="middle">10</text><text x="184.9" y="610.8" font-size="3.2">2</text><text x="200.75" y="613.1" font-size="4.5" text-anchor="middle">10</text><text x="203.45" y="610.8" font-size="3.2">3</text><text x="219.3" y="613.1" font-size="4.5" text-anchor="middle">10</text><text x="222" y="610.8" font-size="3.2">4</text><text x="182.56" y="618.4" font-size="4.4" text-anchor="middle">FL1-Height</text><path d="M241.9 605.5h-1.7M241.9 602.96h-1.1M241.9 600.43h-1.1M241.9 597.89h-1.1M241.9 595.36h-1.1M241.9 592.82h-1.7M241.9 590.28h-1.1M241.9 587.75h-1.1M241.9 585.21h-1.1M241.9 582.68h-1.1M241.9 580.14h-1.7M241.9 577.6h-1.1M241.9 575.07h-1.1M241.9 572.53h-1.1M241.9 570h-1.1M241.9 567.46h-1.7M241.9 564.92h-1.1M241.9 562.39h-1.1M241.9 559.85h-1.1M241.9 557.32h-1.1M241.9 554.78h-1.7M241.9 552.24h-1.1M241.9 549.71h-1.1M241.9 547.17h-1.1M241.9 544.64h-1.1M241.9 542.1h-1.7M241.9 605.5v1.3M247.5 605.5v0.8M250.77 605.5v0.8M253.1 605.5v0.8M254.9 605.5v0.8M256.37 605.5v0.8M257.62 605.5v0.8M258.7 605.5v0.8M259.65 605.5v0.8M260.5 605.5v1.3M266.1 605.5v0.8M269.37 605.5v0.8M271.7 605.5v0.8M273.5 605.5v0.8M274.97 605.5v0.8M276.22 605.5v0.8M277.3 605.5v0.8M278.25 605.5v0.8M279.1 605.5v1.3M284.7 605.5v0.8M287.97 605.5v0.8M290.3 605.5v0.8M292.1 605.5v0.8M293.57 605.5v0.8M294.82 605.5v0.8M295.9 605.5v0.8M296.85 605.5v0.8M297.7 605.5v1.3M303.3 605.5v0.8M306.57 605.5v0.8M308.9 605.5v0.8M310.7 605.5v0.8M312.17 605.5v0.8M313.42 605.5v0.8M314.5 605.5v0.8M315.45 605.5v0.8M316.3 605.5v1.3" stroke="#222" stroke-width="0.65" fill="none"/><text transform="translate(237.7 605.5) rotate(-90)" text-anchor="middle" font-size="4.6">0</text><text transform="translate(237.7 592.82) rotate(-90)" text-anchor="middle" font-size="4.6">40</text><text transform="translate(237.7 580.14) rotate(-90)" text-anchor="middle" font-size="4.6">80</text><text transform="translate(237.7 567.46) rotate(-90)" text-anchor="middle" font-size="4.6">120</text><text transform="translate(237.7 554.78) rotate(-90)" text-anchor="middle" font-size="4.6">160</text><text transform="translate(237.7 542.1) rotate(-90)" text-anchor="middle" font-size="4.6">200</text><text transform="translate(232.5 574.3) rotate(-90)" text-anchor="middle" font-size="5">Counts</text><text x="240.8" y="612.8" font-size="4.5" text-anchor="middle">10</text><text x="243.5" y="610.5" font-size="3.2">0</text><text x="259.4" y="612.8" font-size="4.5" text-anchor="middle">10</text><text x="262.1" y="610.5" font-size="3.2">1</text><text x="278" y="612.8" font-size="4.5" text-anchor="middle">10</text><text x="280.7" y="610.5" font-size="3.2">2</text><text x="296.6" y="612.8" font-size="4.5" text-anchor="middle">10</text><text x="299.3" y="610.5" font-size="3.2">3</text><text x="315.2" y="612.8" font-size="4.5" text-anchor="middle">10</text><text x="317.9" y="610.5" font-size="3.2">4</text><text x="278.36" y="618.1" font-size="4.4" text-anchor="middle">FL1-Height</text><path d="M337.4 605.5h-1.7M337.4 602.96h-1.1M337.4 600.43h-1.1M337.4 597.89h-1.1M337.4 595.36h-1.1M337.4 592.82h-1.7M337.4 590.28h-1.1M337.4 587.75h-1.1M337.4 585.21h-1.1M337.4 582.68h-1.1M337.4 580.14h-1.7M337.4 577.6h-1.1M337.4 575.07h-1.1M337.4 572.53h-1.1M337.4 570h-1.1M337.4 567.46h-1.7M337.4 564.92h-1.1M337.4 562.39h-1.1M337.4 559.85h-1.1M337.4 557.32h-1.1M337.4 554.78h-1.7M337.4 552.24h-1.1M337.4 549.71h-1.1M337.4 547.17h-1.1M337.4 544.64h-1.1M337.4 542.1h-1.7M337.4 605.5v1.3M343.02 605.5v0.8M346.31 605.5v0.8M348.64 605.5v0.8M350.45 605.5v0.8M351.93 605.5v0.8M353.18 605.5v0.8M354.27 605.5v0.8M355.22 605.5v0.8M356.07 605.5v1.3M361.7 605.5v0.8M364.99 605.5v0.8M367.32 605.5v0.8M369.13 605.5v0.8M370.61 605.5v0.8M371.86 605.5v0.8M372.94 605.5v0.8M373.9 605.5v0.8M374.75 605.5v1.3M380.37 605.5v0.8M383.66 605.5v0.8M385.99 605.5v0.8M387.8 605.5v0.8M389.28 605.5v0.8M390.53 605.5v0.8M391.62 605.5v0.8M392.57 605.5v0.8M393.43 605.5v1.3M399.05 605.5v0.8M402.34 605.5v0.8M404.67 605.5v0.8M406.48 605.5v0.8M407.96 605.5v0.8M409.21 605.5v0.8M410.29 605.5v0.8M411.25 605.5v0.8M412.1 605.5v1.3" stroke="#222" stroke-width="0.65" fill="none"/><text transform="translate(333.2 605.5) rotate(-90)" text-anchor="middle" font-size="4.6">0</text><text transform="translate(333.2 592.82) rotate(-90)" text-anchor="middle" font-size="4.6">40</text><text transform="translate(333.2 580.14) rotate(-90)" text-anchor="middle" font-size="4.6">80</text><text transform="translate(333.2 567.46) rotate(-90)" text-anchor="middle" font-size="4.6">120</text><text transform="translate(333.2 554.78) rotate(-90)" text-anchor="middle" font-size="4.6">160</text><text transform="translate(333.2 542.1) rotate(-90)" text-anchor="middle" font-size="4.6">200</text><text transform="translate(328 574.3) rotate(-90)" text-anchor="middle" font-size="5">Counts</text><text x="336.3" y="612.8" font-size="4.5" text-anchor="middle">10</text><text x="339" y="610.5" font-size="3.2">0</text><text x="354.97" y="612.8" font-size="4.5" text-anchor="middle">10</text><text x="357.68" y="610.5" font-size="3.2">1</text><text x="373.65" y="612.8" font-size="4.5" text-anchor="middle">10</text><text x="376.35" y="610.5" font-size="3.2">2</text><text x="392.32" y="612.8" font-size="4.5" text-anchor="middle">10</text><text x="395.03" y="610.5" font-size="3.2">3</text><text x="411" y="612.8" font-size="4.5" text-anchor="middle">10</text><text x="413.7" y="610.5" font-size="3.2">4</text><text x="374" y="618.1" font-size="4.4" text-anchor="middle">FL1-Height</text><path d="M436.7 604.65h-1.7M436.7 602.12h-1.1M436.7 599.58h-1.1M436.7 597.05h-1.1M436.7 594.51h-1.1M436.7 591.98h-1.7M436.7 589.45h-1.1M436.7 586.91h-1.1M436.7 584.38h-1.1M436.7 581.84h-1.1M436.7 579.31h-1.7M436.7 576.78h-1.1M436.7 574.24h-1.1M436.7 571.71h-1.1M436.7 569.17h-1.1M436.7 566.64h-1.7M436.7 564.11h-1.1M436.7 561.57h-1.1M436.7 559.04h-1.1M436.7 556.5h-1.1M436.7 553.97h-1.7M436.7 551.44h-1.1M436.7 548.9h-1.1M436.7 546.37h-1.1M436.7 543.83h-1.1M436.7 541.3h-1.7M436.7 604.65v1.3M442.62 604.65v0.8M446.09 604.65v0.8M448.55 604.65v0.8M450.45 604.65v0.8M452.01 604.65v0.8M453.33 604.65v0.8M454.47 604.65v0.8M455.47 604.65v0.8M456.38 604.65v1.3M462.3 604.65v0.8M465.76 604.65v0.8M468.22 604.65v0.8M470.13 604.65v0.8M471.69 604.65v0.8M473 604.65v0.8M474.14 604.65v0.8M475.15 604.65v0.8M476.05 604.65v1.3M481.97 604.65v0.8M485.44 604.65v0.8M487.9 604.65v0.8M489.8 604.65v0.8M491.36 604.65v0.8M492.68 604.65v0.8M493.82 604.65v0.8M494.82 604.65v0.8M495.72 604.65v1.3M501.65 604.65v0.8M505.11 604.65v0.8M507.57 604.65v0.8M509.48 604.65v0.8M511.04 604.65v0.8M512.35 604.65v0.8M513.49 604.65v0.8M514.5 604.65v0.8M515.4 604.65v1.3" stroke="#222" stroke-width="0.65" fill="none"/><text transform="translate(432.5 604.65) rotate(-90)" text-anchor="middle" font-size="4.6">0</text><text transform="translate(432.5 591.98) rotate(-90)" text-anchor="middle" font-size="4.6">40</text><text transform="translate(432.5 579.31) rotate(-90)" text-anchor="middle" font-size="4.6">80</text><text transform="translate(432.5 566.64) rotate(-90)" text-anchor="middle" font-size="4.6">120</text><text transform="translate(432.5 553.97) rotate(-90)" text-anchor="middle" font-size="4.6">160</text><text transform="translate(432.5 541.3) rotate(-90)" text-anchor="middle" font-size="4.6">200</text><text transform="translate(427.3 573.47) rotate(-90)" text-anchor="middle" font-size="5">Counts</text><text x="435.6" y="611.95" font-size="4.5" text-anchor="middle">10</text><text x="438.3" y="609.65" font-size="3.2">0</text><text x="455.27" y="611.95" font-size="4.5" text-anchor="middle">10</text><text x="457.98" y="609.65" font-size="3.2">1</text><text x="474.95" y="611.95" font-size="4.5" text-anchor="middle">10</text><text x="477.65" y="609.65" font-size="3.2">2</text><text x="494.62" y="611.95" font-size="4.5" text-anchor="middle">10</text><text x="497.32" y="609.65" font-size="3.2">3</text><text x="514.3" y="611.95" font-size="4.5" text-anchor="middle">10</text><text x="517" y="609.65" font-size="3.2">4</text><text x="475.26" y="617.25" font-size="4.4" text-anchor="middle">FL1-Height</text><path d="M50.4 690.5h-1.7M50.4 687.96h-1.1M50.4 685.41h-1.1M50.4 682.87h-1.1M50.4 680.32h-1.1M50.4 677.78h-1.7M50.4 675.24h-1.1M50.4 672.69h-1.1M50.4 670.15h-1.1M50.4 667.6h-1.1M50.4 665.06h-1.7M50.4 662.52h-1.1M50.4 659.97h-1.1M50.4 657.43h-1.1M50.4 654.88h-1.1M50.4 652.34h-1.7M50.4 649.8h-1.1M50.4 647.25h-1.1M50.4 644.71h-1.1M50.4 642.16h-1.1M50.4 639.62h-1.7M50.4 637.08h-1.1M50.4 634.53h-1.1M50.4 631.99h-1.1M50.4 629.44h-1.1M50.4 626.9h-1.7M50.4 690.5v1.3M56.07 690.5v0.8M59.38 690.5v0.8M61.73 690.5v0.8M63.56 690.5v0.8M65.05 690.5v0.8M66.31 690.5v0.8M67.4 690.5v0.8M68.36 690.5v0.8M69.22 690.5v1.3M74.89 690.5v0.8M78.21 690.5v0.8M80.56 690.5v0.8M82.38 690.5v0.8M83.87 690.5v0.8M85.13 690.5v0.8M86.23 690.5v0.8M87.19 690.5v0.8M88.05 690.5v1.3M93.72 690.5v0.8M97.03 690.5v0.8M99.38 690.5v0.8M101.21 690.5v0.8M102.7 690.5v0.8M103.96 690.5v0.8M105.05 690.5v0.8M106.01 690.5v0.8M106.88 690.5v1.3M112.54 690.5v0.8M115.86 690.5v0.8M118.21 690.5v0.8M120.03 690.5v0.8M121.52 690.5v0.8M122.78 690.5v0.8M123.88 690.5v0.8M124.84 690.5v0.8M125.7 690.5v1.3" stroke="#222" stroke-width="0.65" fill="none"/><text transform="translate(46.2 690.5) rotate(-90)" text-anchor="middle" font-size="4.6">0</text><text transform="translate(46.2 677.78) rotate(-90)" text-anchor="middle" font-size="4.6">40</text><text transform="translate(46.2 665.06) rotate(-90)" text-anchor="middle" font-size="4.6">80</text><text transform="translate(46.2 652.34) rotate(-90)" text-anchor="middle" font-size="4.6">120</text><text transform="translate(46.2 639.62) rotate(-90)" text-anchor="middle" font-size="4.6">160</text><text transform="translate(46.2 626.9) rotate(-90)" text-anchor="middle" font-size="4.6">200</text><text transform="translate(41 659.2) rotate(-90)" text-anchor="middle" font-size="5">Counts</text><text x="49.3" y="697.8" font-size="4.5" text-anchor="middle">10</text><text x="52" y="695.5" font-size="3.2">0</text><text x="68.12" y="697.8" font-size="4.5" text-anchor="middle">10</text><text x="70.82" y="695.5" font-size="3.2">1</text><text x="86.95" y="697.8" font-size="4.5" text-anchor="middle">10</text><text x="89.65" y="695.5" font-size="3.2">2</text><text x="105.78" y="697.8" font-size="4.5" text-anchor="middle">10</text><text x="108.47" y="695.5" font-size="3.2">3</text><text x="124.6" y="697.8" font-size="4.5" text-anchor="middle">10</text><text x="127.3" y="695.5" font-size="3.2">4</text><text x="87.3" y="703.1" font-size="4.4" text-anchor="middle">FL1-Height</text><path d="M146.5 690.5h-1.7M146.5 687.94h-1.1M146.5 685.38h-1.1M146.5 682.82h-1.1M146.5 680.26h-1.1M146.5 677.7h-1.7M146.5 675.14h-1.1M146.5 672.58h-1.1M146.5 670.02h-1.1M146.5 667.46h-1.1M146.5 664.9h-1.7M146.5 662.34h-1.1M146.5 659.78h-1.1M146.5 657.22h-1.1M146.5 654.66h-1.1M146.5 652.1h-1.7M146.5 649.54h-1.1M146.5 646.98h-1.1M146.5 644.42h-1.1M146.5 641.86h-1.1M146.5 639.3h-1.7M146.5 636.74h-1.1M146.5 634.18h-1.1M146.5 631.62h-1.1M146.5 629.06h-1.1M146.5 626.5h-1.7M146.5 690.5v1.3M152.1 690.5v0.8M155.37 690.5v0.8M157.7 690.5v0.8M159.5 690.5v0.8M160.97 690.5v0.8M162.22 690.5v0.8M163.3 690.5v0.8M164.25 690.5v0.8M165.1 690.5v1.3M170.7 690.5v0.8M173.97 690.5v0.8M176.3 690.5v0.8M178.1 690.5v0.8M179.57 690.5v0.8M180.82 690.5v0.8M181.9 690.5v0.8M182.85 690.5v0.8M183.7 690.5v1.3M189.3 690.5v0.8M192.57 690.5v0.8M194.9 690.5v0.8M196.7 690.5v0.8M198.17 690.5v0.8M199.42 690.5v0.8M200.5 690.5v0.8M201.45 690.5v0.8M202.3 690.5v1.3M207.9 690.5v0.8M211.17 690.5v0.8M213.5 690.5v0.8M215.3 690.5v0.8M216.77 690.5v0.8M218.02 690.5v0.8M219.1 690.5v0.8M220.05 690.5v0.8M220.9 690.5v1.3" stroke="#222" stroke-width="0.65" fill="none"/><text transform="translate(142.3 690.5) rotate(-90)" text-anchor="middle" font-size="4.6">0</text><text transform="translate(142.3 677.7) rotate(-90)" text-anchor="middle" font-size="4.6">40</text><text transform="translate(142.3 664.9) rotate(-90)" text-anchor="middle" font-size="4.6">80</text><text transform="translate(142.3 652.1) rotate(-90)" text-anchor="middle" font-size="4.6">120</text><text transform="translate(142.3 639.3) rotate(-90)" text-anchor="middle" font-size="4.6">160</text><text transform="translate(142.3 626.5) rotate(-90)" text-anchor="middle" font-size="4.6">200</text><text transform="translate(137.1 659) rotate(-90)" text-anchor="middle" font-size="5">Counts</text><text x="145.4" y="697.8" font-size="4.5" text-anchor="middle">10</text><text x="148.1" y="695.5" font-size="3.2">0</text><text x="164" y="697.8" font-size="4.5" text-anchor="middle">10</text><text x="166.7" y="695.5" font-size="3.2">1</text><text x="182.6" y="697.8" font-size="4.5" text-anchor="middle">10</text><text x="185.3" y="695.5" font-size="3.2">2</text><text x="201.2" y="697.8" font-size="4.5" text-anchor="middle">10</text><text x="203.9" y="695.5" font-size="3.2">3</text><text x="219.8" y="697.8" font-size="4.5" text-anchor="middle">10</text><text x="222.5" y="695.5" font-size="3.2">4</text><text x="182.96" y="703.1" font-size="4.4" text-anchor="middle">FL1-Height</text><path d="M241.9 690.2h-1.7M241.9 687.65h-1.1M241.9 685.1h-1.1M241.9 682.56h-1.1M241.9 680.01h-1.1M241.9 677.46h-1.7M241.9 674.91h-1.1M241.9 672.36h-1.1M241.9 669.82h-1.1M241.9 667.27h-1.1M241.9 664.72h-1.7M241.9 662.17h-1.1M241.9 659.62h-1.1M241.9 657.08h-1.1M241.9 654.53h-1.1M241.9 651.98h-1.7M241.9 649.43h-1.1M241.9 646.88h-1.1M241.9 644.34h-1.1M241.9 641.79h-1.1M241.9 639.24h-1.7M241.9 636.69h-1.1M241.9 634.14h-1.1M241.9 631.6h-1.1M241.9 629.05h-1.1M241.9 626.5h-1.7M241.9 690.2v1.3M247.5 690.2v0.8M250.77 690.2v0.8M253.1 690.2v0.8M254.9 690.2v0.8M256.37 690.2v0.8M257.62 690.2v0.8M258.7 690.2v0.8M259.65 690.2v0.8M260.5 690.2v1.3M266.1 690.2v0.8M269.37 690.2v0.8M271.7 690.2v0.8M273.5 690.2v0.8M274.97 690.2v0.8M276.22 690.2v0.8M277.3 690.2v0.8M278.25 690.2v0.8M279.1 690.2v1.3M284.7 690.2v0.8M287.97 690.2v0.8M290.3 690.2v0.8M292.1 690.2v0.8M293.57 690.2v0.8M294.82 690.2v0.8M295.9 690.2v0.8M296.85 690.2v0.8M297.7 690.2v1.3M303.3 690.2v0.8M306.57 690.2v0.8M308.9 690.2v0.8M310.7 690.2v0.8M312.17 690.2v0.8M313.42 690.2v0.8M314.5 690.2v0.8M315.45 690.2v0.8M316.3 690.2v1.3" stroke="#222" stroke-width="0.65" fill="none"/><text transform="translate(237.7 690.2) rotate(-90)" text-anchor="middle" font-size="4.6">0</text><text transform="translate(237.7 677.46) rotate(-90)" text-anchor="middle" font-size="4.6">40</text><text transform="translate(237.7 664.72) rotate(-90)" text-anchor="middle" font-size="4.6">80</text><text transform="translate(237.7 651.98) rotate(-90)" text-anchor="middle" font-size="4.6">120</text><text transform="translate(237.7 639.24) rotate(-90)" text-anchor="middle" font-size="4.6">160</text><text transform="translate(237.7 626.5) rotate(-90)" text-anchor="middle" font-size="4.6">200</text><text transform="translate(232.5 658.85) rotate(-90)" text-anchor="middle" font-size="5">Counts</text><text x="240.8" y="697.5" font-size="4.5" text-anchor="middle">10</text><text x="243.5" y="695.2" font-size="3.2">0</text><text x="259.4" y="697.5" font-size="4.5" text-anchor="middle">10</text><text x="262.1" y="695.2" font-size="3.2">1</text><text x="278" y="697.5" font-size="4.5" text-anchor="middle">10</text><text x="280.7" y="695.2" font-size="3.2">2</text><text x="296.6" y="697.5" font-size="4.5" text-anchor="middle">10</text><text x="299.3" y="695.2" font-size="3.2">3</text><text x="315.2" y="697.5" font-size="4.5" text-anchor="middle">10</text><text x="317.9" y="695.2" font-size="3.2">4</text><text x="278.36" y="702.8" font-size="4.4" text-anchor="middle">FL1-Height</text><path d="M337.7 690.2h-1.7M337.7 687.64h-1.1M337.7 685.09h-1.1M337.7 682.53h-1.1M337.7 679.98h-1.1M337.7 677.42h-1.7M337.7 674.86h-1.1M337.7 672.31h-1.1M337.7 669.75h-1.1M337.7 667.2h-1.1M337.7 664.64h-1.7M337.7 662.08h-1.1M337.7 659.53h-1.1M337.7 656.97h-1.1M337.7 654.42h-1.1M337.7 651.86h-1.7M337.7 649.3h-1.1M337.7 646.75h-1.1M337.7 644.19h-1.1M337.7 641.64h-1.1M337.7 639.08h-1.7M337.7 636.52h-1.1M337.7 633.97h-1.1M337.7 631.41h-1.1M337.7 628.86h-1.1M337.7 626.3h-1.7M337.7 690.2v1.3M343.3 690.2v0.8M346.57 690.2v0.8M348.9 690.2v0.8M350.7 690.2v0.8M352.17 690.2v0.8M353.42 690.2v0.8M354.5 690.2v0.8M355.45 690.2v0.8M356.3 690.2v1.3M361.9 690.2v0.8M365.17 690.2v0.8M367.5 690.2v0.8M369.3 690.2v0.8M370.77 690.2v0.8M372.02 690.2v0.8M373.1 690.2v0.8M374.05 690.2v0.8M374.9 690.2v1.3M380.5 690.2v0.8M383.77 690.2v0.8M386.1 690.2v0.8M387.9 690.2v0.8M389.37 690.2v0.8M390.62 690.2v0.8M391.7 690.2v0.8M392.65 690.2v0.8M393.5 690.2v1.3M399.1 690.2v0.8M402.37 690.2v0.8M404.7 690.2v0.8M406.5 690.2v0.8M407.97 690.2v0.8M409.22 690.2v0.8M410.3 690.2v0.8M411.25 690.2v0.8M412.1 690.2v1.3" stroke="#222" stroke-width="0.65" fill="none"/><text transform="translate(333.5 690.2) rotate(-90)" text-anchor="middle" font-size="4.6">0</text><text transform="translate(333.5 677.42) rotate(-90)" text-anchor="middle" font-size="4.6">40</text><text transform="translate(333.5 664.64) rotate(-90)" text-anchor="middle" font-size="4.6">80</text><text transform="translate(333.5 651.86) rotate(-90)" text-anchor="middle" font-size="4.6">120</text><text transform="translate(333.5 639.08) rotate(-90)" text-anchor="middle" font-size="4.6">160</text><text transform="translate(333.5 626.3) rotate(-90)" text-anchor="middle" font-size="4.6">200</text><text transform="translate(328.3 658.75) rotate(-90)" text-anchor="middle" font-size="5">Counts</text><text x="336.6" y="697.5" font-size="4.5" text-anchor="middle">10</text><text x="339.3" y="695.2" font-size="3.2">0</text><text x="355.2" y="697.5" font-size="4.5" text-anchor="middle">10</text><text x="357.9" y="695.2" font-size="3.2">1</text><text x="373.8" y="697.5" font-size="4.5" text-anchor="middle">10</text><text x="376.5" y="695.2" font-size="3.2">2</text><text x="392.4" y="697.5" font-size="4.5" text-anchor="middle">10</text><text x="395.1" y="695.2" font-size="3.2">3</text><text x="411" y="697.5" font-size="4.5" text-anchor="middle">10</text><text x="413.7" y="695.2" font-size="3.2">4</text><text x="374.16" y="702.8" font-size="4.4" text-anchor="middle">FL1-Height</text><path d="M437.1 689.9h-1.7M437.1 687.35h-1.1M437.1 684.8h-1.1M437.1 682.24h-1.1M437.1 679.69h-1.1M437.1 677.14h-1.7M437.1 674.59h-1.1M437.1 672.04h-1.1M437.1 669.48h-1.1M437.1 666.93h-1.1M437.1 664.38h-1.7M437.1 661.83h-1.1M437.1 659.28h-1.1M437.1 656.72h-1.1M437.1 654.17h-1.1M437.1 651.62h-1.7M437.1 649.07h-1.1M437.1 646.52h-1.1M437.1 643.96h-1.1M437.1 641.41h-1.1M437.1 638.86h-1.7M437.1 636.31h-1.1M437.1 633.76h-1.1M437.1 631.2h-1.1M437.1 628.65h-1.1M437.1 626.1h-1.7M437.1 689.9v1.3M442.99 689.9v0.8M446.44 689.9v0.8M448.89 689.9v0.8M450.78 689.9v0.8M452.33 689.9v0.8M453.64 689.9v0.8M454.78 689.9v0.8M455.78 689.9v0.8M456.68 689.9v1.3M462.57 689.9v0.8M466.01 689.9v0.8M468.46 689.9v0.8M470.36 689.9v0.8M471.91 689.9v0.8M473.22 689.9v0.8M474.35 689.9v0.8M475.35 689.9v0.8M476.25 689.9v1.3M482.14 689.9v0.8M485.59 689.9v0.8M488.04 689.9v0.8M489.93 689.9v0.8M491.48 689.9v0.8M492.79 689.9v0.8M493.93 689.9v0.8M494.93 689.9v0.8M495.82 689.9v1.3M501.72 689.9v0.8M505.16 689.9v0.8M507.61 689.9v0.8M509.51 689.9v0.8M511.06 689.9v0.8M512.37 689.9v0.8M513.5 689.9v0.8M514.5 689.9v0.8M515.4 689.9v1.3" stroke="#222" stroke-width="0.65" fill="none"/><text transform="translate(432.9 689.9) rotate(-90)" text-anchor="middle" font-size="4.6">0</text><text transform="translate(432.9 677.14) rotate(-90)" text-anchor="middle" font-size="4.6">40</text><text transform="translate(432.9 664.38) rotate(-90)" text-anchor="middle" font-size="4.6">80</text><text transform="translate(432.9 651.62) rotate(-90)" text-anchor="middle" font-size="4.6">120</text><text transform="translate(432.9 638.86) rotate(-90)" text-anchor="middle" font-size="4.6">160</text><text transform="translate(432.9 626.1) rotate(-90)" text-anchor="middle" font-size="4.6">200</text><text transform="translate(427.7 658.5) rotate(-90)" text-anchor="middle" font-size="5">Counts</text><text x="436" y="697.2" font-size="4.5" text-anchor="middle">10</text><text x="438.7" y="694.9" font-size="3.2">0</text><text x="455.57" y="697.2" font-size="4.5" text-anchor="middle">10</text><text x="458.28" y="694.9" font-size="3.2">1</text><text x="475.15" y="697.2" font-size="4.5" text-anchor="middle">10</text><text x="477.85" y="694.9" font-size="3.2">2</text><text x="494.72" y="697.2" font-size="4.5" text-anchor="middle">10</text><text x="497.43" y="694.9" font-size="3.2">3</text><text x="514.3" y="697.2" font-size="4.5" text-anchor="middle">10</text><text x="517" y="694.9" font-size="3.2">4</text><text x="475.47" y="702.5" font-size="4.4" text-anchor="middle">FL1-Height</text><path d="M51 774.9h-1.7M51 772.36h-1.1M51 769.82h-1.1M51 767.28h-1.1M51 764.74h-1.1M51 762.2h-1.7M51 759.66h-1.1M51 757.12h-1.1M51 754.58h-1.1M51 752.04h-1.1M51 749.5h-1.7M51 746.96h-1.1M51 744.42h-1.1M51 741.88h-1.1M51 739.34h-1.1M51 736.8h-1.7M51 734.26h-1.1M51 731.72h-1.1M51 729.18h-1.1M51 726.64h-1.1M51 724.1h-1.7M51 721.56h-1.1M51 719.02h-1.1M51 716.48h-1.1M51 713.94h-1.1M51 711.4h-1.7M51 774.9v1.3M56.63 774.9v0.8M59.92 774.9v0.8M62.26 774.9v0.8M64.07 774.9v0.8M65.55 774.9v0.8M66.8 774.9v0.8M67.89 774.9v0.8M68.84 774.9v0.8M69.7 774.9v1.3M75.33 774.9v0.8M78.62 774.9v0.8M80.96 774.9v0.8M82.77 774.9v0.8M84.25 774.9v0.8M85.5 774.9v0.8M86.59 774.9v0.8M87.54 774.9v0.8M88.4 774.9v1.3M94.03 774.9v0.8M97.32 774.9v0.8M99.66 774.9v0.8M101.47 774.9v0.8M102.95 774.9v0.8M104.2 774.9v0.8M105.29 774.9v0.8M106.24 774.9v0.8M107.1 774.9v1.3M112.73 774.9v0.8M116.02 774.9v0.8M118.36 774.9v0.8M120.17 774.9v0.8M121.65 774.9v0.8M122.9 774.9v0.8M123.99 774.9v0.8M124.94 774.9v0.8M125.8 774.9v1.3" stroke="#222" stroke-width="0.65" fill="none"/><text transform="translate(46.8 774.9) rotate(-90)" text-anchor="middle" font-size="4.6">0</text><text transform="translate(46.8 762.2) rotate(-90)" text-anchor="middle" font-size="4.6">40</text><text transform="translate(46.8 749.5) rotate(-90)" text-anchor="middle" font-size="4.6">80</text><text transform="translate(46.8 736.8) rotate(-90)" text-anchor="middle" font-size="4.6">120</text><text transform="translate(46.8 724.1) rotate(-90)" text-anchor="middle" font-size="4.6">160</text><text transform="translate(46.8 711.4) rotate(-90)" text-anchor="middle" font-size="4.6">200</text><text transform="translate(41.6 743.65) rotate(-90)" text-anchor="middle" font-size="5">Counts</text><text x="49.9" y="782.2" font-size="4.5" text-anchor="middle">10</text><text x="52.6" y="779.9" font-size="3.2">0</text><text x="68.6" y="782.2" font-size="4.5" text-anchor="middle">10</text><text x="71.3" y="779.9" font-size="3.2">1</text><text x="87.3" y="782.2" font-size="4.5" text-anchor="middle">10</text><text x="90" y="779.9" font-size="3.2">2</text><text x="106" y="782.2" font-size="4.5" text-anchor="middle">10</text><text x="108.7" y="779.9" font-size="3.2">3</text><text x="124.7" y="782.2" font-size="4.5" text-anchor="middle">10</text><text x="127.4" y="779.9" font-size="3.2">4</text><text x="87.65" y="787.5" font-size="4.4" text-anchor="middle">FL1-Height</text><path d="M146.9 774.8h-1.7M146.9 772.25h-1.1M146.9 769.7h-1.1M146.9 767.16h-1.1M146.9 764.61h-1.1M146.9 762.06h-1.7M146.9 759.51h-1.1M146.9 756.96h-1.1M146.9 754.42h-1.1M146.9 751.87h-1.1M146.9 749.32h-1.7M146.9 746.77h-1.1M146.9 744.22h-1.1M146.9 741.68h-1.1M146.9 739.13h-1.1M146.9 736.58h-1.7M146.9 734.03h-1.1M146.9 731.48h-1.1M146.9 728.94h-1.1M146.9 726.39h-1.1M146.9 723.84h-1.7M146.9 721.29h-1.1M146.9 718.74h-1.1M146.9 716.2h-1.1M146.9 713.65h-1.1M146.9 711.1h-1.7M146.9 774.8v1.3M152.48 774.8v0.8M155.75 774.8v0.8M158.07 774.8v0.8M159.87 774.8v0.8M161.33 774.8v0.8M162.58 774.8v0.8M163.65 774.8v0.8M164.6 774.8v0.8M165.45 774.8v1.3M171.03 774.8v0.8M174.3 774.8v0.8M176.62 774.8v0.8M178.42 774.8v0.8M179.88 774.8v0.8M181.13 774.8v0.8M182.2 774.8v0.8M183.15 774.8v0.8M184 774.8v1.3M189.58 774.8v0.8M192.85 774.8v0.8M195.17 774.8v0.8M196.97 774.8v0.8M198.43 774.8v0.8M199.68 774.8v0.8M200.75 774.8v0.8M201.7 774.8v0.8M202.55 774.8v1.3M208.13 774.8v0.8M211.4 774.8v0.8M213.72 774.8v0.8M215.52 774.8v0.8M216.98 774.8v0.8M218.23 774.8v0.8M219.3 774.8v0.8M220.25 774.8v0.8M221.1 774.8v1.3" stroke="#222" stroke-width="0.65" fill="none"/><text transform="translate(142.7 774.8) rotate(-90)" text-anchor="middle" font-size="4.6">0</text><text transform="translate(142.7 762.06) rotate(-90)" text-anchor="middle" font-size="4.6">40</text><text transform="translate(142.7 749.32) rotate(-90)" text-anchor="middle" font-size="4.6">80</text><text transform="translate(142.7 736.58) rotate(-90)" text-anchor="middle" font-size="4.6">120</text><text transform="translate(142.7 723.84) rotate(-90)" text-anchor="middle" font-size="4.6">160</text><text transform="translate(142.7 711.1) rotate(-90)" text-anchor="middle" font-size="4.6">200</text><text transform="translate(137.5 743.45) rotate(-90)" text-anchor="middle" font-size="5">Counts</text><text x="145.8" y="782.1" font-size="4.5" text-anchor="middle">10</text><text x="148.5" y="779.8" font-size="3.2">0</text><text x="164.35" y="782.1" font-size="4.5" text-anchor="middle">10</text><text x="167.05" y="779.8" font-size="3.2">1</text><text x="182.9" y="782.1" font-size="4.5" text-anchor="middle">10</text><text x="185.6" y="779.8" font-size="3.2">2</text><text x="201.45" y="782.1" font-size="4.5" text-anchor="middle">10</text><text x="204.15" y="779.8" font-size="3.2">3</text><text x="220" y="782.1" font-size="4.5" text-anchor="middle">10</text><text x="222.7" y="779.8" font-size="3.2">4</text><text x="183.26" y="787.4" font-size="4.4" text-anchor="middle">FL1-Height</text><path d="M242.3 774.4h-1.7M242.3 771.88h-1.1M242.3 769.37h-1.1M242.3 766.85h-1.1M242.3 764.34h-1.1M242.3 761.82h-1.7M242.3 759.3h-1.1M242.3 756.79h-1.1M242.3 754.27h-1.1M242.3 751.76h-1.1M242.3 749.24h-1.7M242.3 746.72h-1.1M242.3 744.21h-1.1M242.3 741.69h-1.1M242.3 739.18h-1.1M242.3 736.66h-1.7M242.3 734.14h-1.1M242.3 731.63h-1.1M242.3 729.11h-1.1M242.3 726.6h-1.1M242.3 724.08h-1.7M242.3 721.56h-1.1M242.3 719.05h-1.1M242.3 716.53h-1.1M242.3 714.02h-1.1M242.3 711.5h-1.7M242.3 774.4v1.3M247.93 774.4v0.8M251.22 774.4v0.8M253.56 774.4v0.8M255.37 774.4v0.8M256.85 774.4v0.8M258.1 774.4v0.8M259.19 774.4v0.8M260.14 774.4v0.8M261 774.4v1.3M266.63 774.4v0.8M269.92 774.4v0.8M272.26 774.4v0.8M274.07 774.4v0.8M275.55 774.4v0.8M276.8 774.4v0.8M277.89 774.4v0.8M278.84 774.4v0.8M279.7 774.4v1.3M285.33 774.4v0.8M288.62 774.4v0.8M290.96 774.4v0.8M292.77 774.4v0.8M294.25 774.4v0.8M295.5 774.4v0.8M296.59 774.4v0.8M297.54 774.4v0.8M298.4 774.4v1.3M304.03 774.4v0.8M307.32 774.4v0.8M309.66 774.4v0.8M311.47 774.4v0.8M312.95 774.4v0.8M314.2 774.4v0.8M315.29 774.4v0.8M316.24 774.4v0.8M317.1 774.4v1.3" stroke="#222" stroke-width="0.65" fill="none"/><text transform="translate(238.1 774.4) rotate(-90)" text-anchor="middle" font-size="4.6">0</text><text transform="translate(238.1 761.82) rotate(-90)" text-anchor="middle" font-size="4.6">40</text><text transform="translate(238.1 749.24) rotate(-90)" text-anchor="middle" font-size="4.6">80</text><text transform="translate(238.1 736.66) rotate(-90)" text-anchor="middle" font-size="4.6">120</text><text transform="translate(238.1 724.08) rotate(-90)" text-anchor="middle" font-size="4.6">160</text><text transform="translate(238.1 711.5) rotate(-90)" text-anchor="middle" font-size="4.6">200</text><text transform="translate(232.9 743.45) rotate(-90)" text-anchor="middle" font-size="5">Counts</text><text x="241.2" y="781.7" font-size="4.5" text-anchor="middle">10</text><text x="243.9" y="779.4" font-size="3.2">0</text><text x="259.9" y="781.7" font-size="4.5" text-anchor="middle">10</text><text x="262.6" y="779.4" font-size="3.2">1</text><text x="278.6" y="781.7" font-size="4.5" text-anchor="middle">10</text><text x="281.3" y="779.4" font-size="3.2">2</text><text x="297.3" y="781.7" font-size="4.5" text-anchor="middle">10</text><text x="300" y="779.4" font-size="3.2">3</text><text x="316" y="781.7" font-size="4.5" text-anchor="middle">10</text><text x="318.7" y="779.4" font-size="3.2">4</text><text x="278.95" y="787" font-size="4.4" text-anchor="middle">FL1-Height</text><path d="M338.2 774.4h-1.7M338.2 771.87h-1.1M338.2 769.34h-1.1M338.2 766.8h-1.1M338.2 764.27h-1.1M338.2 761.74h-1.7M338.2 759.21h-1.1M338.2 756.68h-1.1M338.2 754.14h-1.1M338.2 751.61h-1.1M338.2 749.08h-1.7M338.2 746.55h-1.1M338.2 744.02h-1.1M338.2 741.48h-1.1M338.2 738.95h-1.1M338.2 736.42h-1.7M338.2 733.89h-1.1M338.2 731.36h-1.1M338.2 728.82h-1.1M338.2 726.29h-1.1M338.2 723.76h-1.7M338.2 721.23h-1.1M338.2 718.7h-1.1M338.2 716.16h-1.1M338.2 713.63h-1.1M338.2 711.1h-1.7M338.2 774.4v1.3M343.79 774.4v0.8M347.06 774.4v0.8M349.38 774.4v0.8M351.18 774.4v0.8M352.65 774.4v0.8M353.9 774.4v0.8M354.97 774.4v0.8M355.93 774.4v0.8M356.77 774.4v1.3M362.37 774.4v0.8M365.64 774.4v0.8M367.96 774.4v0.8M369.76 774.4v0.8M371.23 774.4v0.8M372.47 774.4v0.8M373.55 774.4v0.8M374.5 774.4v0.8M375.35 774.4v1.3M380.94 774.4v0.8M384.21 774.4v0.8M386.53 774.4v0.8M388.33 774.4v0.8M389.8 774.4v0.8M391.05 774.4v0.8M392.12 774.4v0.8M393.08 774.4v0.8M393.93 774.4v1.3M399.52 774.4v0.8M402.79 774.4v0.8M405.11 774.4v0.8M406.91 774.4v0.8M408.38 774.4v0.8M409.62 774.4v0.8M410.7 774.4v0.8M411.65 774.4v0.8M412.5 774.4v1.3" stroke="#222" stroke-width="0.65" fill="none"/><text transform="translate(334 774.4) rotate(-90)" text-anchor="middle" font-size="4.6">0</text><text transform="translate(334 761.74) rotate(-90)" text-anchor="middle" font-size="4.6">40</text><text transform="translate(334 749.08) rotate(-90)" text-anchor="middle" font-size="4.6">80</text><text transform="translate(334 736.42) rotate(-90)" text-anchor="middle" font-size="4.6">120</text><text transform="translate(334 723.76) rotate(-90)" text-anchor="middle" font-size="4.6">160</text><text transform="translate(334 711.1) rotate(-90)" text-anchor="middle" font-size="4.6">200</text><text transform="translate(328.8 743.25) rotate(-90)" text-anchor="middle" font-size="5">Counts</text><text x="337.1" y="781.7" font-size="4.5" text-anchor="middle">10</text><text x="339.8" y="779.4" font-size="3.2">0</text><text x="355.67" y="781.7" font-size="4.5" text-anchor="middle">10</text><text x="358.38" y="779.4" font-size="3.2">1</text><text x="374.25" y="781.7" font-size="4.5" text-anchor="middle">10</text><text x="376.95" y="779.4" font-size="3.2">2</text><text x="392.82" y="781.7" font-size="4.5" text-anchor="middle">10</text><text x="395.53" y="779.4" font-size="3.2">3</text><text x="411.4" y="781.7" font-size="4.5" text-anchor="middle">10</text><text x="414.1" y="779.4" font-size="3.2">4</text><text x="374.61" y="787" font-size="4.4" text-anchor="middle">FL1-Height</text><path d="M437.1 774.1h-1.7M437.1 771.57h-1.1M437.1 769.04h-1.1M437.1 766.52h-1.1M437.1 763.99h-1.1M437.1 761.46h-1.7M437.1 758.93h-1.1M437.1 756.4h-1.1M437.1 753.88h-1.1M437.1 751.35h-1.1M437.1 748.82h-1.7M437.1 746.29h-1.1M437.1 743.76h-1.1M437.1 741.24h-1.1M437.1 738.71h-1.1M437.1 736.18h-1.7M437.1 733.65h-1.1M437.1 731.12h-1.1M437.1 728.6h-1.1M437.1 726.07h-1.1M437.1 723.54h-1.7M437.1 721.01h-1.1M437.1 718.48h-1.1M437.1 715.96h-1.1M437.1 713.43h-1.1M437.1 710.9h-1.7M437.1 774.1v1.3M442.99 774.1v0.8M446.44 774.1v0.8M448.89 774.1v0.8M450.78 774.1v0.8M452.33 774.1v0.8M453.64 774.1v0.8M454.78 774.1v0.8M455.78 774.1v0.8M456.68 774.1v1.3M462.57 774.1v0.8M466.01 774.1v0.8M468.46 774.1v0.8M470.36 774.1v0.8M471.91 774.1v0.8M473.22 774.1v0.8M474.35 774.1v0.8M475.35 774.1v0.8M476.25 774.1v1.3M482.14 774.1v0.8M485.59 774.1v0.8M488.04 774.1v0.8M489.93 774.1v0.8M491.48 774.1v0.8M492.79 774.1v0.8M493.93 774.1v0.8M494.93 774.1v0.8M495.82 774.1v1.3M501.72 774.1v0.8M505.16 774.1v0.8M507.61 774.1v0.8M509.51 774.1v0.8M511.06 774.1v0.8M512.37 774.1v0.8M513.5 774.1v0.8M514.5 774.1v0.8M515.4 774.1v1.3" stroke="#222" stroke-width="0.65" fill="none"/><text transform="translate(432.9 774.1) rotate(-90)" text-anchor="middle" font-size="4.6">0</text><text transform="translate(432.9 761.46) rotate(-90)" text-anchor="middle" font-size="4.6">40</text><text transform="translate(432.9 748.82) rotate(-90)" text-anchor="middle" font-size="4.6">80</text><text transform="translate(432.9 736.18) rotate(-90)" text-anchor="middle" font-size="4.6">120</text><text transform="translate(432.9 723.54) rotate(-90)" text-anchor="middle" font-size="4.6">160</text><text transform="translate(432.9 710.9) rotate(-90)" text-anchor="middle" font-size="4.6">200</text><text transform="translate(427.7 743) rotate(-90)" text-anchor="middle" font-size="5">Counts</text><text x="436" y="781.4" font-size="4.5" text-anchor="middle">10</text><text x="438.7" y="779.1" font-size="3.2">0</text><text x="455.57" y="781.4" font-size="4.5" text-anchor="middle">10</text><text x="458.28" y="779.1" font-size="3.2">1</text><text x="475.15" y="781.4" font-size="4.5" text-anchor="middle">10</text><text x="477.85" y="779.1" font-size="3.2">2</text><text x="494.72" y="781.4" font-size="4.5" text-anchor="middle">10</text><text x="497.43" y="779.1" font-size="3.2">3</text><text x="514.3" y="781.4" font-size="4.5" text-anchor="middle">10</text><text x="517" y="779.1" font-size="3.2">4</text><text x="475.47" y="786.7" font-size="4.4" text-anchor="middle">FL1-Height</text></g>
</svg>
</body></html>
